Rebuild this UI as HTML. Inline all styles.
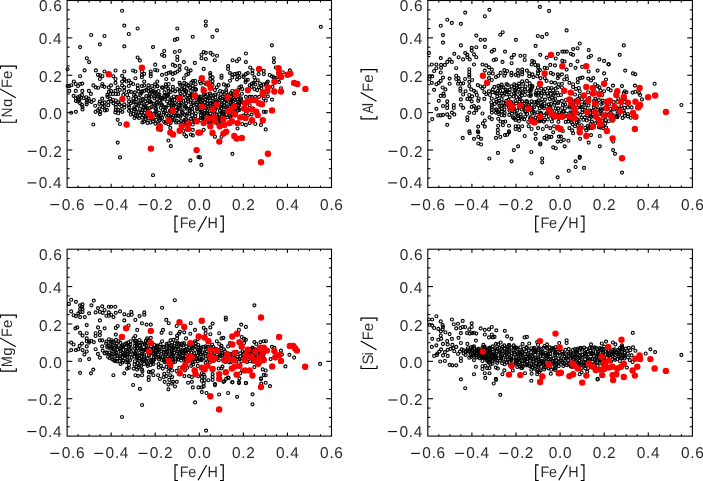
<!DOCTYPE html><html><head><meta charset="utf-8"><style>html,body{margin:0;padding:0;background:#fff;overflow:hidden}svg{display:block;will-change:transform}</style></head><body><svg width="703" height="481" viewBox="0 0 703 481">
<rect width="703" height="481" fill="#fff"/>
<g fill="none" stroke="#000" stroke-width="1.15">
<circle cx="122.1" cy="10.7" r="1.5"/>
<circle cx="124.3" cy="25.6" r="1.5"/>
<circle cx="128.8" cy="34.0" r="1.5"/>
<circle cx="137.6" cy="28.5" r="1.5"/>
<circle cx="91.2" cy="35.0" r="1.5"/>
<circle cx="104.5" cy="36.0" r="1.5"/>
<circle cx="124.3" cy="46.3" r="1.5"/>
<circle cx="99.9" cy="44.4" r="1.5"/>
<circle cx="80.1" cy="47.1" r="1.5"/>
<circle cx="153.0" cy="47.1" r="1.5"/>
<circle cx="177.3" cy="28.5" r="1.5"/>
<circle cx="174.8" cy="39.9" r="1.5"/>
<circle cx="177.3" cy="38.9" r="1.5"/>
<circle cx="192.7" cy="36.7" r="1.5"/>
<circle cx="86.8" cy="58.2" r="1.5"/>
<circle cx="89.1" cy="62.1" r="1.5"/>
<circle cx="137.6" cy="57.5" r="1.5"/>
<circle cx="139.9" cy="60.4" r="1.5"/>
<circle cx="164.2" cy="51.0" r="1.5"/>
<circle cx="162.0" cy="54.7" r="1.5"/>
<circle cx="164.2" cy="55.9" r="1.5"/>
<circle cx="174.8" cy="52.0" r="1.5"/>
<circle cx="179.6" cy="51.0" r="1.5"/>
<circle cx="177.3" cy="56.7" r="1.5"/>
<circle cx="177.3" cy="60.0" r="1.5"/>
<circle cx="183.9" cy="62.1" r="1.5"/>
<circle cx="194.9" cy="62.9" r="1.5"/>
<circle cx="155.2" cy="64.7" r="1.5"/>
<circle cx="164.2" cy="66.8" r="1.5"/>
<circle cx="172.8" cy="64.7" r="1.5"/>
<circle cx="175.1" cy="65.9" r="1.5"/>
<circle cx="179.6" cy="65.9" r="1.5"/>
<circle cx="84.6" cy="70.4" r="1.5"/>
<circle cx="95.9" cy="70.4" r="1.5"/>
<circle cx="104.5" cy="71.5" r="1.5"/>
<circle cx="115.5" cy="70.5" r="1.5"/>
<circle cx="124.3" cy="71.5" r="1.5"/>
<circle cx="133.1" cy="70.5" r="1.5"/>
<circle cx="135.4" cy="71.5" r="1.5"/>
<circle cx="141.9" cy="71.5" r="1.5"/>
<circle cx="150.7" cy="71.5" r="1.5"/>
<circle cx="155.2" cy="70.0" r="1.5"/>
<circle cx="157.3" cy="70.5" r="1.5"/>
<circle cx="186.3" cy="68.2" r="1.5"/>
<circle cx="179.6" cy="69.8" r="1.5"/>
<circle cx="190.6" cy="70.4" r="1.5"/>
<circle cx="188.4" cy="71.5" r="1.5"/>
<circle cx="80.1" cy="76.2" r="1.5"/>
<circle cx="97.9" cy="74.8" r="1.5"/>
<circle cx="100.2" cy="75.2" r="1.5"/>
<circle cx="102.4" cy="76.2" r="1.5"/>
<circle cx="99.9" cy="79.0" r="1.5"/>
<circle cx="113.3" cy="76.2" r="1.5"/>
<circle cx="122.1" cy="75.8" r="1.5"/>
<circle cx="115.5" cy="79.0" r="1.5"/>
<circle cx="124.3" cy="79.0" r="1.5"/>
<circle cx="135.4" cy="78.2" r="1.5"/>
<circle cx="141.9" cy="75.0" r="1.5"/>
<circle cx="144.2" cy="73.9" r="1.5"/>
<circle cx="141.9" cy="77.2" r="1.5"/>
<circle cx="150.7" cy="73.9" r="1.5"/>
<circle cx="150.7" cy="76.2" r="1.5"/>
<circle cx="162.0" cy="74.8" r="1.5"/>
<circle cx="166.3" cy="73.9" r="1.5"/>
<circle cx="168.7" cy="72.7" r="1.5"/>
<circle cx="170.6" cy="72.3" r="1.5"/>
<circle cx="172.8" cy="73.9" r="1.5"/>
<circle cx="175.1" cy="72.9" r="1.5"/>
<circle cx="177.5" cy="71.5" r="1.5"/>
<circle cx="186.3" cy="74.8" r="1.5"/>
<circle cx="188.4" cy="73.9" r="1.5"/>
<circle cx="166.3" cy="79.0" r="1.5"/>
<circle cx="172.8" cy="79.5" r="1.5"/>
<circle cx="183.9" cy="78.2" r="1.5"/>
<circle cx="192.9" cy="81.1" r="1.5"/>
<circle cx="195.1" cy="80.7" r="1.5"/>
<circle cx="73.8" cy="81.5" r="1.5"/>
<circle cx="67.6" cy="69.2" r="1.5"/>
<circle cx="75.8" cy="84.0" r="1.5"/>
<circle cx="80.1" cy="84.0" r="1.5"/>
<circle cx="82.3" cy="83.6" r="1.5"/>
<circle cx="102.4" cy="84.0" r="1.5"/>
<circle cx="115.5" cy="82.9" r="1.5"/>
<circle cx="122.1" cy="81.5" r="1.5"/>
<circle cx="124.3" cy="80.1" r="1.5"/>
<circle cx="126.6" cy="81.5" r="1.5"/>
<circle cx="128.8" cy="80.5" r="1.5"/>
<circle cx="130.9" cy="82.9" r="1.5"/>
<circle cx="133.1" cy="84.0" r="1.5"/>
<circle cx="144.2" cy="81.5" r="1.5"/>
<circle cx="157.3" cy="81.5" r="1.5"/>
<circle cx="168.7" cy="84.0" r="1.5"/>
<circle cx="179.6" cy="82.9" r="1.5"/>
<circle cx="184.3" cy="82.9" r="1.5"/>
<circle cx="186.3" cy="84.0" r="1.5"/>
<circle cx="67.6" cy="86.0" r="1.5"/>
<circle cx="69.3" cy="86.0" r="1.5"/>
<circle cx="71.3" cy="85.2" r="1.5"/>
<circle cx="78.0" cy="86.0" r="1.5"/>
<circle cx="93.4" cy="85.4" r="1.5"/>
<circle cx="95.9" cy="87.4" r="1.5"/>
<circle cx="98.1" cy="87.7" r="1.5"/>
<circle cx="102.2" cy="86.0" r="1.5"/>
<circle cx="104.5" cy="86.8" r="1.5"/>
<circle cx="111.0" cy="85.4" r="1.5"/>
<circle cx="108.8" cy="87.4" r="1.5"/>
<circle cx="117.6" cy="87.4" r="1.5"/>
<circle cx="122.1" cy="85.4" r="1.5"/>
<circle cx="124.3" cy="87.4" r="1.5"/>
<circle cx="128.8" cy="86.0" r="1.5"/>
<circle cx="137.6" cy="85.4" r="1.5"/>
<circle cx="144.2" cy="85.4" r="1.5"/>
<circle cx="148.5" cy="85.4" r="1.5"/>
<circle cx="157.3" cy="86.0" r="1.5"/>
<circle cx="162.0" cy="87.4" r="1.5"/>
<circle cx="166.3" cy="86.8" r="1.5"/>
<circle cx="184.3" cy="87.0" r="1.5"/>
<circle cx="188.2" cy="86.0" r="1.5"/>
<circle cx="192.7" cy="86.0" r="1.5"/>
<circle cx="195.1" cy="88.9" r="1.5"/>
<circle cx="69.3" cy="90.9" r="1.5"/>
<circle cx="75.8" cy="90.9" r="1.5"/>
<circle cx="82.3" cy="90.9" r="1.5"/>
<circle cx="88.9" cy="90.9" r="1.5"/>
<circle cx="108.8" cy="91.9" r="1.5"/>
<circle cx="111.0" cy="90.9" r="1.5"/>
<circle cx="115.5" cy="90.9" r="1.5"/>
<circle cx="119.8" cy="89.9" r="1.5"/>
<circle cx="124.3" cy="90.9" r="1.5"/>
<circle cx="128.8" cy="91.3" r="1.5"/>
<circle cx="130.9" cy="91.9" r="1.5"/>
<circle cx="141.9" cy="91.9" r="1.5"/>
<circle cx="144.2" cy="90.9" r="1.5"/>
<circle cx="146.4" cy="89.9" r="1.5"/>
<circle cx="148.5" cy="90.9" r="1.5"/>
<circle cx="150.7" cy="89.9" r="1.5"/>
<circle cx="153.0" cy="90.9" r="1.5"/>
<circle cx="155.2" cy="91.9" r="1.5"/>
<circle cx="168.7" cy="90.9" r="1.5"/>
<circle cx="170.6" cy="91.9" r="1.5"/>
<circle cx="172.8" cy="89.9" r="1.5"/>
<circle cx="179.6" cy="90.9" r="1.5"/>
<circle cx="183.9" cy="89.9" r="1.5"/>
<circle cx="186.3" cy="90.9" r="1.5"/>
<circle cx="190.6" cy="90.9" r="1.5"/>
<circle cx="205.8" cy="21.5" r="1.5"/>
<circle cx="205.8" cy="25.6" r="1.5"/>
<circle cx="217.0" cy="30.3" r="1.5"/>
<circle cx="212.5" cy="36.7" r="1.5"/>
<circle cx="320.8" cy="26.8" r="1.5"/>
<circle cx="271.9" cy="45.3" r="1.5"/>
<circle cx="203.7" cy="52.0" r="1.5"/>
<circle cx="205.8" cy="52.8" r="1.5"/>
<circle cx="210.5" cy="52.8" r="1.5"/>
<circle cx="201.5" cy="54.7" r="1.5"/>
<circle cx="212.7" cy="54.7" r="1.5"/>
<circle cx="217.0" cy="55.7" r="1.5"/>
<circle cx="201.5" cy="58.2" r="1.5"/>
<circle cx="205.8" cy="59.0" r="1.5"/>
<circle cx="214.8" cy="60.2" r="1.5"/>
<circle cx="245.9" cy="53.5" r="1.5"/>
<circle cx="232.6" cy="60.2" r="1.5"/>
<circle cx="236.9" cy="61.2" r="1.5"/>
<circle cx="239.1" cy="59.0" r="1.5"/>
<circle cx="245.9" cy="62.1" r="1.5"/>
<circle cx="273.9" cy="58.2" r="1.5"/>
<circle cx="273.9" cy="62.1" r="1.5"/>
<circle cx="203.7" cy="68.9" r="1.5"/>
<circle cx="228.1" cy="66.1" r="1.5"/>
<circle cx="228.1" cy="68.9" r="1.5"/>
<circle cx="210.3" cy="73.1" r="1.5"/>
<circle cx="210.3" cy="75.0" r="1.5"/>
<circle cx="212.6" cy="77.4" r="1.5"/>
<circle cx="210.3" cy="78.8" r="1.5"/>
<circle cx="212.6" cy="81.1" r="1.5"/>
<circle cx="221.5" cy="75.5" r="1.5"/>
<circle cx="221.5" cy="77.8" r="1.5"/>
<circle cx="230.0" cy="73.1" r="1.5"/>
<circle cx="232.3" cy="74.6" r="1.5"/>
<circle cx="234.7" cy="74.1" r="1.5"/>
<circle cx="237.0" cy="73.6" r="1.5"/>
<circle cx="239.4" cy="73.1" r="1.5"/>
<circle cx="232.3" cy="77.4" r="1.5"/>
<circle cx="237.5" cy="76.0" r="1.5"/>
<circle cx="239.4" cy="77.4" r="1.5"/>
<circle cx="237.0" cy="79.3" r="1.5"/>
<circle cx="230.0" cy="80.7" r="1.5"/>
<circle cx="243.6" cy="75.5" r="1.5"/>
<circle cx="243.6" cy="76.9" r="1.5"/>
<circle cx="245.9" cy="74.1" r="1.5"/>
<circle cx="247.8" cy="73.1" r="1.5"/>
<circle cx="250.2" cy="67.5" r="1.5"/>
<circle cx="252.5" cy="70.3" r="1.5"/>
<circle cx="252.5" cy="73.6" r="1.5"/>
<circle cx="258.6" cy="74.1" r="1.5"/>
<circle cx="263.8" cy="70.8" r="1.5"/>
<circle cx="263.8" cy="74.1" r="1.5"/>
<circle cx="245.9" cy="80.2" r="1.5"/>
<circle cx="247.8" cy="79.7" r="1.5"/>
<circle cx="245.5" cy="82.1" r="1.5"/>
<circle cx="254.4" cy="77.4" r="1.5"/>
<circle cx="255.3" cy="80.2" r="1.5"/>
<circle cx="257.7" cy="80.2" r="1.5"/>
<circle cx="252.0" cy="83.5" r="1.5"/>
<circle cx="253.5" cy="83.0" r="1.5"/>
<circle cx="255.3" cy="84.4" r="1.5"/>
<circle cx="260.0" cy="83.5" r="1.5"/>
<circle cx="261.0" cy="85.8" r="1.5"/>
<circle cx="263.8" cy="84.4" r="1.5"/>
<circle cx="249.7" cy="85.4" r="1.5"/>
<circle cx="251.6" cy="86.8" r="1.5"/>
<circle cx="218.7" cy="84.9" r="1.5"/>
<circle cx="216.8" cy="87.2" r="1.5"/>
<circle cx="223.9" cy="84.4" r="1.5"/>
<circle cx="226.2" cy="85.8" r="1.5"/>
<circle cx="228.1" cy="85.4" r="1.5"/>
<circle cx="215.0" cy="90.1" r="1.5"/>
<circle cx="220.1" cy="91.0" r="1.5"/>
<circle cx="226.2" cy="90.1" r="1.5"/>
<circle cx="226.2" cy="92.4" r="1.5"/>
<circle cx="222.5" cy="91.9" r="1.5"/>
<circle cx="239.4" cy="87.2" r="1.5"/>
<circle cx="241.2" cy="86.3" r="1.5"/>
<circle cx="242.2" cy="89.1" r="1.5"/>
<circle cx="238.4" cy="90.1" r="1.5"/>
<circle cx="232.3" cy="91.0" r="1.5"/>
<circle cx="202.8" cy="88.2" r="1.5"/>
<circle cx="200.9" cy="83.5" r="1.5"/>
<circle cx="204.2" cy="82.5" r="1.5"/>
<circle cx="206.0" cy="84.0" r="1.5"/>
<circle cx="212.6" cy="84.9" r="1.5"/>
<circle cx="254.4" cy="89.1" r="1.5"/>
<circle cx="257.2" cy="90.1" r="1.5"/>
<circle cx="259.1" cy="87.2" r="1.5"/>
<circle cx="261.4" cy="88.2" r="1.5"/>
<circle cx="199.9" cy="81.6" r="1.5"/>
<circle cx="275.8" cy="67.5" r="1.5"/>
<circle cx="289.9" cy="70.3" r="1.5"/>
<circle cx="282.8" cy="72.2" r="1.5"/>
<circle cx="269.7" cy="75.0" r="1.5"/>
<circle cx="272.0" cy="76.4" r="1.5"/>
<circle cx="273.9" cy="77.4" r="1.5"/>
<circle cx="275.8" cy="77.8" r="1.5"/>
<circle cx="278.1" cy="79.7" r="1.5"/>
<circle cx="279.1" cy="82.1" r="1.5"/>
<circle cx="267.8" cy="81.6" r="1.5"/>
<circle cx="266.9" cy="83.0" r="1.5"/>
<circle cx="272.5" cy="86.8" r="1.5"/>
<circle cx="281.0" cy="88.2" r="1.5"/>
<circle cx="265.9" cy="84.4" r="1.5"/>
<circle cx="294.1" cy="93.3" r="1.5"/>
<circle cx="73.6" cy="95.8" r="1.5"/>
<circle cx="75.9" cy="98.2" r="1.5"/>
<circle cx="77.8" cy="97.2" r="1.5"/>
<circle cx="79.7" cy="96.3" r="1.5"/>
<circle cx="82.0" cy="94.9" r="1.5"/>
<circle cx="81.1" cy="97.7" r="1.5"/>
<circle cx="83.9" cy="98.2" r="1.5"/>
<circle cx="86.2" cy="97.2" r="1.5"/>
<circle cx="88.6" cy="98.6" r="1.5"/>
<circle cx="87.2" cy="100.0" r="1.5"/>
<circle cx="89.5" cy="101.0" r="1.5"/>
<circle cx="91.4" cy="101.9" r="1.5"/>
<circle cx="93.8" cy="100.0" r="1.5"/>
<circle cx="90.9" cy="93.9" r="1.5"/>
<circle cx="77.8" cy="101.5" r="1.5"/>
<circle cx="80.1" cy="103.3" r="1.5"/>
<circle cx="82.0" cy="104.7" r="1.5"/>
<circle cx="82.5" cy="107.1" r="1.5"/>
<circle cx="82.5" cy="109.4" r="1.5"/>
<circle cx="86.7" cy="102.4" r="1.5"/>
<circle cx="86.7" cy="104.3" r="1.5"/>
<circle cx="79.2" cy="100.0" r="1.5"/>
<circle cx="75.9" cy="101.0" r="1.5"/>
<circle cx="78.3" cy="99.6" r="1.5"/>
<circle cx="71.2" cy="112.7" r="1.5"/>
<circle cx="75.9" cy="111.8" r="1.5"/>
<circle cx="95.2" cy="105.7" r="1.5"/>
<circle cx="95.6" cy="111.8" r="1.5"/>
<circle cx="98.0" cy="110.4" r="1.5"/>
<circle cx="100.3" cy="111.8" r="1.5"/>
<circle cx="99.9" cy="114.1" r="1.5"/>
<circle cx="99.4" cy="108.5" r="1.5"/>
<circle cx="99.4" cy="103.8" r="1.5"/>
<circle cx="99.9" cy="101.5" r="1.5"/>
<circle cx="102.2" cy="98.6" r="1.5"/>
<circle cx="102.2" cy="103.3" r="1.5"/>
<circle cx="102.7" cy="107.1" r="1.5"/>
<circle cx="104.6" cy="102.4" r="1.5"/>
<circle cx="105.0" cy="110.4" r="1.5"/>
<circle cx="106.9" cy="109.9" r="1.5"/>
<circle cx="104.6" cy="106.1" r="1.5"/>
<circle cx="108.3" cy="101.9" r="1.5"/>
<circle cx="108.3" cy="105.2" r="1.5"/>
<circle cx="107.4" cy="94.9" r="1.5"/>
<circle cx="107.4" cy="96.8" r="1.5"/>
<circle cx="110.2" cy="93.9" r="1.5"/>
<circle cx="113.0" cy="93.9" r="1.5"/>
<circle cx="115.8" cy="93.9" r="1.5"/>
<circle cx="118.2" cy="93.9" r="1.5"/>
<circle cx="110.2" cy="98.6" r="1.5"/>
<circle cx="111.1" cy="101.5" r="1.5"/>
<circle cx="113.0" cy="100.0" r="1.5"/>
<circle cx="113.5" cy="103.3" r="1.5"/>
<circle cx="115.8" cy="100.5" r="1.5"/>
<circle cx="115.8" cy="104.3" r="1.5"/>
<circle cx="118.2" cy="102.4" r="1.5"/>
<circle cx="115.8" cy="107.1" r="1.5"/>
<circle cx="115.8" cy="109.9" r="1.5"/>
<circle cx="115.3" cy="112.3" r="1.5"/>
<circle cx="118.2" cy="109.9" r="1.5"/>
<circle cx="118.2" cy="113.2" r="1.5"/>
<circle cx="120.5" cy="110.4" r="1.5"/>
<circle cx="122.4" cy="111.8" r="1.5"/>
<circle cx="124.3" cy="107.6" r="1.5"/>
<circle cx="124.3" cy="104.3" r="1.5"/>
<circle cx="121.5" cy="106.1" r="1.5"/>
<circle cx="119.6" cy="104.3" r="1.5"/>
<circle cx="123.3" cy="94.9" r="1.5"/>
<circle cx="127.1" cy="94.9" r="1.5"/>
<circle cx="128.5" cy="97.7" r="1.5"/>
<circle cx="129.0" cy="101.5" r="1.5"/>
<circle cx="128.5" cy="105.2" r="1.5"/>
<circle cx="129.0" cy="107.1" r="1.5"/>
<circle cx="130.8" cy="103.3" r="1.5"/>
<circle cx="131.8" cy="101.5" r="1.5"/>
<circle cx="129.0" cy="110.8" r="1.5"/>
<circle cx="131.3" cy="110.4" r="1.5"/>
<circle cx="130.8" cy="114.6" r="1.5"/>
<circle cx="117.7" cy="119.8" r="1.5"/>
<circle cx="120.0" cy="124.0" r="1.5"/>
<circle cx="93.3" cy="124.5" r="1.5"/>
<circle cx="245.9" cy="96.8" r="1.5"/>
<circle cx="249.7" cy="96.8" r="1.5"/>
<circle cx="251.6" cy="96.8" r="1.5"/>
<circle cx="255.3" cy="96.8" r="1.5"/>
<circle cx="259.1" cy="96.8" r="1.5"/>
<circle cx="263.8" cy="98.6" r="1.5"/>
<circle cx="263.8" cy="111.8" r="1.5"/>
<circle cx="249.7" cy="105.2" r="1.5"/>
<circle cx="247.8" cy="115.5" r="1.5"/>
<circle cx="251.6" cy="114.6" r="1.5"/>
<circle cx="239.4" cy="102.4" r="1.5"/>
<circle cx="239.4" cy="109.9" r="1.5"/>
<circle cx="238.4" cy="106.1" r="1.5"/>
<circle cx="242.2" cy="124.0" r="1.5"/>
<circle cx="245.9" cy="124.9" r="1.5"/>
<circle cx="249.7" cy="123.1" r="1.5"/>
<circle cx="255.3" cy="124.0" r="1.5"/>
<circle cx="261.0" cy="124.9" r="1.5"/>
<circle cx="245.9" cy="113.2" r="1.5"/>
<circle cx="243.1" cy="115.5" r="1.5"/>
<circle cx="267.8" cy="96.3" r="1.5"/>
<circle cx="272.0" cy="99.6" r="1.5"/>
<circle cx="265.8" cy="100.5" r="1.5"/>
<circle cx="265.8" cy="111.8" r="1.5"/>
<circle cx="160.9" cy="129.8" r="1.5"/>
<circle cx="170.3" cy="127.9" r="1.5"/>
<circle cx="183.4" cy="130.8" r="1.5"/>
<circle cx="192.8" cy="129.8" r="1.5"/>
<circle cx="184.4" cy="134.5" r="1.5"/>
<circle cx="186.2" cy="136.4" r="1.5"/>
<circle cx="190.9" cy="134.5" r="1.5"/>
<circle cx="192.8" cy="135.4" r="1.5"/>
<circle cx="168.4" cy="140.5" r="1.5"/>
<circle cx="170.8" cy="146.1" r="1.5"/>
<circle cx="117.7" cy="142.6" r="1.5"/>
<circle cx="120.0" cy="157.4" r="1.5"/>
<circle cx="190.4" cy="160.4" r="1.5"/>
<circle cx="153.0" cy="175.2" r="1.5"/>
<circle cx="198.4" cy="157.0" r="1.5"/>
<circle cx="203.7" cy="129.8" r="1.5"/>
<circle cx="215.0" cy="136.8" r="1.5"/>
<circle cx="221.5" cy="136.8" r="1.5"/>
<circle cx="237.5" cy="128.5" r="1.5"/>
<circle cx="265.7" cy="129.4" r="1.5"/>
<circle cx="232.4" cy="153.8" r="1.5"/>
<circle cx="199.9" cy="157.4" r="1.5"/>
<circle cx="201.4" cy="164.9" r="1.5"/>
<circle cx="134.1" cy="94.9" r="1.5"/>
<circle cx="133.4" cy="98.4" r="1.5"/>
<circle cx="133.8" cy="102.2" r="1.5"/>
<circle cx="134.3" cy="107.2" r="1.5"/>
<circle cx="134.1" cy="109.0" r="1.5"/>
<circle cx="133.3" cy="113.9" r="1.5"/>
<circle cx="134.5" cy="118.0" r="1.5"/>
<circle cx="135.6" cy="96.4" r="1.5"/>
<circle cx="136.4" cy="98.9" r="1.5"/>
<circle cx="135.7" cy="101.8" r="1.5"/>
<circle cx="136.3" cy="105.0" r="1.5"/>
<circle cx="135.1" cy="109.4" r="1.5"/>
<circle cx="136.5" cy="111.8" r="1.5"/>
<circle cx="135.5" cy="115.8" r="1.5"/>
<circle cx="137.3" cy="116.4" r="1.5"/>
<circle cx="140.2" cy="94.7" r="1.5"/>
<circle cx="138.8" cy="97.5" r="1.5"/>
<circle cx="140.4" cy="101.1" r="1.5"/>
<circle cx="139.4" cy="103.4" r="1.5"/>
<circle cx="138.1" cy="105.4" r="1.5"/>
<circle cx="140.1" cy="108.9" r="1.5"/>
<circle cx="138.5" cy="112.2" r="1.5"/>
<circle cx="139.9" cy="115.5" r="1.5"/>
<circle cx="139.0" cy="117.9" r="1.5"/>
<circle cx="141.1" cy="93.2" r="1.5"/>
<circle cx="142.9" cy="98.7" r="1.5"/>
<circle cx="142.6" cy="100.1" r="1.5"/>
<circle cx="141.4" cy="103.4" r="1.5"/>
<circle cx="143.6" cy="107.1" r="1.5"/>
<circle cx="142.4" cy="110.3" r="1.5"/>
<circle cx="141.6" cy="112.3" r="1.5"/>
<circle cx="143.5" cy="115.5" r="1.5"/>
<circle cx="142.2" cy="117.6" r="1.5"/>
<circle cx="142.4" cy="122.4" r="1.5"/>
<circle cx="146.3" cy="96.1" r="1.5"/>
<circle cx="146.1" cy="98.5" r="1.5"/>
<circle cx="145.4" cy="101.2" r="1.5"/>
<circle cx="144.1" cy="105.3" r="1.5"/>
<circle cx="145.5" cy="106.5" r="1.5"/>
<circle cx="145.3" cy="110.2" r="1.5"/>
<circle cx="144.9" cy="112.8" r="1.5"/>
<circle cx="145.4" cy="116.6" r="1.5"/>
<circle cx="145.6" cy="119.1" r="1.5"/>
<circle cx="144.0" cy="121.4" r="1.5"/>
<circle cx="149.0" cy="96.4" r="1.5"/>
<circle cx="149.1" cy="97.9" r="1.5"/>
<circle cx="149.2" cy="102.0" r="1.5"/>
<circle cx="147.1" cy="103.2" r="1.5"/>
<circle cx="147.0" cy="108.1" r="1.5"/>
<circle cx="147.6" cy="109.4" r="1.5"/>
<circle cx="148.6" cy="113.0" r="1.5"/>
<circle cx="147.1" cy="115.4" r="1.5"/>
<circle cx="148.3" cy="118.4" r="1.5"/>
<circle cx="147.6" cy="122.9" r="1.5"/>
<circle cx="149.9" cy="94.1" r="1.5"/>
<circle cx="151.0" cy="96.5" r="1.5"/>
<circle cx="150.2" cy="101.4" r="1.5"/>
<circle cx="151.2" cy="102.5" r="1.5"/>
<circle cx="151.5" cy="107.1" r="1.5"/>
<circle cx="149.9" cy="108.0" r="1.5"/>
<circle cx="150.3" cy="112.8" r="1.5"/>
<circle cx="150.3" cy="115.7" r="1.5"/>
<circle cx="151.7" cy="118.3" r="1.5"/>
<circle cx="150.5" cy="122.4" r="1.5"/>
<circle cx="154.6" cy="93.4" r="1.5"/>
<circle cx="154.4" cy="96.2" r="1.5"/>
<circle cx="154.5" cy="98.4" r="1.5"/>
<circle cx="153.7" cy="103.8" r="1.5"/>
<circle cx="155.2" cy="105.0" r="1.5"/>
<circle cx="155.2" cy="108.0" r="1.5"/>
<circle cx="155.4" cy="112.1" r="1.5"/>
<circle cx="154.0" cy="113.8" r="1.5"/>
<circle cx="152.9" cy="118.4" r="1.5"/>
<circle cx="153.0" cy="121.3" r="1.5"/>
<circle cx="155.4" cy="123.6" r="1.5"/>
<circle cx="158.1" cy="94.8" r="1.5"/>
<circle cx="157.7" cy="96.5" r="1.5"/>
<circle cx="156.8" cy="99.0" r="1.5"/>
<circle cx="156.4" cy="102.9" r="1.5"/>
<circle cx="157.0" cy="104.6" r="1.5"/>
<circle cx="156.1" cy="108.8" r="1.5"/>
<circle cx="156.6" cy="111.3" r="1.5"/>
<circle cx="156.7" cy="115.3" r="1.5"/>
<circle cx="158.2" cy="116.0" r="1.5"/>
<circle cx="156.4" cy="119.8" r="1.5"/>
<circle cx="158.5" cy="124.0" r="1.5"/>
<circle cx="159.4" cy="94.5" r="1.5"/>
<circle cx="161.0" cy="98.1" r="1.5"/>
<circle cx="159.7" cy="101.0" r="1.5"/>
<circle cx="160.6" cy="102.9" r="1.5"/>
<circle cx="161.4" cy="105.2" r="1.5"/>
<circle cx="160.7" cy="107.7" r="1.5"/>
<circle cx="159.2" cy="112.9" r="1.5"/>
<circle cx="159.4" cy="115.5" r="1.5"/>
<circle cx="160.4" cy="118.7" r="1.5"/>
<circle cx="159.8" cy="120.3" r="1.5"/>
<circle cx="164.3" cy="95.8" r="1.5"/>
<circle cx="162.1" cy="97.9" r="1.5"/>
<circle cx="162.0" cy="99.5" r="1.5"/>
<circle cx="162.0" cy="104.7" r="1.5"/>
<circle cx="163.9" cy="107.6" r="1.5"/>
<circle cx="162.7" cy="110.0" r="1.5"/>
<circle cx="163.9" cy="112.3" r="1.5"/>
<circle cx="163.3" cy="114.8" r="1.5"/>
<circle cx="162.0" cy="117.9" r="1.5"/>
<circle cx="164.1" cy="121.7" r="1.5"/>
<circle cx="166.8" cy="94.7" r="1.5"/>
<circle cx="164.8" cy="97.2" r="1.5"/>
<circle cx="165.0" cy="98.7" r="1.5"/>
<circle cx="167.1" cy="101.5" r="1.5"/>
<circle cx="165.4" cy="107.0" r="1.5"/>
<circle cx="165.9" cy="107.6" r="1.5"/>
<circle cx="165.2" cy="111.0" r="1.5"/>
<circle cx="166.7" cy="113.6" r="1.5"/>
<circle cx="167.2" cy="117.3" r="1.5"/>
<circle cx="167.3" cy="121.7" r="1.5"/>
<circle cx="165.5" cy="122.9" r="1.5"/>
<circle cx="168.0" cy="94.8" r="1.5"/>
<circle cx="167.8" cy="96.1" r="1.5"/>
<circle cx="170.3" cy="99.8" r="1.5"/>
<circle cx="169.3" cy="103.2" r="1.5"/>
<circle cx="168.5" cy="105.1" r="1.5"/>
<circle cx="170.1" cy="110.5" r="1.5"/>
<circle cx="170.3" cy="111.2" r="1.5"/>
<circle cx="168.3" cy="115.5" r="1.5"/>
<circle cx="170.3" cy="118.3" r="1.5"/>
<circle cx="169.5" cy="121.6" r="1.5"/>
<circle cx="168.4" cy="124.2" r="1.5"/>
<circle cx="171.4" cy="98.2" r="1.5"/>
<circle cx="171.9" cy="100.3" r="1.5"/>
<circle cx="172.4" cy="104.0" r="1.5"/>
<circle cx="171.7" cy="105.3" r="1.5"/>
<circle cx="171.6" cy="108.3" r="1.5"/>
<circle cx="172.9" cy="112.8" r="1.5"/>
<circle cx="171.5" cy="114.3" r="1.5"/>
<circle cx="172.1" cy="117.9" r="1.5"/>
<circle cx="172.3" cy="120.0" r="1.5"/>
<circle cx="170.7" cy="122.9" r="1.5"/>
<circle cx="173.8" cy="96.5" r="1.5"/>
<circle cx="174.4" cy="99.9" r="1.5"/>
<circle cx="175.0" cy="103.1" r="1.5"/>
<circle cx="174.1" cy="105.1" r="1.5"/>
<circle cx="175.8" cy="106.9" r="1.5"/>
<circle cx="176.2" cy="110.2" r="1.5"/>
<circle cx="175.7" cy="115.3" r="1.5"/>
<circle cx="175.8" cy="116.5" r="1.5"/>
<circle cx="173.9" cy="120.0" r="1.5"/>
<circle cx="176.1" cy="122.4" r="1.5"/>
<circle cx="177.0" cy="96.8" r="1.5"/>
<circle cx="176.7" cy="98.1" r="1.5"/>
<circle cx="179.0" cy="102.4" r="1.5"/>
<circle cx="179.0" cy="105.5" r="1.5"/>
<circle cx="178.6" cy="108.0" r="1.5"/>
<circle cx="177.1" cy="110.3" r="1.5"/>
<circle cx="177.0" cy="114.1" r="1.5"/>
<circle cx="178.4" cy="115.8" r="1.5"/>
<circle cx="176.8" cy="120.7" r="1.5"/>
<circle cx="178.8" cy="122.5" r="1.5"/>
<circle cx="180.6" cy="93.9" r="1.5"/>
<circle cx="180.3" cy="96.0" r="1.5"/>
<circle cx="181.3" cy="100.1" r="1.5"/>
<circle cx="181.1" cy="102.1" r="1.5"/>
<circle cx="180.5" cy="105.3" r="1.5"/>
<circle cx="179.9" cy="108.6" r="1.5"/>
<circle cx="181.8" cy="111.9" r="1.5"/>
<circle cx="180.7" cy="115.4" r="1.5"/>
<circle cx="180.2" cy="116.8" r="1.5"/>
<circle cx="181.0" cy="121.1" r="1.5"/>
<circle cx="181.3" cy="123.9" r="1.5"/>
<circle cx="184.5" cy="94.3" r="1.5"/>
<circle cx="183.9" cy="98.0" r="1.5"/>
<circle cx="183.2" cy="100.7" r="1.5"/>
<circle cx="184.1" cy="105.0" r="1.5"/>
<circle cx="185.0" cy="106.3" r="1.5"/>
<circle cx="184.3" cy="108.7" r="1.5"/>
<circle cx="182.8" cy="112.9" r="1.5"/>
<circle cx="184.9" cy="114.9" r="1.5"/>
<circle cx="184.6" cy="119.8" r="1.5"/>
<circle cx="183.4" cy="122.3" r="1.5"/>
<circle cx="184.8" cy="124.4" r="1.5"/>
<circle cx="187.5" cy="95.3" r="1.5"/>
<circle cx="187.8" cy="99.1" r="1.5"/>
<circle cx="188.1" cy="101.2" r="1.5"/>
<circle cx="186.0" cy="103.3" r="1.5"/>
<circle cx="186.1" cy="107.2" r="1.5"/>
<circle cx="187.6" cy="108.7" r="1.5"/>
<circle cx="187.4" cy="113.5" r="1.5"/>
<circle cx="186.5" cy="115.9" r="1.5"/>
<circle cx="186.0" cy="119.5" r="1.5"/>
<circle cx="185.6" cy="123.1" r="1.5"/>
<circle cx="187.7" cy="125.1" r="1.5"/>
<circle cx="190.9" cy="95.0" r="1.5"/>
<circle cx="188.9" cy="97.5" r="1.5"/>
<circle cx="190.8" cy="100.2" r="1.5"/>
<circle cx="190.4" cy="102.6" r="1.5"/>
<circle cx="191.0" cy="106.9" r="1.5"/>
<circle cx="189.5" cy="109.5" r="1.5"/>
<circle cx="189.7" cy="110.7" r="1.5"/>
<circle cx="189.4" cy="113.6" r="1.5"/>
<circle cx="190.9" cy="118.8" r="1.5"/>
<circle cx="188.8" cy="120.8" r="1.5"/>
<circle cx="189.6" cy="122.5" r="1.5"/>
<circle cx="192.1" cy="94.5" r="1.5"/>
<circle cx="191.5" cy="96.0" r="1.5"/>
<circle cx="192.6" cy="98.5" r="1.5"/>
<circle cx="193.1" cy="103.1" r="1.5"/>
<circle cx="193.7" cy="105.0" r="1.5"/>
<circle cx="192.2" cy="108.8" r="1.5"/>
<circle cx="192.2" cy="111.9" r="1.5"/>
<circle cx="192.1" cy="115.2" r="1.5"/>
<circle cx="193.6" cy="118.5" r="1.5"/>
<circle cx="194.1" cy="120.7" r="1.5"/>
<circle cx="192.8" cy="124.5" r="1.5"/>
<circle cx="196.0" cy="95.0" r="1.5"/>
<circle cx="195.2" cy="97.2" r="1.5"/>
<circle cx="196.6" cy="100.2" r="1.5"/>
<circle cx="196.4" cy="104.3" r="1.5"/>
<circle cx="197.0" cy="107.9" r="1.5"/>
<circle cx="197.0" cy="109.2" r="1.5"/>
<circle cx="195.8" cy="113.3" r="1.5"/>
<circle cx="195.3" cy="116.1" r="1.5"/>
<circle cx="195.4" cy="119.1" r="1.5"/>
<circle cx="194.4" cy="121.9" r="1.5"/>
<circle cx="198.7" cy="97.6" r="1.5"/>
<circle cx="198.4" cy="99.3" r="1.5"/>
<circle cx="197.4" cy="102.5" r="1.5"/>
<circle cx="198.2" cy="120.0" r="1.5"/>
<circle cx="199.7" cy="96.6" r="1.5"/>
<circle cx="200.2" cy="99.0" r="1.5"/>
<circle cx="200.9" cy="101.8" r="1.5"/>
<circle cx="200.0" cy="104.5" r="1.5"/>
<circle cx="200.3" cy="106.9" r="1.5"/>
<circle cx="200.3" cy="109.1" r="1.5"/>
<circle cx="200.3" cy="112.3" r="1.5"/>
<circle cx="201.0" cy="115.4" r="1.5"/>
<circle cx="200.8" cy="118.1" r="1.5"/>
<circle cx="200.7" cy="120.4" r="1.5"/>
<circle cx="203.6" cy="95.0" r="1.5"/>
<circle cx="201.8" cy="98.5" r="1.5"/>
<circle cx="202.7" cy="100.3" r="1.5"/>
<circle cx="201.6" cy="103.1" r="1.5"/>
<circle cx="203.3" cy="105.6" r="1.5"/>
<circle cx="202.3" cy="108.9" r="1.5"/>
<circle cx="201.5" cy="111.2" r="1.5"/>
<circle cx="203.8" cy="114.4" r="1.5"/>
<circle cx="202.5" cy="117.1" r="1.5"/>
<circle cx="202.9" cy="118.6" r="1.5"/>
<circle cx="204.4" cy="94.5" r="1.5"/>
<circle cx="205.5" cy="96.1" r="1.5"/>
<circle cx="205.4" cy="99.7" r="1.5"/>
<circle cx="204.6" cy="102.2" r="1.5"/>
<circle cx="205.9" cy="105.4" r="1.5"/>
<circle cx="204.8" cy="107.6" r="1.5"/>
<circle cx="204.8" cy="110.2" r="1.5"/>
<circle cx="204.6" cy="113.4" r="1.5"/>
<circle cx="206.3" cy="115.0" r="1.5"/>
<circle cx="204.7" cy="119.3" r="1.5"/>
<circle cx="205.9" cy="121.7" r="1.5"/>
<circle cx="207.7" cy="94.5" r="1.5"/>
<circle cx="208.8" cy="98.1" r="1.5"/>
<circle cx="207.4" cy="100.4" r="1.5"/>
<circle cx="207.3" cy="104.0" r="1.5"/>
<circle cx="208.0" cy="106.6" r="1.5"/>
<circle cx="208.7" cy="108.5" r="1.5"/>
<circle cx="207.5" cy="111.0" r="1.5"/>
<circle cx="207.2" cy="112.8" r="1.5"/>
<circle cx="208.6" cy="116.1" r="1.5"/>
<circle cx="208.7" cy="118.5" r="1.5"/>
<circle cx="208.7" cy="122.4" r="1.5"/>
<circle cx="209.9" cy="93.6" r="1.5"/>
<circle cx="210.8" cy="95.6" r="1.5"/>
<circle cx="210.1" cy="98.2" r="1.5"/>
<circle cx="211.1" cy="102.9" r="1.5"/>
<circle cx="210.1" cy="103.6" r="1.5"/>
<circle cx="211.3" cy="108.2" r="1.5"/>
<circle cx="212.0" cy="110.4" r="1.5"/>
<circle cx="210.5" cy="113.7" r="1.5"/>
<circle cx="209.9" cy="116.0" r="1.5"/>
<circle cx="209.8" cy="118.0" r="1.5"/>
<circle cx="210.8" cy="120.7" r="1.5"/>
<circle cx="210.0" cy="123.0" r="1.5"/>
<circle cx="213.5" cy="95.4" r="1.5"/>
<circle cx="212.8" cy="98.5" r="1.5"/>
<circle cx="213.1" cy="100.9" r="1.5"/>
<circle cx="214.6" cy="104.6" r="1.5"/>
<circle cx="212.4" cy="106.8" r="1.5"/>
<circle cx="214.4" cy="108.4" r="1.5"/>
<circle cx="213.3" cy="111.7" r="1.5"/>
<circle cx="214.6" cy="114.0" r="1.5"/>
<circle cx="214.5" cy="117.6" r="1.5"/>
<circle cx="212.7" cy="120.7" r="1.5"/>
<circle cx="212.4" cy="121.5" r="1.5"/>
<circle cx="215.2" cy="94.5" r="1.5"/>
<circle cx="215.4" cy="97.4" r="1.5"/>
<circle cx="217.1" cy="101.2" r="1.5"/>
<circle cx="215.1" cy="101.9" r="1.5"/>
<circle cx="217.1" cy="104.5" r="1.5"/>
<circle cx="215.7" cy="107.4" r="1.5"/>
<circle cx="215.3" cy="109.9" r="1.5"/>
<circle cx="216.6" cy="114.4" r="1.5"/>
<circle cx="216.7" cy="117.4" r="1.5"/>
<circle cx="216.7" cy="119.0" r="1.5"/>
<circle cx="216.6" cy="123.1" r="1.5"/>
<circle cx="218.4" cy="93.7" r="1.5"/>
<circle cx="220.0" cy="97.7" r="1.5"/>
<circle cx="218.6" cy="100.4" r="1.5"/>
<circle cx="219.1" cy="102.9" r="1.5"/>
<circle cx="217.9" cy="105.2" r="1.5"/>
<circle cx="218.8" cy="107.6" r="1.5"/>
<circle cx="219.9" cy="110.8" r="1.5"/>
<circle cx="219.4" cy="114.3" r="1.5"/>
<circle cx="219.6" cy="117.0" r="1.5"/>
<circle cx="219.6" cy="118.6" r="1.5"/>
<circle cx="220.1" cy="121.0" r="1.5"/>
<circle cx="222.6" cy="96.4" r="1.5"/>
<circle cx="220.6" cy="97.2" r="1.5"/>
<circle cx="222.5" cy="100.8" r="1.5"/>
<circle cx="221.4" cy="104.8" r="1.5"/>
<circle cx="220.6" cy="106.4" r="1.5"/>
<circle cx="221.6" cy="108.2" r="1.5"/>
<circle cx="221.4" cy="112.3" r="1.5"/>
<circle cx="222.6" cy="113.3" r="1.5"/>
<circle cx="221.8" cy="116.2" r="1.5"/>
<circle cx="222.4" cy="118.9" r="1.5"/>
<circle cx="220.6" cy="122.4" r="1.5"/>
<circle cx="224.0" cy="94.1" r="1.5"/>
<circle cx="225.1" cy="98.5" r="1.5"/>
<circle cx="225.3" cy="99.9" r="1.5"/>
<circle cx="224.2" cy="102.5" r="1.5"/>
<circle cx="224.6" cy="105.4" r="1.5"/>
<circle cx="224.0" cy="109.3" r="1.5"/>
<circle cx="225.5" cy="111.5" r="1.5"/>
<circle cx="223.4" cy="114.4" r="1.5"/>
<circle cx="224.3" cy="117.9" r="1.5"/>
<circle cx="227.9" cy="94.9" r="1.5"/>
<circle cx="226.3" cy="97.8" r="1.5"/>
<circle cx="227.2" cy="99.9" r="1.5"/>
<circle cx="226.7" cy="103.8" r="1.5"/>
<circle cx="226.0" cy="107.1" r="1.5"/>
<circle cx="227.5" cy="108.6" r="1.5"/>
<circle cx="226.6" cy="111.4" r="1.5"/>
<circle cx="226.7" cy="115.0" r="1.5"/>
<circle cx="227.1" cy="117.2" r="1.5"/>
<circle cx="231.0" cy="93.1" r="1.5"/>
<circle cx="230.8" cy="96.9" r="1.5"/>
<circle cx="231.0" cy="99.4" r="1.5"/>
<circle cx="230.9" cy="102.4" r="1.5"/>
<circle cx="230.6" cy="103.2" r="1.5"/>
<circle cx="229.9" cy="106.9" r="1.5"/>
<circle cx="231.0" cy="110.2" r="1.5"/>
<circle cx="230.3" cy="112.8" r="1.5"/>
<circle cx="229.5" cy="116.0" r="1.5"/>
<circle cx="230.2" cy="117.4" r="1.5"/>
<circle cx="233.0" cy="93.6" r="1.5"/>
<circle cx="233.5" cy="95.3" r="1.5"/>
<circle cx="232.3" cy="99.4" r="1.5"/>
<circle cx="231.5" cy="100.6" r="1.5"/>
<circle cx="232.7" cy="103.7" r="1.5"/>
<circle cx="231.6" cy="106.4" r="1.5"/>
<circle cx="232.9" cy="109.8" r="1.5"/>
<circle cx="231.5" cy="111.4" r="1.5"/>
<circle cx="233.4" cy="115.5" r="1.5"/>
<circle cx="236.2" cy="94.0" r="1.5"/>
<circle cx="236.2" cy="97.4" r="1.5"/>
<circle cx="235.1" cy="99.6" r="1.5"/>
<circle cx="235.4" cy="103.0" r="1.5"/>
<circle cx="236.0" cy="105.2" r="1.5"/>
<circle cx="236.0" cy="108.6" r="1.5"/>
<circle cx="234.7" cy="109.3" r="1.5"/>
<circle cx="235.9" cy="113.4" r="1.5"/>
<circle cx="235.3" cy="115.5" r="1.5"/>
<circle cx="237.2" cy="93.8" r="1.5"/>
<circle cx="238.5" cy="95.8" r="1.5"/>
<circle cx="237.1" cy="99.2" r="1.5"/>
<circle cx="238.9" cy="103.0" r="1.5"/>
<circle cx="239.1" cy="105.2" r="1.5"/>
<circle cx="238.2" cy="107.9" r="1.5"/>
<circle cx="238.0" cy="110.6" r="1.5"/>
<circle cx="241.9" cy="93.7" r="1.5"/>
<circle cx="241.0" cy="98.4" r="1.5"/>
<circle cx="241.3" cy="100.1" r="1.5"/>
<circle cx="240.4" cy="102.4" r="1.5"/>
<circle cx="134.9" cy="92.3" r="1.5"/>
<circle cx="137.8" cy="88.4" r="1.5"/>
<circle cx="138.5" cy="91.4" r="1.5"/>
<circle cx="141.9" cy="86.1" r="1.5"/>
<circle cx="141.9" cy="91.3" r="1.5"/>
<circle cx="148.0" cy="88.2" r="1.5"/>
<circle cx="152.1" cy="86.0" r="1.5"/>
<circle cx="151.3" cy="91.8" r="1.5"/>
<circle cx="155.1" cy="84.3" r="1.5"/>
<circle cx="154.8" cy="86.7" r="1.5"/>
<circle cx="154.1" cy="92.5" r="1.5"/>
<circle cx="157.4" cy="86.3" r="1.5"/>
<circle cx="158.6" cy="91.0" r="1.5"/>
<circle cx="163.0" cy="87.9" r="1.5"/>
<circle cx="164.5" cy="92.1" r="1.5"/>
<circle cx="165.8" cy="84.4" r="1.5"/>
<circle cx="168.0" cy="88.3" r="1.5"/>
<circle cx="172.9" cy="86.9" r="1.5"/>
<circle cx="177.3" cy="89.0" r="1.5"/>
<circle cx="175.0" cy="91.3" r="1.5"/>
<circle cx="180.2" cy="84.7" r="1.5"/>
<circle cx="181.0" cy="89.4" r="1.5"/>
<circle cx="182.4" cy="85.9" r="1.5"/>
<circle cx="184.9" cy="89.9" r="1.5"/>
<circle cx="186.1" cy="91.6" r="1.5"/>
<circle cx="188.3" cy="85.3" r="1.5"/>
<circle cx="189.8" cy="87.5" r="1.5"/>
<circle cx="191.3" cy="82.6" r="1.5"/>
<circle cx="193.0" cy="88.4" r="1.5"/>
<circle cx="194.5" cy="92.3" r="1.5"/>
<circle cx="195.6" cy="84.2" r="1.5"/>
<circle cx="196.1" cy="89.6" r="1.5"/>
<circle cx="539.9" cy="6.9" r="1.5"/>
<circle cx="549.1" cy="10.9" r="1.5"/>
<circle cx="489.4" cy="9.8" r="1.5"/>
<circle cx="465.2" cy="12.6" r="1.5"/>
<circle cx="484.9" cy="16.3" r="1.5"/>
<circle cx="447.3" cy="19.7" r="1.5"/>
<circle cx="451.8" cy="22.9" r="1.5"/>
<circle cx="440.8" cy="25.7" r="1.5"/>
<circle cx="460.9" cy="23.8" r="1.5"/>
<circle cx="443.0" cy="35.1" r="1.5"/>
<circle cx="443.0" cy="42.6" r="1.5"/>
<circle cx="476.3" cy="35.6" r="1.5"/>
<circle cx="480.6" cy="39.8" r="1.5"/>
<circle cx="484.9" cy="39.8" r="1.5"/>
<circle cx="500.3" cy="34.7" r="1.5"/>
<circle cx="502.7" cy="32.2" r="1.5"/>
<circle cx="515.9" cy="39.8" r="1.5"/>
<circle cx="537.8" cy="36.0" r="1.5"/>
<circle cx="542.2" cy="36.9" r="1.5"/>
<circle cx="546.7" cy="34.1" r="1.5"/>
<circle cx="535.6" cy="45.9" r="1.5"/>
<circle cx="460.9" cy="45.4" r="1.5"/>
<circle cx="471.7" cy="47.8" r="1.5"/>
<circle cx="476.3" cy="47.2" r="1.5"/>
<circle cx="484.9" cy="46.9" r="1.5"/>
<circle cx="471.7" cy="50.6" r="1.5"/>
<circle cx="474.0" cy="54.4" r="1.5"/>
<circle cx="465.2" cy="53.1" r="1.5"/>
<circle cx="467.4" cy="54.9" r="1.5"/>
<circle cx="454.3" cy="53.8" r="1.5"/>
<circle cx="458.6" cy="57.2" r="1.5"/>
<circle cx="463.1" cy="59.4" r="1.5"/>
<circle cx="467.4" cy="57.2" r="1.5"/>
<circle cx="469.7" cy="59.4" r="1.5"/>
<circle cx="476.3" cy="57.2" r="1.5"/>
<circle cx="491.8" cy="51.6" r="1.5"/>
<circle cx="494.1" cy="49.9" r="1.5"/>
<circle cx="505.0" cy="51.6" r="1.5"/>
<circle cx="514.0" cy="54.8" r="1.5"/>
<circle cx="511.6" cy="57.6" r="1.5"/>
<circle cx="520.4" cy="55.7" r="1.5"/>
<circle cx="524.7" cy="55.7" r="1.5"/>
<circle cx="524.7" cy="60.0" r="1.5"/>
<circle cx="540.3" cy="54.8" r="1.5"/>
<circle cx="546.7" cy="57.6" r="1.5"/>
<circle cx="555.7" cy="58.5" r="1.5"/>
<circle cx="557.9" cy="53.8" r="1.5"/>
<circle cx="428.9" cy="52.9" r="1.5"/>
<circle cx="440.8" cy="58.1" r="1.5"/>
<circle cx="449.6" cy="59.4" r="1.5"/>
<circle cx="451.8" cy="61.9" r="1.5"/>
<circle cx="447.3" cy="61.9" r="1.5"/>
<circle cx="493.7" cy="60.0" r="1.5"/>
<circle cx="496.0" cy="59.4" r="1.5"/>
<circle cx="502.5" cy="61.9" r="1.5"/>
<circle cx="511.6" cy="63.2" r="1.5"/>
<circle cx="532.2" cy="60.9" r="1.5"/>
<circle cx="534.1" cy="61.9" r="1.5"/>
<circle cx="566.6" cy="30.4" r="1.5"/>
<circle cx="579.7" cy="43.5" r="1.5"/>
<circle cx="573.1" cy="49.1" r="1.5"/>
<circle cx="577.5" cy="48.2" r="1.5"/>
<circle cx="588.7" cy="50.1" r="1.5"/>
<circle cx="562.3" cy="51.6" r="1.5"/>
<circle cx="564.5" cy="51.6" r="1.5"/>
<circle cx="566.8" cy="51.6" r="1.5"/>
<circle cx="570.9" cy="53.8" r="1.5"/>
<circle cx="573.1" cy="54.8" r="1.5"/>
<circle cx="588.7" cy="57.2" r="1.5"/>
<circle cx="591.0" cy="55.7" r="1.5"/>
<circle cx="623.8" cy="45.4" r="1.5"/>
<circle cx="619.7" cy="54.8" r="1.5"/>
<circle cx="599.4" cy="59.4" r="1.5"/>
<circle cx="604.1" cy="60.9" r="1.5"/>
<circle cx="608.4" cy="64.1" r="1.5"/>
<circle cx="577.5" cy="61.3" r="1.5"/>
<circle cx="562.3" cy="60.9" r="1.5"/>
<circle cx="564.5" cy="61.5" r="1.5"/>
<circle cx="431.8" cy="64.5" r="1.5"/>
<circle cx="436.4" cy="64.5" r="1.5"/>
<circle cx="441.1" cy="64.9" r="1.5"/>
<circle cx="444.9" cy="64.9" r="1.5"/>
<circle cx="441.1" cy="67.8" r="1.5"/>
<circle cx="474.0" cy="64.5" r="1.5"/>
<circle cx="482.5" cy="64.5" r="1.5"/>
<circle cx="486.2" cy="65.4" r="1.5"/>
<circle cx="456.2" cy="68.2" r="1.5"/>
<circle cx="436.4" cy="68.2" r="1.5"/>
<circle cx="434.1" cy="71.0" r="1.5"/>
<circle cx="440.7" cy="72.5" r="1.5"/>
<circle cx="469.3" cy="69.2" r="1.5"/>
<circle cx="469.3" cy="72.0" r="1.5"/>
<circle cx="469.3" cy="74.8" r="1.5"/>
<circle cx="469.3" cy="76.7" r="1.5"/>
<circle cx="484.8" cy="70.6" r="1.5"/>
<circle cx="489.0" cy="67.3" r="1.5"/>
<circle cx="491.8" cy="69.6" r="1.5"/>
<circle cx="492.8" cy="73.4" r="1.5"/>
<circle cx="489.0" cy="73.4" r="1.5"/>
<circle cx="429.9" cy="76.2" r="1.5"/>
<circle cx="432.2" cy="76.2" r="1.5"/>
<circle cx="429.4" cy="79.0" r="1.5"/>
<circle cx="431.8" cy="82.8" r="1.5"/>
<circle cx="443.0" cy="77.6" r="1.5"/>
<circle cx="440.7" cy="80.9" r="1.5"/>
<circle cx="438.8" cy="82.8" r="1.5"/>
<circle cx="436.4" cy="84.2" r="1.5"/>
<circle cx="449.6" cy="78.6" r="1.5"/>
<circle cx="449.6" cy="83.7" r="1.5"/>
<circle cx="456.2" cy="75.7" r="1.5"/>
<circle cx="456.2" cy="79.0" r="1.5"/>
<circle cx="458.5" cy="78.1" r="1.5"/>
<circle cx="459.0" cy="81.4" r="1.5"/>
<circle cx="458.0" cy="83.7" r="1.5"/>
<circle cx="460.9" cy="83.7" r="1.5"/>
<circle cx="463.2" cy="83.3" r="1.5"/>
<circle cx="465.1" cy="79.0" r="1.5"/>
<circle cx="469.3" cy="81.8" r="1.5"/>
<circle cx="472.1" cy="80.0" r="1.5"/>
<circle cx="469.3" cy="86.1" r="1.5"/>
<circle cx="477.8" cy="85.1" r="1.5"/>
<circle cx="480.6" cy="86.5" r="1.5"/>
<circle cx="482.5" cy="88.4" r="1.5"/>
<circle cx="484.3" cy="86.5" r="1.5"/>
<circle cx="489.0" cy="78.1" r="1.5"/>
<circle cx="491.8" cy="80.0" r="1.5"/>
<circle cx="434.1" cy="89.8" r="1.5"/>
<circle cx="442.6" cy="87.5" r="1.5"/>
<circle cx="445.4" cy="89.4" r="1.5"/>
<circle cx="443.5" cy="93.6" r="1.5"/>
<circle cx="440.7" cy="95.9" r="1.5"/>
<circle cx="444.0" cy="95.9" r="1.5"/>
<circle cx="460.4" cy="88.4" r="1.5"/>
<circle cx="460.4" cy="90.8" r="1.5"/>
<circle cx="465.6" cy="91.2" r="1.5"/>
<circle cx="463.2" cy="94.5" r="1.5"/>
<circle cx="471.2" cy="89.4" r="1.5"/>
<circle cx="474.0" cy="90.8" r="1.5"/>
<circle cx="475.9" cy="92.2" r="1.5"/>
<circle cx="476.8" cy="95.0" r="1.5"/>
<circle cx="469.3" cy="95.0" r="1.5"/>
<circle cx="472.1" cy="96.4" r="1.5"/>
<circle cx="484.3" cy="92.2" r="1.5"/>
<circle cx="486.2" cy="94.1" r="1.5"/>
<circle cx="489.0" cy="91.2" r="1.5"/>
<circle cx="490.0" cy="95.0" r="1.5"/>
<circle cx="492.8" cy="89.4" r="1.5"/>
<circle cx="492.8" cy="92.2" r="1.5"/>
<circle cx="531.6" cy="64.5" r="1.5"/>
<circle cx="535.3" cy="64.9" r="1.5"/>
<circle cx="538.1" cy="65.4" r="1.5"/>
<circle cx="538.1" cy="67.3" r="1.5"/>
<circle cx="550.3" cy="64.9" r="1.5"/>
<circle cx="555.0" cy="65.4" r="1.5"/>
<circle cx="544.7" cy="67.8" r="1.5"/>
<circle cx="547.0" cy="68.2" r="1.5"/>
<circle cx="504.3" cy="70.1" r="1.5"/>
<circle cx="507.1" cy="71.0" r="1.5"/>
<circle cx="505.3" cy="73.4" r="1.5"/>
<circle cx="504.3" cy="75.7" r="1.5"/>
<circle cx="500.6" cy="72.9" r="1.5"/>
<circle cx="498.2" cy="75.7" r="1.5"/>
<circle cx="495.9" cy="77.1" r="1.5"/>
<circle cx="511.4" cy="72.9" r="1.5"/>
<circle cx="511.4" cy="75.3" r="1.5"/>
<circle cx="515.6" cy="74.8" r="1.5"/>
<circle cx="517.9" cy="70.1" r="1.5"/>
<circle cx="517.9" cy="73.4" r="1.5"/>
<circle cx="518.4" cy="75.7" r="1.5"/>
<circle cx="522.2" cy="69.6" r="1.5"/>
<circle cx="522.2" cy="72.0" r="1.5"/>
<circle cx="522.2" cy="74.3" r="1.5"/>
<circle cx="526.9" cy="70.6" r="1.5"/>
<circle cx="529.2" cy="73.4" r="1.5"/>
<circle cx="529.2" cy="76.2" r="1.5"/>
<circle cx="532.5" cy="74.3" r="1.5"/>
<circle cx="533.4" cy="77.1" r="1.5"/>
<circle cx="538.1" cy="71.0" r="1.5"/>
<circle cx="540.0" cy="70.1" r="1.5"/>
<circle cx="538.1" cy="73.4" r="1.5"/>
<circle cx="537.2" cy="76.2" r="1.5"/>
<circle cx="540.5" cy="78.1" r="1.5"/>
<circle cx="544.7" cy="78.1" r="1.5"/>
<circle cx="546.6" cy="80.9" r="1.5"/>
<circle cx="550.8" cy="72.9" r="1.5"/>
<circle cx="553.1" cy="74.3" r="1.5"/>
<circle cx="557.8" cy="74.3" r="1.5"/>
<circle cx="558.8" cy="76.2" r="1.5"/>
<circle cx="557.8" cy="78.1" r="1.5"/>
<circle cx="551.3" cy="82.3" r="1.5"/>
<circle cx="555.0" cy="82.8" r="1.5"/>
<circle cx="558.8" cy="84.2" r="1.5"/>
<circle cx="522.2" cy="81.4" r="1.5"/>
<circle cx="526.9" cy="80.9" r="1.5"/>
<circle cx="529.7" cy="83.3" r="1.5"/>
<circle cx="529.7" cy="86.1" r="1.5"/>
<circle cx="532.5" cy="86.5" r="1.5"/>
<circle cx="570.8" cy="64.9" r="1.5"/>
<circle cx="575.5" cy="67.8" r="1.5"/>
<circle cx="582.1" cy="66.8" r="1.5"/>
<circle cx="566.6" cy="69.6" r="1.5"/>
<circle cx="588.6" cy="71.5" r="1.5"/>
<circle cx="597.6" cy="70.6" r="1.5"/>
<circle cx="604.1" cy="73.4" r="1.5"/>
<circle cx="608.8" cy="64.5" r="1.5"/>
<circle cx="625.2" cy="70.6" r="1.5"/>
<circle cx="561.9" cy="74.3" r="1.5"/>
<circle cx="566.6" cy="76.2" r="1.5"/>
<circle cx="567.0" cy="79.0" r="1.5"/>
<circle cx="564.2" cy="79.5" r="1.5"/>
<circle cx="561.9" cy="83.7" r="1.5"/>
<circle cx="569.4" cy="82.8" r="1.5"/>
<circle cx="577.8" cy="79.0" r="1.5"/>
<circle cx="580.2" cy="78.1" r="1.5"/>
<circle cx="582.5" cy="77.6" r="1.5"/>
<circle cx="577.8" cy="82.3" r="1.5"/>
<circle cx="588.2" cy="78.6" r="1.5"/>
<circle cx="591.0" cy="80.4" r="1.5"/>
<circle cx="593.3" cy="78.1" r="1.5"/>
<circle cx="606.0" cy="79.5" r="1.5"/>
<circle cx="573.1" cy="84.2" r="1.5"/>
<circle cx="573.1" cy="87.0" r="1.5"/>
<circle cx="576.0" cy="88.9" r="1.5"/>
<circle cx="578.8" cy="88.0" r="1.5"/>
<circle cx="579.7" cy="91.2" r="1.5"/>
<circle cx="595.2" cy="84.2" r="1.5"/>
<circle cx="597.6" cy="86.1" r="1.5"/>
<circle cx="599.4" cy="87.5" r="1.5"/>
<circle cx="600.4" cy="90.3" r="1.5"/>
<circle cx="604.1" cy="91.2" r="1.5"/>
<circle cx="608.3" cy="88.9" r="1.5"/>
<circle cx="610.7" cy="90.3" r="1.5"/>
<circle cx="613.0" cy="85.6" r="1.5"/>
<circle cx="622.0" cy="86.1" r="1.5"/>
<circle cx="624.8" cy="91.2" r="1.5"/>
<circle cx="623.8" cy="93.1" r="1.5"/>
<circle cx="575.0" cy="94.5" r="1.5"/>
<circle cx="579.7" cy="95.5" r="1.5"/>
<circle cx="588.2" cy="92.2" r="1.5"/>
<circle cx="595.7" cy="92.2" r="1.5"/>
<circle cx="602.2" cy="95.0" r="1.5"/>
<circle cx="560.9" cy="95.0" r="1.5"/>
<circle cx="561.9" cy="87.5" r="1.5"/>
<circle cx="633.0" cy="73.4" r="1.5"/>
<circle cx="635.4" cy="74.3" r="1.5"/>
<circle cx="634.9" cy="85.6" r="1.5"/>
<circle cx="654.6" cy="83.7" r="1.5"/>
<circle cx="626.5" cy="92.2" r="1.5"/>
<circle cx="632.6" cy="92.6" r="1.5"/>
<circle cx="635.4" cy="91.7" r="1.5"/>
<circle cx="639.1" cy="93.1" r="1.5"/>
<circle cx="640.1" cy="95.0" r="1.5"/>
<circle cx="460.9" cy="99.4" r="1.5"/>
<circle cx="467.4" cy="98.9" r="1.5"/>
<circle cx="469.8" cy="98.9" r="1.5"/>
<circle cx="478.7" cy="98.5" r="1.5"/>
<circle cx="484.3" cy="98.9" r="1.5"/>
<circle cx="491.8" cy="98.5" r="1.5"/>
<circle cx="438.8" cy="100.8" r="1.5"/>
<circle cx="447.2" cy="101.3" r="1.5"/>
<circle cx="447.2" cy="105.0" r="1.5"/>
<circle cx="447.2" cy="107.9" r="1.5"/>
<circle cx="443.0" cy="106.0" r="1.5"/>
<circle cx="436.4" cy="108.8" r="1.5"/>
<circle cx="453.8" cy="105.0" r="1.5"/>
<circle cx="453.8" cy="107.9" r="1.5"/>
<circle cx="460.9" cy="105.0" r="1.5"/>
<circle cx="463.2" cy="107.9" r="1.5"/>
<circle cx="471.7" cy="101.3" r="1.5"/>
<circle cx="478.2" cy="100.8" r="1.5"/>
<circle cx="471.7" cy="106.9" r="1.5"/>
<circle cx="474.0" cy="106.0" r="1.5"/>
<circle cx="475.9" cy="108.3" r="1.5"/>
<circle cx="478.7" cy="107.4" r="1.5"/>
<circle cx="476.3" cy="110.2" r="1.5"/>
<circle cx="469.3" cy="112.6" r="1.5"/>
<circle cx="474.0" cy="113.0" r="1.5"/>
<circle cx="482.5" cy="113.5" r="1.5"/>
<circle cx="491.4" cy="102.2" r="1.5"/>
<circle cx="491.8" cy="105.5" r="1.5"/>
<circle cx="491.8" cy="107.4" r="1.5"/>
<circle cx="491.8" cy="109.7" r="1.5"/>
<circle cx="491.8" cy="112.6" r="1.5"/>
<circle cx="438.3" cy="115.4" r="1.5"/>
<circle cx="440.7" cy="115.4" r="1.5"/>
<circle cx="443.0" cy="114.9" r="1.5"/>
<circle cx="447.2" cy="114.4" r="1.5"/>
<circle cx="449.6" cy="117.3" r="1.5"/>
<circle cx="451.9" cy="112.6" r="1.5"/>
<circle cx="454.3" cy="114.4" r="1.5"/>
<circle cx="432.2" cy="119.1" r="1.5"/>
<circle cx="467.4" cy="117.3" r="1.5"/>
<circle cx="467.4" cy="120.1" r="1.5"/>
<circle cx="489.5" cy="117.3" r="1.5"/>
<circle cx="491.8" cy="119.1" r="1.5"/>
<circle cx="484.8" cy="120.5" r="1.5"/>
<circle cx="482.9" cy="123.4" r="1.5"/>
<circle cx="484.8" cy="126.6" r="1.5"/>
<circle cx="478.2" cy="126.6" r="1.5"/>
<circle cx="447.2" cy="124.8" r="1.5"/>
<circle cx="469.3" cy="131.3" r="1.5"/>
<circle cx="477.8" cy="131.3" r="1.5"/>
<circle cx="495.9" cy="112.6" r="1.5"/>
<circle cx="498.2" cy="112.1" r="1.5"/>
<circle cx="498.2" cy="118.7" r="1.5"/>
<circle cx="500.6" cy="121.5" r="1.5"/>
<circle cx="502.9" cy="122.0" r="1.5"/>
<circle cx="505.3" cy="121.5" r="1.5"/>
<circle cx="498.2" cy="125.7" r="1.5"/>
<circle cx="502.9" cy="125.2" r="1.5"/>
<circle cx="509.0" cy="125.7" r="1.5"/>
<circle cx="515.6" cy="126.2" r="1.5"/>
<circle cx="518.4" cy="126.2" r="1.5"/>
<circle cx="522.2" cy="126.2" r="1.5"/>
<circle cx="515.6" cy="129.0" r="1.5"/>
<circle cx="519.3" cy="129.9" r="1.5"/>
<circle cx="528.7" cy="126.2" r="1.5"/>
<circle cx="531.6" cy="129.0" r="1.5"/>
<circle cx="509.0" cy="131.3" r="1.5"/>
<circle cx="497.8" cy="129.9" r="1.5"/>
<circle cx="538.1" cy="128.1" r="1.5"/>
<circle cx="542.8" cy="129.0" r="1.5"/>
<circle cx="546.6" cy="126.2" r="1.5"/>
<circle cx="550.3" cy="128.1" r="1.5"/>
<circle cx="554.1" cy="126.2" r="1.5"/>
<circle cx="569.4" cy="128.1" r="1.5"/>
<circle cx="572.2" cy="130.4" r="1.5"/>
<circle cx="575.0" cy="126.2" r="1.5"/>
<circle cx="586.3" cy="130.4" r="1.5"/>
<circle cx="589.1" cy="127.6" r="1.5"/>
<circle cx="600.4" cy="127.6" r="1.5"/>
<circle cx="603.2" cy="128.1" r="1.5"/>
<circle cx="606.0" cy="127.6" r="1.5"/>
<circle cx="562.8" cy="130.9" r="1.5"/>
<circle cx="616.3" cy="116.8" r="1.5"/>
<circle cx="624.8" cy="115.8" r="1.5"/>
<circle cx="642.0" cy="99.4" r="1.5"/>
<circle cx="681.4" cy="105.0" r="1.5"/>
<circle cx="627.9" cy="107.4" r="1.5"/>
<circle cx="631.6" cy="107.4" r="1.5"/>
<circle cx="627.9" cy="114.0" r="1.5"/>
<circle cx="627.9" cy="116.3" r="1.5"/>
<circle cx="630.7" cy="117.7" r="1.5"/>
<circle cx="469.7" cy="133.2" r="1.5"/>
<circle cx="478.3" cy="132.3" r="1.5"/>
<circle cx="462.7" cy="137.9" r="1.5"/>
<circle cx="474.0" cy="138.8" r="1.5"/>
<circle cx="478.3" cy="136.9" r="1.5"/>
<circle cx="481.1" cy="138.8" r="1.5"/>
<circle cx="478.3" cy="143.5" r="1.5"/>
<circle cx="481.1" cy="144.5" r="1.5"/>
<circle cx="496.0" cy="137.9" r="1.5"/>
<circle cx="497.8" cy="133.2" r="1.5"/>
<circle cx="500.3" cy="136.9" r="1.5"/>
<circle cx="505.0" cy="135.1" r="1.5"/>
<circle cx="507.2" cy="134.7" r="1.5"/>
<circle cx="509.1" cy="132.3" r="1.5"/>
<circle cx="524.7" cy="136.0" r="1.5"/>
<circle cx="535.6" cy="138.8" r="1.5"/>
<circle cx="535.6" cy="133.8" r="1.5"/>
<circle cx="544.4" cy="137.9" r="1.5"/>
<circle cx="546.7" cy="136.0" r="1.5"/>
<circle cx="546.7" cy="138.8" r="1.5"/>
<circle cx="549.1" cy="136.9" r="1.5"/>
<circle cx="551.4" cy="136.9" r="1.5"/>
<circle cx="553.2" cy="132.3" r="1.5"/>
<circle cx="540.3" cy="143.5" r="1.5"/>
<circle cx="540.3" cy="144.5" r="1.5"/>
<circle cx="553.2" cy="147.3" r="1.5"/>
<circle cx="555.7" cy="148.2" r="1.5"/>
<circle cx="557.6" cy="141.6" r="1.5"/>
<circle cx="558.9" cy="136.6" r="1.5"/>
<circle cx="518.1" cy="146.3" r="1.5"/>
<circle cx="513.8" cy="150.1" r="1.5"/>
<circle cx="531.3" cy="152.0" r="1.5"/>
<circle cx="498.0" cy="152.9" r="1.5"/>
<circle cx="489.4" cy="158.5" r="1.5"/>
<circle cx="511.6" cy="161.3" r="1.5"/>
<circle cx="542.2" cy="158.5" r="1.5"/>
<circle cx="542.2" cy="162.3" r="1.5"/>
<circle cx="531.3" cy="173.5" r="1.5"/>
<circle cx="557.6" cy="177.3" r="1.5"/>
<circle cx="573.1" cy="133.2" r="1.5"/>
<circle cx="560.9" cy="136.6" r="1.5"/>
<circle cx="563.8" cy="139.8" r="1.5"/>
<circle cx="568.4" cy="140.7" r="1.5"/>
<circle cx="580.1" cy="138.8" r="1.5"/>
<circle cx="591.0" cy="135.1" r="1.5"/>
<circle cx="599.8" cy="136.0" r="1.5"/>
<circle cx="588.7" cy="142.6" r="1.5"/>
<circle cx="564.7" cy="146.3" r="1.5"/>
<circle cx="599.8" cy="146.3" r="1.5"/>
<circle cx="613.1" cy="141.6" r="1.5"/>
<circle cx="613.1" cy="150.1" r="1.5"/>
<circle cx="615.0" cy="153.8" r="1.5"/>
<circle cx="579.7" cy="156.8" r="1.5"/>
<circle cx="579.7" cy="157.8" r="1.5"/>
<circle cx="575.6" cy="161.3" r="1.5"/>
<circle cx="575.6" cy="167.0" r="1.5"/>
<circle cx="584.0" cy="167.9" r="1.5"/>
<circle cx="568.8" cy="170.7" r="1.5"/>
<circle cx="622.0" cy="172.6" r="1.5"/>
<circle cx="560.9" cy="141.3" r="1.5"/>
<circle cx="494.4" cy="86.9" r="1.5"/>
<circle cx="495.4" cy="92.9" r="1.5"/>
<circle cx="498.3" cy="85.8" r="1.5"/>
<circle cx="499.0" cy="87.5" r="1.5"/>
<circle cx="497.9" cy="90.7" r="1.5"/>
<circle cx="496.9" cy="93.3" r="1.5"/>
<circle cx="497.3" cy="96.2" r="1.5"/>
<circle cx="501.6" cy="84.6" r="1.5"/>
<circle cx="501.6" cy="86.8" r="1.5"/>
<circle cx="500.2" cy="90.9" r="1.5"/>
<circle cx="502.1" cy="93.6" r="1.5"/>
<circle cx="499.7" cy="95.6" r="1.5"/>
<circle cx="503.4" cy="87.3" r="1.5"/>
<circle cx="505.5" cy="89.5" r="1.5"/>
<circle cx="504.4" cy="93.1" r="1.5"/>
<circle cx="502.8" cy="95.7" r="1.5"/>
<circle cx="506.6" cy="84.0" r="1.5"/>
<circle cx="507.8" cy="85.0" r="1.5"/>
<circle cx="506.1" cy="90.1" r="1.5"/>
<circle cx="506.2" cy="92.0" r="1.5"/>
<circle cx="506.6" cy="94.4" r="1.5"/>
<circle cx="511.6" cy="86.4" r="1.5"/>
<circle cx="509.7" cy="89.6" r="1.5"/>
<circle cx="509.7" cy="92.3" r="1.5"/>
<circle cx="509.9" cy="96.6" r="1.5"/>
<circle cx="514.3" cy="84.3" r="1.5"/>
<circle cx="514.4" cy="87.3" r="1.5"/>
<circle cx="514.5" cy="89.8" r="1.5"/>
<circle cx="514.0" cy="93.5" r="1.5"/>
<circle cx="513.6" cy="96.5" r="1.5"/>
<circle cx="516.3" cy="85.6" r="1.5"/>
<circle cx="517.0" cy="87.7" r="1.5"/>
<circle cx="515.3" cy="90.7" r="1.5"/>
<circle cx="515.7" cy="93.0" r="1.5"/>
<circle cx="516.4" cy="97.0" r="1.5"/>
<circle cx="519.1" cy="83.6" r="1.5"/>
<circle cx="519.6" cy="86.4" r="1.5"/>
<circle cx="518.6" cy="89.4" r="1.5"/>
<circle cx="520.1" cy="93.0" r="1.5"/>
<circle cx="519.8" cy="97.0" r="1.5"/>
<circle cx="523.3" cy="83.7" r="1.5"/>
<circle cx="522.3" cy="88.7" r="1.5"/>
<circle cx="521.8" cy="92.4" r="1.5"/>
<circle cx="521.8" cy="95.4" r="1.5"/>
<circle cx="525.5" cy="86.5" r="1.5"/>
<circle cx="525.0" cy="89.5" r="1.5"/>
<circle cx="525.6" cy="91.5" r="1.5"/>
<circle cx="524.9" cy="95.0" r="1.5"/>
<circle cx="530.3" cy="89.6" r="1.5"/>
<circle cx="529.4" cy="91.2" r="1.5"/>
<circle cx="529.2" cy="95.7" r="1.5"/>
<circle cx="531.9" cy="85.9" r="1.5"/>
<circle cx="531.9" cy="88.1" r="1.5"/>
<circle cx="530.9" cy="90.8" r="1.5"/>
<circle cx="530.8" cy="94.5" r="1.5"/>
<circle cx="530.7" cy="95.8" r="1.5"/>
<circle cx="536.6" cy="90.5" r="1.5"/>
<circle cx="535.7" cy="93.3" r="1.5"/>
<circle cx="536.1" cy="94.9" r="1.5"/>
<circle cx="538.0" cy="87.5" r="1.5"/>
<circle cx="539.1" cy="92.7" r="1.5"/>
<circle cx="537.8" cy="95.7" r="1.5"/>
<circle cx="541.3" cy="88.6" r="1.5"/>
<circle cx="540.9" cy="93.0" r="1.5"/>
<circle cx="541.3" cy="95.8" r="1.5"/>
<circle cx="545.1" cy="89.0" r="1.5"/>
<circle cx="543.7" cy="91.4" r="1.5"/>
<circle cx="544.5" cy="93.6" r="1.5"/>
<circle cx="548.3" cy="88.0" r="1.5"/>
<circle cx="547.2" cy="93.5" r="1.5"/>
<circle cx="548.1" cy="96.1" r="1.5"/>
<circle cx="551.6" cy="88.0" r="1.5"/>
<circle cx="549.9" cy="90.3" r="1.5"/>
<circle cx="550.9" cy="93.7" r="1.5"/>
<circle cx="552.0" cy="97.6" r="1.5"/>
<circle cx="553.0" cy="90.2" r="1.5"/>
<circle cx="554.4" cy="93.4" r="1.5"/>
<circle cx="553.3" cy="94.7" r="1.5"/>
<circle cx="557.9" cy="87.1" r="1.5"/>
<circle cx="555.7" cy="88.6" r="1.5"/>
<circle cx="557.4" cy="92.7" r="1.5"/>
<circle cx="558.2" cy="95.2" r="1.5"/>
<circle cx="496.2" cy="99.5" r="1.5"/>
<circle cx="496.5" cy="101.8" r="1.5"/>
<circle cx="494.8" cy="103.9" r="1.5"/>
<circle cx="496.1" cy="109.3" r="1.5"/>
<circle cx="496.7" cy="110.3" r="1.5"/>
<circle cx="499.2" cy="100.8" r="1.5"/>
<circle cx="498.7" cy="102.9" r="1.5"/>
<circle cx="499.5" cy="105.8" r="1.5"/>
<circle cx="499.1" cy="110.0" r="1.5"/>
<circle cx="498.8" cy="114.1" r="1.5"/>
<circle cx="501.7" cy="99.2" r="1.5"/>
<circle cx="503.4" cy="102.9" r="1.5"/>
<circle cx="501.4" cy="105.7" r="1.5"/>
<circle cx="501.8" cy="108.9" r="1.5"/>
<circle cx="501.7" cy="111.2" r="1.5"/>
<circle cx="501.6" cy="115.2" r="1.5"/>
<circle cx="506.3" cy="100.7" r="1.5"/>
<circle cx="505.6" cy="103.9" r="1.5"/>
<circle cx="504.8" cy="105.5" r="1.5"/>
<circle cx="504.5" cy="109.4" r="1.5"/>
<circle cx="504.6" cy="113.1" r="1.5"/>
<circle cx="504.2" cy="115.4" r="1.5"/>
<circle cx="508.4" cy="99.8" r="1.5"/>
<circle cx="508.8" cy="102.1" r="1.5"/>
<circle cx="508.3" cy="104.4" r="1.5"/>
<circle cx="509.0" cy="107.4" r="1.5"/>
<circle cx="509.5" cy="110.6" r="1.5"/>
<circle cx="509.3" cy="114.9" r="1.5"/>
<circle cx="511.3" cy="102.1" r="1.5"/>
<circle cx="513.4" cy="104.5" r="1.5"/>
<circle cx="512.9" cy="107.4" r="1.5"/>
<circle cx="512.6" cy="111.1" r="1.5"/>
<circle cx="512.0" cy="113.6" r="1.5"/>
<circle cx="512.9" cy="117.3" r="1.5"/>
<circle cx="515.5" cy="101.0" r="1.5"/>
<circle cx="516.0" cy="103.3" r="1.5"/>
<circle cx="513.9" cy="108.3" r="1.5"/>
<circle cx="514.7" cy="111.6" r="1.5"/>
<circle cx="516.6" cy="114.4" r="1.5"/>
<circle cx="514.1" cy="118.4" r="1.5"/>
<circle cx="515.6" cy="119.9" r="1.5"/>
<circle cx="519.8" cy="99.0" r="1.5"/>
<circle cx="519.5" cy="101.4" r="1.5"/>
<circle cx="519.8" cy="104.0" r="1.5"/>
<circle cx="519.2" cy="107.6" r="1.5"/>
<circle cx="517.1" cy="110.6" r="1.5"/>
<circle cx="517.7" cy="115.8" r="1.5"/>
<circle cx="518.2" cy="118.3" r="1.5"/>
<circle cx="518.9" cy="121.0" r="1.5"/>
<circle cx="522.4" cy="101.4" r="1.5"/>
<circle cx="521.9" cy="104.5" r="1.5"/>
<circle cx="523.3" cy="107.6" r="1.5"/>
<circle cx="521.7" cy="109.4" r="1.5"/>
<circle cx="520.7" cy="114.4" r="1.5"/>
<circle cx="520.8" cy="116.9" r="1.5"/>
<circle cx="521.8" cy="118.7" r="1.5"/>
<circle cx="526.5" cy="101.0" r="1.5"/>
<circle cx="524.0" cy="103.6" r="1.5"/>
<circle cx="523.9" cy="106.2" r="1.5"/>
<circle cx="525.1" cy="111.1" r="1.5"/>
<circle cx="525.5" cy="112.2" r="1.5"/>
<circle cx="525.3" cy="116.5" r="1.5"/>
<circle cx="524.3" cy="119.3" r="1.5"/>
<circle cx="527.2" cy="101.8" r="1.5"/>
<circle cx="528.4" cy="104.9" r="1.5"/>
<circle cx="527.6" cy="106.2" r="1.5"/>
<circle cx="529.8" cy="109.9" r="1.5"/>
<circle cx="527.2" cy="113.9" r="1.5"/>
<circle cx="530.0" cy="118.2" r="1.5"/>
<circle cx="528.2" cy="122.0" r="1.5"/>
<circle cx="531.6" cy="101.4" r="1.5"/>
<circle cx="531.8" cy="104.8" r="1.5"/>
<circle cx="532.0" cy="108.0" r="1.5"/>
<circle cx="531.8" cy="109.9" r="1.5"/>
<circle cx="532.1" cy="112.9" r="1.5"/>
<circle cx="530.8" cy="117.0" r="1.5"/>
<circle cx="532.9" cy="119.4" r="1.5"/>
<circle cx="534.9" cy="102.1" r="1.5"/>
<circle cx="536.1" cy="104.1" r="1.5"/>
<circle cx="534.0" cy="107.5" r="1.5"/>
<circle cx="533.7" cy="111.8" r="1.5"/>
<circle cx="534.7" cy="113.5" r="1.5"/>
<circle cx="535.4" cy="117.6" r="1.5"/>
<circle cx="535.4" cy="120.5" r="1.5"/>
<circle cx="538.5" cy="100.4" r="1.5"/>
<circle cx="537.0" cy="101.8" r="1.5"/>
<circle cx="538.0" cy="105.3" r="1.5"/>
<circle cx="539.7" cy="108.4" r="1.5"/>
<circle cx="537.4" cy="112.2" r="1.5"/>
<circle cx="538.6" cy="117.1" r="1.5"/>
<circle cx="540.0" cy="120.5" r="1.5"/>
<circle cx="538.9" cy="121.4" r="1.5"/>
<circle cx="542.2" cy="99.2" r="1.5"/>
<circle cx="541.1" cy="102.9" r="1.5"/>
<circle cx="542.0" cy="105.1" r="1.5"/>
<circle cx="542.2" cy="106.9" r="1.5"/>
<circle cx="540.9" cy="112.8" r="1.5"/>
<circle cx="541.2" cy="113.6" r="1.5"/>
<circle cx="541.2" cy="118.8" r="1.5"/>
<circle cx="541.1" cy="120.6" r="1.5"/>
<circle cx="545.1" cy="99.6" r="1.5"/>
<circle cx="544.6" cy="103.4" r="1.5"/>
<circle cx="546.6" cy="106.5" r="1.5"/>
<circle cx="543.9" cy="108.3" r="1.5"/>
<circle cx="546.4" cy="113.3" r="1.5"/>
<circle cx="544.1" cy="115.4" r="1.5"/>
<circle cx="544.8" cy="119.6" r="1.5"/>
<circle cx="543.8" cy="121.6" r="1.5"/>
<circle cx="549.7" cy="99.1" r="1.5"/>
<circle cx="548.8" cy="104.3" r="1.5"/>
<circle cx="549.6" cy="106.9" r="1.5"/>
<circle cx="549.9" cy="109.6" r="1.5"/>
<circle cx="547.3" cy="112.7" r="1.5"/>
<circle cx="548.8" cy="116.0" r="1.5"/>
<circle cx="547.8" cy="119.5" r="1.5"/>
<circle cx="553.2" cy="99.8" r="1.5"/>
<circle cx="551.0" cy="103.7" r="1.5"/>
<circle cx="550.4" cy="107.2" r="1.5"/>
<circle cx="550.4" cy="108.4" r="1.5"/>
<circle cx="552.0" cy="110.9" r="1.5"/>
<circle cx="552.6" cy="114.5" r="1.5"/>
<circle cx="552.8" cy="117.7" r="1.5"/>
<circle cx="551.9" cy="121.5" r="1.5"/>
<circle cx="555.1" cy="98.6" r="1.5"/>
<circle cx="554.8" cy="102.7" r="1.5"/>
<circle cx="554.2" cy="104.7" r="1.5"/>
<circle cx="555.7" cy="108.3" r="1.5"/>
<circle cx="556.4" cy="112.0" r="1.5"/>
<circle cx="555.1" cy="114.2" r="1.5"/>
<circle cx="553.7" cy="117.7" r="1.5"/>
<circle cx="558.3" cy="101.8" r="1.5"/>
<circle cx="558.0" cy="103.2" r="1.5"/>
<circle cx="558.2" cy="108.4" r="1.5"/>
<circle cx="559.4" cy="112.5" r="1.5"/>
<circle cx="559.5" cy="114.7" r="1.5"/>
<circle cx="558.6" cy="117.8" r="1.5"/>
<circle cx="558.4" cy="121.7" r="1.5"/>
<circle cx="561.8" cy="100.9" r="1.5"/>
<circle cx="563.0" cy="104.9" r="1.5"/>
<circle cx="562.1" cy="108.0" r="1.5"/>
<circle cx="562.9" cy="111.6" r="1.5"/>
<circle cx="561.2" cy="114.1" r="1.5"/>
<circle cx="562.3" cy="116.7" r="1.5"/>
<circle cx="565.8" cy="100.0" r="1.5"/>
<circle cx="565.2" cy="104.3" r="1.5"/>
<circle cx="565.0" cy="108.2" r="1.5"/>
<circle cx="563.9" cy="111.5" r="1.5"/>
<circle cx="566.2" cy="113.6" r="1.5"/>
<circle cx="563.9" cy="117.1" r="1.5"/>
<circle cx="565.7" cy="121.9" r="1.5"/>
<circle cx="569.3" cy="100.3" r="1.5"/>
<circle cx="569.5" cy="106.3" r="1.5"/>
<circle cx="569.2" cy="107.5" r="1.5"/>
<circle cx="570.3" cy="112.3" r="1.5"/>
<circle cx="567.9" cy="116.0" r="1.5"/>
<circle cx="568.9" cy="118.8" r="1.5"/>
<circle cx="568.4" cy="121.4" r="1.5"/>
<circle cx="571.4" cy="99.6" r="1.5"/>
<circle cx="572.6" cy="102.1" r="1.5"/>
<circle cx="572.7" cy="104.3" r="1.5"/>
<circle cx="572.0" cy="107.7" r="1.5"/>
<circle cx="571.2" cy="113.5" r="1.5"/>
<circle cx="573.1" cy="116.6" r="1.5"/>
<circle cx="570.8" cy="119.5" r="1.5"/>
<circle cx="571.7" cy="122.3" r="1.5"/>
<circle cx="572.8" cy="124.3" r="1.5"/>
<circle cx="575.8" cy="100.4" r="1.5"/>
<circle cx="576.1" cy="104.7" r="1.5"/>
<circle cx="575.1" cy="108.0" r="1.5"/>
<circle cx="575.0" cy="109.8" r="1.5"/>
<circle cx="575.2" cy="113.5" r="1.5"/>
<circle cx="575.7" cy="118.2" r="1.5"/>
<circle cx="576.9" cy="122.4" r="1.5"/>
<circle cx="578.0" cy="98.8" r="1.5"/>
<circle cx="579.2" cy="101.1" r="1.5"/>
<circle cx="580.5" cy="107.2" r="1.5"/>
<circle cx="577.8" cy="107.6" r="1.5"/>
<circle cx="577.8" cy="113.3" r="1.5"/>
<circle cx="580.3" cy="114.7" r="1.5"/>
<circle cx="577.7" cy="119.6" r="1.5"/>
<circle cx="578.7" cy="121.4" r="1.5"/>
<circle cx="577.7" cy="125.4" r="1.5"/>
<circle cx="581.9" cy="99.1" r="1.5"/>
<circle cx="581.7" cy="104.5" r="1.5"/>
<circle cx="581.8" cy="106.9" r="1.5"/>
<circle cx="582.5" cy="109.7" r="1.5"/>
<circle cx="582.3" cy="112.2" r="1.5"/>
<circle cx="581.6" cy="117.5" r="1.5"/>
<circle cx="583.4" cy="119.7" r="1.5"/>
<circle cx="581.6" cy="125.2" r="1.5"/>
<circle cx="585.0" cy="102.1" r="1.5"/>
<circle cx="585.0" cy="103.0" r="1.5"/>
<circle cx="585.4" cy="107.4" r="1.5"/>
<circle cx="586.3" cy="111.2" r="1.5"/>
<circle cx="587.0" cy="115.3" r="1.5"/>
<circle cx="584.9" cy="117.3" r="1.5"/>
<circle cx="586.8" cy="120.5" r="1.5"/>
<circle cx="587.5" cy="126.1" r="1.5"/>
<circle cx="585.2" cy="127.9" r="1.5"/>
<circle cx="589.3" cy="98.1" r="1.5"/>
<circle cx="588.1" cy="101.5" r="1.5"/>
<circle cx="588.6" cy="105.3" r="1.5"/>
<circle cx="589.4" cy="110.3" r="1.5"/>
<circle cx="590.0" cy="113.0" r="1.5"/>
<circle cx="590.6" cy="115.7" r="1.5"/>
<circle cx="589.3" cy="118.7" r="1.5"/>
<circle cx="590.5" cy="124.1" r="1.5"/>
<circle cx="590.8" cy="126.7" r="1.5"/>
<circle cx="588.3" cy="128.5" r="1.5"/>
<circle cx="594.1" cy="100.8" r="1.5"/>
<circle cx="594.2" cy="105.5" r="1.5"/>
<circle cx="593.7" cy="107.2" r="1.5"/>
<circle cx="592.8" cy="110.6" r="1.5"/>
<circle cx="592.6" cy="114.4" r="1.5"/>
<circle cx="591.4" cy="116.8" r="1.5"/>
<circle cx="591.9" cy="121.6" r="1.5"/>
<circle cx="594.1" cy="125.5" r="1.5"/>
<circle cx="591.9" cy="128.1" r="1.5"/>
<circle cx="595.3" cy="98.9" r="1.5"/>
<circle cx="596.7" cy="102.8" r="1.5"/>
<circle cx="596.8" cy="106.0" r="1.5"/>
<circle cx="597.5" cy="109.9" r="1.5"/>
<circle cx="596.2" cy="114.1" r="1.5"/>
<circle cx="597.6" cy="118.6" r="1.5"/>
<circle cx="597.5" cy="121.4" r="1.5"/>
<circle cx="595.1" cy="123.3" r="1.5"/>
<circle cx="598.9" cy="100.1" r="1.5"/>
<circle cx="601.3" cy="104.0" r="1.5"/>
<circle cx="601.0" cy="108.5" r="1.5"/>
<circle cx="600.7" cy="111.2" r="1.5"/>
<circle cx="600.3" cy="113.8" r="1.5"/>
<circle cx="598.7" cy="119.1" r="1.5"/>
<circle cx="598.4" cy="120.4" r="1.5"/>
<circle cx="600.2" cy="126.0" r="1.5"/>
<circle cx="598.9" cy="127.2" r="1.5"/>
<circle cx="602.7" cy="100.6" r="1.5"/>
<circle cx="602.8" cy="103.0" r="1.5"/>
<circle cx="604.6" cy="108.4" r="1.5"/>
<circle cx="601.7" cy="110.0" r="1.5"/>
<circle cx="602.1" cy="114.3" r="1.5"/>
<circle cx="604.5" cy="117.0" r="1.5"/>
<circle cx="602.4" cy="121.0" r="1.5"/>
<circle cx="603.3" cy="126.2" r="1.5"/>
<circle cx="606.5" cy="101.0" r="1.5"/>
<circle cx="607.0" cy="103.2" r="1.5"/>
<circle cx="606.7" cy="106.3" r="1.5"/>
<circle cx="606.5" cy="108.9" r="1.5"/>
<circle cx="605.8" cy="114.4" r="1.5"/>
<circle cx="605.6" cy="116.2" r="1.5"/>
<circle cx="605.7" cy="120.1" r="1.5"/>
<circle cx="605.3" cy="123.5" r="1.5"/>
<circle cx="608.9" cy="101.4" r="1.5"/>
<circle cx="609.2" cy="103.9" r="1.5"/>
<circle cx="610.4" cy="108.9" r="1.5"/>
<circle cx="610.7" cy="112.8" r="1.5"/>
<circle cx="608.7" cy="114.2" r="1.5"/>
<circle cx="610.1" cy="116.8" r="1.5"/>
<circle cx="608.8" cy="121.2" r="1.5"/>
<circle cx="613.8" cy="102.1" r="1.5"/>
<circle cx="613.9" cy="105.2" r="1.5"/>
<circle cx="613.8" cy="107.4" r="1.5"/>
<circle cx="613.3" cy="109.5" r="1.5"/>
<circle cx="612.2" cy="114.8" r="1.5"/>
<circle cx="614.7" cy="116.3" r="1.5"/>
<circle cx="612.6" cy="120.7" r="1.5"/>
<circle cx="618.4" cy="99.0" r="1.5"/>
<circle cx="617.4" cy="101.7" r="1.5"/>
<circle cx="616.8" cy="107.9" r="1.5"/>
<circle cx="616.2" cy="109.6" r="1.5"/>
<circle cx="617.5" cy="113.6" r="1.5"/>
<circle cx="617.3" cy="117.2" r="1.5"/>
<circle cx="620.1" cy="100.8" r="1.5"/>
<circle cx="621.5" cy="105.9" r="1.5"/>
<circle cx="619.7" cy="108.6" r="1.5"/>
<circle cx="619.7" cy="112.1" r="1.5"/>
<circle cx="619.0" cy="114.8" r="1.5"/>
<circle cx="624.7" cy="98.9" r="1.5"/>
<circle cx="624.2" cy="102.0" r="1.5"/>
<circle cx="624.6" cy="107.8" r="1.5"/>
<circle cx="623.7" cy="110.8" r="1.5"/>
<circle cx="624.4" cy="113.1" r="1.5"/>
<circle cx="622.6" cy="117.9" r="1.5"/>
<circle cx="71.2" cy="299.7" r="1.5"/>
<circle cx="75.9" cy="301.8" r="1.5"/>
<circle cx="68.9" cy="303.9" r="1.5"/>
<circle cx="93.8" cy="300.6" r="1.5"/>
<circle cx="91.4" cy="305.3" r="1.5"/>
<circle cx="80.1" cy="305.3" r="1.5"/>
<circle cx="82.5" cy="304.4" r="1.5"/>
<circle cx="82.0" cy="306.7" r="1.5"/>
<circle cx="82.5" cy="309.1" r="1.5"/>
<circle cx="80.1" cy="309.1" r="1.5"/>
<circle cx="80.1" cy="311.9" r="1.5"/>
<circle cx="82.5" cy="311.9" r="1.5"/>
<circle cx="71.2" cy="311.4" r="1.5"/>
<circle cx="73.6" cy="315.2" r="1.5"/>
<circle cx="75.9" cy="316.1" r="1.5"/>
<circle cx="78.3" cy="313.3" r="1.5"/>
<circle cx="80.1" cy="317.1" r="1.5"/>
<circle cx="84.8" cy="317.1" r="1.5"/>
<circle cx="89.1" cy="313.3" r="1.5"/>
<circle cx="95.6" cy="312.4" r="1.5"/>
<circle cx="98.0" cy="308.1" r="1.5"/>
<circle cx="99.9" cy="311.9" r="1.5"/>
<circle cx="102.2" cy="306.3" r="1.5"/>
<circle cx="102.7" cy="312.8" r="1.5"/>
<circle cx="104.6" cy="310.0" r="1.5"/>
<circle cx="108.8" cy="306.7" r="1.5"/>
<circle cx="111.1" cy="306.7" r="1.5"/>
<circle cx="115.3" cy="306.7" r="1.5"/>
<circle cx="108.8" cy="312.4" r="1.5"/>
<circle cx="106.4" cy="315.7" r="1.5"/>
<circle cx="108.8" cy="315.7" r="1.5"/>
<circle cx="111.1" cy="314.7" r="1.5"/>
<circle cx="113.5" cy="317.1" r="1.5"/>
<circle cx="115.8" cy="312.8" r="1.5"/>
<circle cx="120.0" cy="311.4" r="1.5"/>
<circle cx="124.3" cy="314.3" r="1.5"/>
<circle cx="128.5" cy="315.2" r="1.5"/>
<circle cx="131.3" cy="311.9" r="1.5"/>
<circle cx="131.8" cy="314.7" r="1.5"/>
<circle cx="99.9" cy="320.4" r="1.5"/>
<circle cx="124.3" cy="320.4" r="1.5"/>
<circle cx="86.7" cy="325.1" r="1.5"/>
<circle cx="98.0" cy="327.4" r="1.5"/>
<circle cx="104.6" cy="328.3" r="1.5"/>
<circle cx="117.7" cy="326.0" r="1.5"/>
<circle cx="128.5" cy="325.5" r="1.5"/>
<circle cx="77.3" cy="327.4" r="1.5"/>
<circle cx="75.4" cy="328.3" r="1.5"/>
<circle cx="115.8" cy="327.9" r="1.5"/>
<circle cx="174.8" cy="300.2" r="1.5"/>
<circle cx="162.1" cy="307.7" r="1.5"/>
<circle cx="144.3" cy="312.4" r="1.5"/>
<circle cx="144.3" cy="314.7" r="1.5"/>
<circle cx="139.6" cy="316.1" r="1.5"/>
<circle cx="135.3" cy="319.9" r="1.5"/>
<circle cx="141.9" cy="323.2" r="1.5"/>
<circle cx="146.6" cy="324.6" r="1.5"/>
<circle cx="150.8" cy="324.6" r="1.5"/>
<circle cx="166.3" cy="319.9" r="1.5"/>
<circle cx="168.7" cy="323.2" r="1.5"/>
<circle cx="190.7" cy="323.2" r="1.5"/>
<circle cx="176.7" cy="326.0" r="1.5"/>
<circle cx="254.4" cy="305.3" r="1.5"/>
<circle cx="225.8" cy="317.5" r="1.5"/>
<circle cx="225.8" cy="319.6" r="1.5"/>
<circle cx="212.6" cy="323.6" r="1.5"/>
<circle cx="241.2" cy="324.6" r="1.5"/>
<circle cx="245.9" cy="326.9" r="1.5"/>
<circle cx="203.7" cy="327.9" r="1.5"/>
<circle cx="210.3" cy="327.4" r="1.5"/>
<circle cx="80.1" cy="332.8" r="1.5"/>
<circle cx="82.5" cy="335.6" r="1.5"/>
<circle cx="86.7" cy="333.2" r="1.5"/>
<circle cx="95.6" cy="333.2" r="1.5"/>
<circle cx="95.6" cy="336.0" r="1.5"/>
<circle cx="99.9" cy="331.8" r="1.5"/>
<circle cx="99.9" cy="335.1" r="1.5"/>
<circle cx="86.7" cy="338.4" r="1.5"/>
<circle cx="86.7" cy="341.2" r="1.5"/>
<circle cx="89.1" cy="341.2" r="1.5"/>
<circle cx="91.4" cy="340.7" r="1.5"/>
<circle cx="93.8" cy="342.1" r="1.5"/>
<circle cx="89.1" cy="342.6" r="1.5"/>
<circle cx="82.0" cy="343.6" r="1.5"/>
<circle cx="79.7" cy="345.9" r="1.5"/>
<circle cx="86.7" cy="346.4" r="1.5"/>
<circle cx="71.2" cy="342.6" r="1.5"/>
<circle cx="73.6" cy="344.5" r="1.5"/>
<circle cx="71.2" cy="350.1" r="1.5"/>
<circle cx="75.9" cy="350.1" r="1.5"/>
<circle cx="78.3" cy="349.2" r="1.5"/>
<circle cx="82.5" cy="350.1" r="1.5"/>
<circle cx="86.7" cy="351.5" r="1.5"/>
<circle cx="84.4" cy="354.4" r="1.5"/>
<circle cx="95.6" cy="349.2" r="1.5"/>
<circle cx="98.0" cy="353.9" r="1.5"/>
<circle cx="99.9" cy="357.6" r="1.5"/>
<circle cx="89.1" cy="359.1" r="1.5"/>
<circle cx="80.1" cy="360.0" r="1.5"/>
<circle cx="99.9" cy="340.3" r="1.5"/>
<circle cx="102.2" cy="340.3" r="1.5"/>
<circle cx="115.8" cy="334.6" r="1.5"/>
<circle cx="102.2" cy="346.4" r="1.5"/>
<circle cx="102.7" cy="350.6" r="1.5"/>
<circle cx="104.6" cy="353.4" r="1.5"/>
<circle cx="137.2" cy="329.9" r="1.5"/>
<circle cx="163.0" cy="329.9" r="1.5"/>
<circle cx="161.6" cy="332.8" r="1.5"/>
<circle cx="170.6" cy="333.2" r="1.5"/>
<circle cx="177.1" cy="335.6" r="1.5"/>
<circle cx="179.0" cy="333.7" r="1.5"/>
<circle cx="179.9" cy="331.8" r="1.5"/>
<circle cx="184.2" cy="332.3" r="1.5"/>
<circle cx="190.3" cy="333.7" r="1.5"/>
<circle cx="186.0" cy="338.4" r="1.5"/>
<circle cx="177.1" cy="338.4" r="1.5"/>
<circle cx="170.6" cy="340.3" r="1.5"/>
<circle cx="173.4" cy="339.8" r="1.5"/>
<circle cx="135.3" cy="336.0" r="1.5"/>
<circle cx="133.5" cy="338.4" r="1.5"/>
<circle cx="195.0" cy="329.9" r="1.5"/>
<circle cx="197.8" cy="339.3" r="1.5"/>
<circle cx="195.0" cy="341.2" r="1.5"/>
<circle cx="150.8" cy="337.9" r="1.5"/>
<circle cx="147.1" cy="338.4" r="1.5"/>
<circle cx="162.1" cy="341.2" r="1.5"/>
<circle cx="205.6" cy="329.9" r="1.5"/>
<circle cx="205.6" cy="333.2" r="1.5"/>
<circle cx="210.3" cy="334.2" r="1.5"/>
<circle cx="219.2" cy="333.2" r="1.5"/>
<circle cx="223.4" cy="337.9" r="1.5"/>
<circle cx="221.5" cy="338.4" r="1.5"/>
<circle cx="238.9" cy="329.9" r="1.5"/>
<circle cx="241.7" cy="337.0" r="1.5"/>
<circle cx="244.1" cy="338.9" r="1.5"/>
<circle cx="245.9" cy="339.8" r="1.5"/>
<circle cx="244.1" cy="343.1" r="1.5"/>
<circle cx="254.4" cy="342.1" r="1.5"/>
<circle cx="256.3" cy="344.0" r="1.5"/>
<circle cx="260.5" cy="342.1" r="1.5"/>
<circle cx="263.8" cy="341.2" r="1.5"/>
<circle cx="216.8" cy="341.2" r="1.5"/>
<circle cx="219.2" cy="344.0" r="1.5"/>
<circle cx="221.5" cy="345.9" r="1.5"/>
<circle cx="212.1" cy="344.5" r="1.5"/>
<circle cx="228.1" cy="346.4" r="1.5"/>
<circle cx="230.0" cy="343.1" r="1.5"/>
<circle cx="242.7" cy="351.5" r="1.5"/>
<circle cx="222.5" cy="353.0" r="1.5"/>
<circle cx="200.9" cy="354.4" r="1.5"/>
<circle cx="199.9" cy="349.7" r="1.5"/>
<circle cx="265.9" cy="341.2" r="1.5"/>
<circle cx="272.0" cy="346.8" r="1.5"/>
<circle cx="274.4" cy="347.8" r="1.5"/>
<circle cx="281.0" cy="350.6" r="1.5"/>
<circle cx="281.9" cy="354.4" r="1.5"/>
<circle cx="289.4" cy="354.8" r="1.5"/>
<circle cx="294.1" cy="357.6" r="1.5"/>
<circle cx="270.6" cy="359.1" r="1.5"/>
<circle cx="120.5" cy="363.9" r="1.5"/>
<circle cx="129.0" cy="364.9" r="1.5"/>
<circle cx="136.5" cy="366.8" r="1.5"/>
<circle cx="141.2" cy="365.8" r="1.5"/>
<circle cx="144.0" cy="363.9" r="1.5"/>
<circle cx="147.7" cy="365.8" r="1.5"/>
<circle cx="150.6" cy="364.9" r="1.5"/>
<circle cx="153.4" cy="363.9" r="1.5"/>
<circle cx="127.1" cy="368.6" r="1.5"/>
<circle cx="133.7" cy="368.6" r="1.5"/>
<circle cx="138.4" cy="367.7" r="1.5"/>
<circle cx="142.1" cy="369.6" r="1.5"/>
<circle cx="80.1" cy="372.8" r="1.5"/>
<circle cx="91.0" cy="373.3" r="1.5"/>
<circle cx="93.3" cy="369.6" r="1.5"/>
<circle cx="113.4" cy="375.2" r="1.5"/>
<circle cx="124.3" cy="373.3" r="1.5"/>
<circle cx="135.5" cy="375.2" r="1.5"/>
<circle cx="138.0" cy="375.8" r="1.5"/>
<circle cx="142.1" cy="375.2" r="1.5"/>
<circle cx="150.6" cy="372.4" r="1.5"/>
<circle cx="148.7" cy="377.1" r="1.5"/>
<circle cx="148.7" cy="379.9" r="1.5"/>
<circle cx="153.4" cy="375.2" r="1.5"/>
<circle cx="158.1" cy="375.2" r="1.5"/>
<circle cx="159.9" cy="379.0" r="1.5"/>
<circle cx="163.7" cy="377.1" r="1.5"/>
<circle cx="166.5" cy="376.1" r="1.5"/>
<circle cx="170.3" cy="375.2" r="1.5"/>
<circle cx="172.1" cy="377.1" r="1.5"/>
<circle cx="168.4" cy="371.4" r="1.5"/>
<circle cx="172.1" cy="370.5" r="1.5"/>
<circle cx="162.8" cy="368.6" r="1.5"/>
<circle cx="160.9" cy="365.8" r="1.5"/>
<circle cx="166.5" cy="366.8" r="1.5"/>
<circle cx="164.6" cy="381.8" r="1.5"/>
<circle cx="169.3" cy="379.9" r="1.5"/>
<circle cx="173.1" cy="381.8" r="1.5"/>
<circle cx="176.8" cy="381.8" r="1.5"/>
<circle cx="172.1" cy="383.6" r="1.5"/>
<circle cx="168.4" cy="384.6" r="1.5"/>
<circle cx="175.0" cy="386.5" r="1.5"/>
<circle cx="168.4" cy="389.3" r="1.5"/>
<circle cx="133.1" cy="385.0" r="1.5"/>
<circle cx="139.9" cy="388.9" r="1.5"/>
<circle cx="142.1" cy="405.0" r="1.5"/>
<circle cx="122.0" cy="417.0" r="1.5"/>
<circle cx="188.1" cy="382.7" r="1.5"/>
<circle cx="191.9" cy="381.8" r="1.5"/>
<circle cx="192.8" cy="387.4" r="1.5"/>
<circle cx="195.1" cy="402.4" r="1.5"/>
<circle cx="184.4" cy="376.1" r="1.5"/>
<circle cx="189.0" cy="376.1" r="1.5"/>
<circle cx="191.9" cy="377.1" r="1.5"/>
<circle cx="187.2" cy="367.7" r="1.5"/>
<circle cx="194.7" cy="369.6" r="1.5"/>
<circle cx="198.4" cy="376.1" r="1.5"/>
<circle cx="198.4" cy="387.4" r="1.5"/>
<circle cx="201.8" cy="373.2" r="1.5"/>
<circle cx="203.7" cy="374.6" r="1.5"/>
<circle cx="201.8" cy="376.9" r="1.5"/>
<circle cx="204.6" cy="376.9" r="1.5"/>
<circle cx="201.8" cy="380.7" r="1.5"/>
<circle cx="204.6" cy="380.2" r="1.5"/>
<circle cx="208.4" cy="380.2" r="1.5"/>
<circle cx="203.7" cy="383.5" r="1.5"/>
<circle cx="212.6" cy="374.1" r="1.5"/>
<circle cx="212.6" cy="376.9" r="1.5"/>
<circle cx="212.6" cy="379.8" r="1.5"/>
<circle cx="215.0" cy="384.0" r="1.5"/>
<circle cx="221.5" cy="368.5" r="1.5"/>
<circle cx="226.2" cy="378.8" r="1.5"/>
<circle cx="228.6" cy="377.9" r="1.5"/>
<circle cx="224.3" cy="381.2" r="1.5"/>
<circle cx="232.3" cy="382.1" r="1.5"/>
<circle cx="238.9" cy="382.1" r="1.5"/>
<circle cx="239.4" cy="378.3" r="1.5"/>
<circle cx="240.3" cy="373.2" r="1.5"/>
<circle cx="242.2" cy="370.4" r="1.5"/>
<circle cx="245.9" cy="383.0" r="1.5"/>
<circle cx="254.4" cy="367.1" r="1.5"/>
<circle cx="261.0" cy="378.3" r="1.5"/>
<circle cx="262.8" cy="369.4" r="1.5"/>
<circle cx="263.8" cy="375.1" r="1.5"/>
<circle cx="218.7" cy="368.5" r="1.5"/>
<circle cx="222.5" cy="366.6" r="1.5"/>
<circle cx="285.4" cy="366.4" r="1.5"/>
<circle cx="320.1" cy="363.9" r="1.5"/>
<circle cx="265.7" cy="370.5" r="1.5"/>
<circle cx="261.0" cy="379.0" r="1.5"/>
<circle cx="265.7" cy="375.2" r="1.5"/>
<circle cx="265.7" cy="382.7" r="1.5"/>
<circle cx="270.0" cy="386.1" r="1.5"/>
<circle cx="261.3" cy="383.6" r="1.5"/>
<circle cx="245.9" cy="383.1" r="1.5"/>
<circle cx="239.0" cy="383.1" r="1.5"/>
<circle cx="232.4" cy="382.3" r="1.5"/>
<circle cx="228.1" cy="377.6" r="1.5"/>
<circle cx="223.4" cy="381.8" r="1.5"/>
<circle cx="215.0" cy="385.1" r="1.5"/>
<circle cx="219.1" cy="394.5" r="1.5"/>
<circle cx="228.1" cy="393.0" r="1.5"/>
<circle cx="237.1" cy="396.8" r="1.5"/>
<circle cx="252.5" cy="394.3" r="1.5"/>
<circle cx="252.5" cy="404.3" r="1.5"/>
<circle cx="206.5" cy="393.0" r="1.5"/>
<circle cx="206.1" cy="430.6" r="1.5"/>
<circle cx="201.8" cy="392.1" r="1.5"/>
<circle cx="201.8" cy="387.4" r="1.5"/>
<circle cx="203.7" cy="386.5" r="1.5"/>
<circle cx="106.5" cy="341.5" r="1.5"/>
<circle cx="106.1" cy="343.6" r="1.5"/>
<circle cx="107.1" cy="347.0" r="1.5"/>
<circle cx="108.3" cy="347.6" r="1.5"/>
<circle cx="106.6" cy="352.3" r="1.5"/>
<circle cx="106.7" cy="353.0" r="1.5"/>
<circle cx="108.1" cy="356.7" r="1.5"/>
<circle cx="109.0" cy="339.2" r="1.5"/>
<circle cx="110.8" cy="341.8" r="1.5"/>
<circle cx="110.4" cy="343.7" r="1.5"/>
<circle cx="108.9" cy="345.7" r="1.5"/>
<circle cx="110.9" cy="348.6" r="1.5"/>
<circle cx="109.5" cy="352.5" r="1.5"/>
<circle cx="110.3" cy="355.1" r="1.5"/>
<circle cx="109.6" cy="358.2" r="1.5"/>
<circle cx="111.6" cy="340.2" r="1.5"/>
<circle cx="113.2" cy="341.9" r="1.5"/>
<circle cx="111.7" cy="346.8" r="1.5"/>
<circle cx="112.3" cy="348.0" r="1.5"/>
<circle cx="113.4" cy="351.6" r="1.5"/>
<circle cx="111.6" cy="353.8" r="1.5"/>
<circle cx="111.6" cy="356.9" r="1.5"/>
<circle cx="112.5" cy="359.6" r="1.5"/>
<circle cx="116.0" cy="339.8" r="1.5"/>
<circle cx="114.0" cy="343.3" r="1.5"/>
<circle cx="116.1" cy="345.9" r="1.5"/>
<circle cx="115.1" cy="347.8" r="1.5"/>
<circle cx="115.1" cy="351.1" r="1.5"/>
<circle cx="116.0" cy="354.5" r="1.5"/>
<circle cx="115.0" cy="355.7" r="1.5"/>
<circle cx="114.2" cy="360.3" r="1.5"/>
<circle cx="115.3" cy="361.2" r="1.5"/>
<circle cx="118.6" cy="341.3" r="1.5"/>
<circle cx="116.7" cy="343.8" r="1.5"/>
<circle cx="116.9" cy="347.2" r="1.5"/>
<circle cx="117.3" cy="349.6" r="1.5"/>
<circle cx="116.5" cy="352.8" r="1.5"/>
<circle cx="117.6" cy="356.0" r="1.5"/>
<circle cx="117.2" cy="358.3" r="1.5"/>
<circle cx="117.2" cy="361.3" r="1.5"/>
<circle cx="120.4" cy="342.8" r="1.5"/>
<circle cx="121.1" cy="346.9" r="1.5"/>
<circle cx="120.5" cy="348.8" r="1.5"/>
<circle cx="120.9" cy="350.7" r="1.5"/>
<circle cx="120.6" cy="353.7" r="1.5"/>
<circle cx="120.3" cy="356.2" r="1.5"/>
<circle cx="120.4" cy="358.4" r="1.5"/>
<circle cx="119.7" cy="361.0" r="1.5"/>
<circle cx="122.6" cy="345.4" r="1.5"/>
<circle cx="122.6" cy="346.6" r="1.5"/>
<circle cx="123.2" cy="350.0" r="1.5"/>
<circle cx="122.8" cy="352.9" r="1.5"/>
<circle cx="123.8" cy="354.4" r="1.5"/>
<circle cx="122.3" cy="357.3" r="1.5"/>
<circle cx="123.4" cy="360.6" r="1.5"/>
<circle cx="122.2" cy="362.5" r="1.5"/>
<circle cx="126.3" cy="343.3" r="1.5"/>
<circle cx="125.0" cy="344.1" r="1.5"/>
<circle cx="125.9" cy="347.5" r="1.5"/>
<circle cx="126.1" cy="349.9" r="1.5"/>
<circle cx="125.5" cy="353.8" r="1.5"/>
<circle cx="124.7" cy="355.5" r="1.5"/>
<circle cx="124.8" cy="358.4" r="1.5"/>
<circle cx="126.2" cy="362.1" r="1.5"/>
<circle cx="128.4" cy="342.4" r="1.5"/>
<circle cx="128.7" cy="345.9" r="1.5"/>
<circle cx="129.3" cy="346.7" r="1.5"/>
<circle cx="127.4" cy="351.1" r="1.5"/>
<circle cx="127.5" cy="353.8" r="1.5"/>
<circle cx="127.4" cy="355.5" r="1.5"/>
<circle cx="127.4" cy="357.1" r="1.5"/>
<circle cx="127.9" cy="361.3" r="1.5"/>
<circle cx="130.6" cy="341.2" r="1.5"/>
<circle cx="130.3" cy="344.6" r="1.5"/>
<circle cx="130.9" cy="348.2" r="1.5"/>
<circle cx="129.9" cy="350.0" r="1.5"/>
<circle cx="131.1" cy="351.7" r="1.5"/>
<circle cx="130.6" cy="354.3" r="1.5"/>
<circle cx="131.8" cy="357.5" r="1.5"/>
<circle cx="129.9" cy="360.4" r="1.5"/>
<circle cx="134.9" cy="341.0" r="1.5"/>
<circle cx="135.4" cy="343.1" r="1.5"/>
<circle cx="134.9" cy="345.8" r="1.5"/>
<circle cx="135.1" cy="348.8" r="1.5"/>
<circle cx="135.1" cy="352.9" r="1.5"/>
<circle cx="135.0" cy="353.9" r="1.5"/>
<circle cx="134.2" cy="356.5" r="1.5"/>
<circle cx="134.9" cy="361.2" r="1.5"/>
<circle cx="136.2" cy="340.8" r="1.5"/>
<circle cx="136.7" cy="344.3" r="1.5"/>
<circle cx="136.8" cy="346.0" r="1.5"/>
<circle cx="137.1" cy="348.3" r="1.5"/>
<circle cx="136.0" cy="351.0" r="1.5"/>
<circle cx="135.9" cy="354.6" r="1.5"/>
<circle cx="136.9" cy="357.1" r="1.5"/>
<circle cx="137.2" cy="358.4" r="1.5"/>
<circle cx="137.8" cy="362.9" r="1.5"/>
<circle cx="139.5" cy="340.0" r="1.5"/>
<circle cx="139.5" cy="342.8" r="1.5"/>
<circle cx="140.1" cy="345.0" r="1.5"/>
<circle cx="140.6" cy="347.9" r="1.5"/>
<circle cx="139.9" cy="348.8" r="1.5"/>
<circle cx="139.5" cy="353.0" r="1.5"/>
<circle cx="139.7" cy="355.3" r="1.5"/>
<circle cx="139.3" cy="358.6" r="1.5"/>
<circle cx="139.1" cy="360.7" r="1.5"/>
<circle cx="141.4" cy="342.6" r="1.5"/>
<circle cx="142.2" cy="344.6" r="1.5"/>
<circle cx="141.3" cy="349.1" r="1.5"/>
<circle cx="143.4" cy="350.8" r="1.5"/>
<circle cx="142.2" cy="353.9" r="1.5"/>
<circle cx="141.3" cy="356.4" r="1.5"/>
<circle cx="142.7" cy="359.9" r="1.5"/>
<circle cx="142.6" cy="361.6" r="1.5"/>
<circle cx="145.9" cy="340.5" r="1.5"/>
<circle cx="144.9" cy="343.6" r="1.5"/>
<circle cx="144.8" cy="344.6" r="1.5"/>
<circle cx="145.1" cy="349.2" r="1.5"/>
<circle cx="144.6" cy="350.0" r="1.5"/>
<circle cx="144.0" cy="354.5" r="1.5"/>
<circle cx="144.0" cy="356.6" r="1.5"/>
<circle cx="143.9" cy="358.9" r="1.5"/>
<circle cx="145.9" cy="360.8" r="1.5"/>
<circle cx="147.8" cy="340.3" r="1.5"/>
<circle cx="147.7" cy="342.5" r="1.5"/>
<circle cx="146.5" cy="345.6" r="1.5"/>
<circle cx="147.0" cy="348.3" r="1.5"/>
<circle cx="147.4" cy="350.1" r="1.5"/>
<circle cx="148.7" cy="352.9" r="1.5"/>
<circle cx="148.7" cy="355.9" r="1.5"/>
<circle cx="147.6" cy="358.0" r="1.5"/>
<circle cx="146.8" cy="361.7" r="1.5"/>
<circle cx="150.2" cy="343.5" r="1.5"/>
<circle cx="150.8" cy="346.2" r="1.5"/>
<circle cx="150.0" cy="348.9" r="1.5"/>
<circle cx="150.4" cy="351.0" r="1.5"/>
<circle cx="150.5" cy="353.2" r="1.5"/>
<circle cx="149.1" cy="355.5" r="1.5"/>
<circle cx="151.3" cy="359.9" r="1.5"/>
<circle cx="150.9" cy="361.0" r="1.5"/>
<circle cx="152.3" cy="343.2" r="1.5"/>
<circle cx="154.0" cy="348.0" r="1.5"/>
<circle cx="153.6" cy="349.3" r="1.5"/>
<circle cx="153.3" cy="353.0" r="1.5"/>
<circle cx="152.9" cy="353.8" r="1.5"/>
<circle cx="153.9" cy="357.4" r="1.5"/>
<circle cx="153.4" cy="360.2" r="1.5"/>
<circle cx="151.8" cy="362.5" r="1.5"/>
<circle cx="154.5" cy="345.1" r="1.5"/>
<circle cx="155.7" cy="347.6" r="1.5"/>
<circle cx="155.9" cy="350.9" r="1.5"/>
<circle cx="155.3" cy="352.8" r="1.5"/>
<circle cx="155.5" cy="355.4" r="1.5"/>
<circle cx="155.9" cy="357.0" r="1.5"/>
<circle cx="154.4" cy="359.5" r="1.5"/>
<circle cx="157.2" cy="345.6" r="1.5"/>
<circle cx="157.1" cy="347.0" r="1.5"/>
<circle cx="158.5" cy="350.1" r="1.5"/>
<circle cx="157.5" cy="351.7" r="1.5"/>
<circle cx="158.3" cy="354.6" r="1.5"/>
<circle cx="158.9" cy="357.3" r="1.5"/>
<circle cx="159.1" cy="359.4" r="1.5"/>
<circle cx="160.5" cy="344.3" r="1.5"/>
<circle cx="160.0" cy="346.8" r="1.5"/>
<circle cx="159.6" cy="349.2" r="1.5"/>
<circle cx="161.5" cy="351.3" r="1.5"/>
<circle cx="161.5" cy="353.7" r="1.5"/>
<circle cx="160.4" cy="357.7" r="1.5"/>
<circle cx="161.9" cy="360.0" r="1.5"/>
<circle cx="163.8" cy="346.7" r="1.5"/>
<circle cx="163.4" cy="347.3" r="1.5"/>
<circle cx="163.8" cy="351.8" r="1.5"/>
<circle cx="164.0" cy="352.3" r="1.5"/>
<circle cx="162.9" cy="356.7" r="1.5"/>
<circle cx="163.8" cy="359.9" r="1.5"/>
<circle cx="164.3" cy="362.0" r="1.5"/>
<circle cx="166.6" cy="343.7" r="1.5"/>
<circle cx="166.8" cy="345.5" r="1.5"/>
<circle cx="166.8" cy="349.4" r="1.5"/>
<circle cx="166.9" cy="352.1" r="1.5"/>
<circle cx="165.8" cy="354.3" r="1.5"/>
<circle cx="165.0" cy="356.3" r="1.5"/>
<circle cx="166.1" cy="358.8" r="1.5"/>
<circle cx="165.6" cy="362.5" r="1.5"/>
<circle cx="168.7" cy="343.3" r="1.5"/>
<circle cx="169.2" cy="346.5" r="1.5"/>
<circle cx="169.6" cy="347.9" r="1.5"/>
<circle cx="167.7" cy="350.9" r="1.5"/>
<circle cx="168.9" cy="354.4" r="1.5"/>
<circle cx="167.9" cy="356.1" r="1.5"/>
<circle cx="168.8" cy="358.8" r="1.5"/>
<circle cx="169.4" cy="361.0" r="1.5"/>
<circle cx="171.9" cy="345.1" r="1.5"/>
<circle cx="172.2" cy="345.5" r="1.5"/>
<circle cx="171.6" cy="350.3" r="1.5"/>
<circle cx="171.9" cy="351.8" r="1.5"/>
<circle cx="171.8" cy="354.0" r="1.5"/>
<circle cx="171.9" cy="357.0" r="1.5"/>
<circle cx="172.3" cy="358.7" r="1.5"/>
<circle cx="171.4" cy="361.6" r="1.5"/>
<circle cx="174.7" cy="343.3" r="1.5"/>
<circle cx="172.7" cy="347.3" r="1.5"/>
<circle cx="173.6" cy="348.3" r="1.5"/>
<circle cx="174.3" cy="352.8" r="1.5"/>
<circle cx="172.9" cy="354.8" r="1.5"/>
<circle cx="173.5" cy="356.0" r="1.5"/>
<circle cx="172.8" cy="358.7" r="1.5"/>
<circle cx="173.4" cy="361.9" r="1.5"/>
<circle cx="177.3" cy="342.6" r="1.5"/>
<circle cx="176.8" cy="346.9" r="1.5"/>
<circle cx="175.9" cy="348.9" r="1.5"/>
<circle cx="177.6" cy="351.6" r="1.5"/>
<circle cx="177.0" cy="353.5" r="1.5"/>
<circle cx="177.6" cy="357.3" r="1.5"/>
<circle cx="176.1" cy="358.7" r="1.5"/>
<circle cx="175.3" cy="361.7" r="1.5"/>
<circle cx="178.5" cy="343.5" r="1.5"/>
<circle cx="178.5" cy="346.2" r="1.5"/>
<circle cx="178.3" cy="349.6" r="1.5"/>
<circle cx="180.1" cy="353.0" r="1.5"/>
<circle cx="179.4" cy="354.3" r="1.5"/>
<circle cx="180.1" cy="356.7" r="1.5"/>
<circle cx="178.0" cy="359.4" r="1.5"/>
<circle cx="181.8" cy="343.5" r="1.5"/>
<circle cx="181.6" cy="344.4" r="1.5"/>
<circle cx="180.7" cy="347.4" r="1.5"/>
<circle cx="181.8" cy="351.2" r="1.5"/>
<circle cx="181.9" cy="352.1" r="1.5"/>
<circle cx="182.8" cy="355.8" r="1.5"/>
<circle cx="181.8" cy="357.8" r="1.5"/>
<circle cx="181.1" cy="360.5" r="1.5"/>
<circle cx="184.0" cy="343.1" r="1.5"/>
<circle cx="183.3" cy="345.0" r="1.5"/>
<circle cx="185.0" cy="349.9" r="1.5"/>
<circle cx="183.3" cy="350.4" r="1.5"/>
<circle cx="184.3" cy="353.6" r="1.5"/>
<circle cx="183.8" cy="357.6" r="1.5"/>
<circle cx="183.6" cy="358.6" r="1.5"/>
<circle cx="185.3" cy="362.3" r="1.5"/>
<circle cx="186.4" cy="346.3" r="1.5"/>
<circle cx="187.8" cy="350.1" r="1.5"/>
<circle cx="185.8" cy="350.8" r="1.5"/>
<circle cx="185.9" cy="353.4" r="1.5"/>
<circle cx="188.0" cy="355.9" r="1.5"/>
<circle cx="187.1" cy="358.8" r="1.5"/>
<circle cx="185.8" cy="361.7" r="1.5"/>
<circle cx="189.1" cy="344.5" r="1.5"/>
<circle cx="189.6" cy="347.7" r="1.5"/>
<circle cx="190.6" cy="349.8" r="1.5"/>
<circle cx="188.5" cy="352.1" r="1.5"/>
<circle cx="189.2" cy="355.1" r="1.5"/>
<circle cx="189.4" cy="359.3" r="1.5"/>
<circle cx="190.2" cy="361.3" r="1.5"/>
<circle cx="192.1" cy="346.5" r="1.5"/>
<circle cx="191.7" cy="348.3" r="1.5"/>
<circle cx="191.5" cy="352.5" r="1.5"/>
<circle cx="193.3" cy="355.6" r="1.5"/>
<circle cx="191.1" cy="357.5" r="1.5"/>
<circle cx="191.5" cy="360.0" r="1.5"/>
<circle cx="192.3" cy="361.8" r="1.5"/>
<circle cx="195.7" cy="343.1" r="1.5"/>
<circle cx="193.7" cy="345.5" r="1.5"/>
<circle cx="195.7" cy="346.4" r="1.5"/>
<circle cx="195.1" cy="350.0" r="1.5"/>
<circle cx="194.1" cy="353.5" r="1.5"/>
<circle cx="195.1" cy="356.1" r="1.5"/>
<circle cx="195.9" cy="359.1" r="1.5"/>
<circle cx="195.3" cy="361.5" r="1.5"/>
<circle cx="198.3" cy="345.0" r="1.5"/>
<circle cx="198.3" cy="347.3" r="1.5"/>
<circle cx="198.6" cy="349.7" r="1.5"/>
<circle cx="198.7" cy="352.8" r="1.5"/>
<circle cx="197.2" cy="355.6" r="1.5"/>
<circle cx="196.6" cy="358.4" r="1.5"/>
<circle cx="197.8" cy="361.3" r="1.5"/>
<circle cx="199.9" cy="349.3" r="1.5"/>
<circle cx="199.6" cy="351.9" r="1.5"/>
<circle cx="200.4" cy="354.1" r="1.5"/>
<circle cx="199.3" cy="358.2" r="1.5"/>
<circle cx="199.7" cy="359.6" r="1.5"/>
<circle cx="202.9" cy="346.7" r="1.5"/>
<circle cx="201.2" cy="347.9" r="1.5"/>
<circle cx="202.7" cy="352.3" r="1.5"/>
<circle cx="202.8" cy="354.7" r="1.5"/>
<circle cx="201.9" cy="358.9" r="1.5"/>
<circle cx="201.5" cy="360.1" r="1.5"/>
<circle cx="205.6" cy="346.3" r="1.5"/>
<circle cx="205.8" cy="349.2" r="1.5"/>
<circle cx="204.8" cy="353.4" r="1.5"/>
<circle cx="205.9" cy="355.9" r="1.5"/>
<circle cx="206.0" cy="358.9" r="1.5"/>
<circle cx="205.6" cy="362.9" r="1.5"/>
<circle cx="208.3" cy="346.9" r="1.5"/>
<circle cx="206.9" cy="347.4" r="1.5"/>
<circle cx="206.9" cy="351.2" r="1.5"/>
<circle cx="208.3" cy="355.0" r="1.5"/>
<circle cx="208.6" cy="356.3" r="1.5"/>
<circle cx="209.2" cy="359.9" r="1.5"/>
<circle cx="210.7" cy="347.8" r="1.5"/>
<circle cx="211.7" cy="348.6" r="1.5"/>
<circle cx="211.2" cy="352.6" r="1.5"/>
<circle cx="212.5" cy="355.1" r="1.5"/>
<circle cx="210.9" cy="357.9" r="1.5"/>
<circle cx="209.8" cy="361.9" r="1.5"/>
<circle cx="213.2" cy="346.8" r="1.5"/>
<circle cx="213.4" cy="350.0" r="1.5"/>
<circle cx="214.6" cy="353.1" r="1.5"/>
<circle cx="213.9" cy="355.7" r="1.5"/>
<circle cx="214.4" cy="358.4" r="1.5"/>
<circle cx="213.9" cy="360.8" r="1.5"/>
<circle cx="216.0" cy="348.7" r="1.5"/>
<circle cx="217.8" cy="349.9" r="1.5"/>
<circle cx="216.9" cy="354.7" r="1.5"/>
<circle cx="217.1" cy="356.8" r="1.5"/>
<circle cx="217.1" cy="358.8" r="1.5"/>
<circle cx="221.1" cy="348.0" r="1.5"/>
<circle cx="219.5" cy="350.5" r="1.5"/>
<circle cx="220.2" cy="354.8" r="1.5"/>
<circle cx="220.6" cy="356.1" r="1.5"/>
<circle cx="218.8" cy="360.2" r="1.5"/>
<circle cx="223.9" cy="349.4" r="1.5"/>
<circle cx="222.1" cy="353.1" r="1.5"/>
<circle cx="222.2" cy="355.3" r="1.5"/>
<circle cx="223.2" cy="359.8" r="1.5"/>
<circle cx="223.8" cy="361.2" r="1.5"/>
<circle cx="225.0" cy="351.2" r="1.5"/>
<circle cx="227.0" cy="354.3" r="1.5"/>
<circle cx="225.7" cy="355.0" r="1.5"/>
<circle cx="226.9" cy="358.9" r="1.5"/>
<circle cx="225.6" cy="361.9" r="1.5"/>
<circle cx="227.8" cy="353.3" r="1.5"/>
<circle cx="230.3" cy="353.9" r="1.5"/>
<circle cx="229.3" cy="359.3" r="1.5"/>
<circle cx="229.2" cy="362.3" r="1.5"/>
<circle cx="232.3" cy="354.5" r="1.5"/>
<circle cx="232.5" cy="357.1" r="1.5"/>
<circle cx="231.4" cy="360.3" r="1.5"/>
<circle cx="231.0" cy="362.1" r="1.5"/>
<circle cx="234.0" cy="352.5" r="1.5"/>
<circle cx="234.8" cy="354.7" r="1.5"/>
<circle cx="234.8" cy="358.4" r="1.5"/>
<circle cx="236.1" cy="361.4" r="1.5"/>
<circle cx="236.6" cy="351.9" r="1.5"/>
<circle cx="237.3" cy="356.8" r="1.5"/>
<circle cx="237.7" cy="359.3" r="1.5"/>
<circle cx="240.2" cy="353.3" r="1.5"/>
<circle cx="240.4" cy="356.2" r="1.5"/>
<circle cx="239.6" cy="359.2" r="1.5"/>
<circle cx="241.3" cy="361.1" r="1.5"/>
<circle cx="244.1" cy="353.0" r="1.5"/>
<circle cx="243.4" cy="356.3" r="1.5"/>
<circle cx="244.7" cy="358.8" r="1.5"/>
<circle cx="244.6" cy="360.0" r="1.5"/>
<circle cx="247.3" cy="349.2" r="1.5"/>
<circle cx="247.5" cy="353.4" r="1.5"/>
<circle cx="248.2" cy="354.1" r="1.5"/>
<circle cx="248.0" cy="359.1" r="1.5"/>
<circle cx="247.1" cy="362.0" r="1.5"/>
<circle cx="251.0" cy="348.9" r="1.5"/>
<circle cx="249.9" cy="351.3" r="1.5"/>
<circle cx="250.7" cy="353.1" r="1.5"/>
<circle cx="250.0" cy="357.6" r="1.5"/>
<circle cx="250.1" cy="361.2" r="1.5"/>
<circle cx="252.5" cy="347.5" r="1.5"/>
<circle cx="252.6" cy="348.4" r="1.5"/>
<circle cx="251.9" cy="352.0" r="1.5"/>
<circle cx="254.1" cy="356.4" r="1.5"/>
<circle cx="253.9" cy="358.7" r="1.5"/>
<circle cx="252.8" cy="361.6" r="1.5"/>
<circle cx="255.5" cy="349.4" r="1.5"/>
<circle cx="256.6" cy="352.4" r="1.5"/>
<circle cx="254.9" cy="355.1" r="1.5"/>
<circle cx="255.2" cy="357.1" r="1.5"/>
<circle cx="255.1" cy="359.4" r="1.5"/>
<circle cx="258.7" cy="351.1" r="1.5"/>
<circle cx="257.5" cy="352.2" r="1.5"/>
<circle cx="259.6" cy="355.2" r="1.5"/>
<circle cx="257.5" cy="359.7" r="1.5"/>
<circle cx="257.6" cy="362.0" r="1.5"/>
<circle cx="262.9" cy="350.7" r="1.5"/>
<circle cx="262.1" cy="353.3" r="1.5"/>
<circle cx="260.8" cy="355.6" r="1.5"/>
<circle cx="262.8" cy="359.3" r="1.5"/>
<circle cx="260.9" cy="362.2" r="1.5"/>
<circle cx="263.4" cy="357.3" r="1.5"/>
<circle cx="263.7" cy="359.0" r="1.5"/>
<circle cx="128.8" cy="367.9" r="1.5"/>
<circle cx="134.4" cy="364.4" r="1.5"/>
<circle cx="137.1" cy="369.6" r="1.5"/>
<circle cx="139.8" cy="365.1" r="1.5"/>
<circle cx="142.4" cy="371.3" r="1.5"/>
<circle cx="147.1" cy="364.1" r="1.5"/>
<circle cx="148.8" cy="371.9" r="1.5"/>
<circle cx="151.9" cy="362.4" r="1.5"/>
<circle cx="152.9" cy="371.0" r="1.5"/>
<circle cx="158.5" cy="364.1" r="1.5"/>
<circle cx="158.7" cy="367.5" r="1.5"/>
<circle cx="169.0" cy="367.8" r="1.5"/>
<circle cx="164.3" cy="373.9" r="1.5"/>
<circle cx="170.8" cy="367.3" r="1.5"/>
<circle cx="179.4" cy="367.7" r="1.5"/>
<circle cx="176.6" cy="370.9" r="1.5"/>
<circle cx="183.6" cy="367.5" r="1.5"/>
<circle cx="185.0" cy="370.3" r="1.5"/>
<circle cx="193.0" cy="364.6" r="1.5"/>
<circle cx="191.2" cy="365.8" r="1.5"/>
<circle cx="197.9" cy="365.9" r="1.5"/>
<circle cx="428.9" cy="319.5" r="1.5"/>
<circle cx="432.2" cy="319.5" r="1.5"/>
<circle cx="436.4" cy="316.2" r="1.5"/>
<circle cx="451.9" cy="319.5" r="1.5"/>
<circle cx="462.7" cy="320.9" r="1.5"/>
<circle cx="440.7" cy="321.4" r="1.5"/>
<circle cx="429.4" cy="324.7" r="1.5"/>
<circle cx="432.2" cy="325.6" r="1.5"/>
<circle cx="434.1" cy="328.0" r="1.5"/>
<circle cx="438.3" cy="328.9" r="1.5"/>
<circle cx="442.6" cy="325.1" r="1.5"/>
<circle cx="443.0" cy="327.0" r="1.5"/>
<circle cx="442.6" cy="329.4" r="1.5"/>
<circle cx="440.7" cy="331.3" r="1.5"/>
<circle cx="445.4" cy="332.2" r="1.5"/>
<circle cx="449.6" cy="334.1" r="1.5"/>
<circle cx="440.7" cy="335.5" r="1.5"/>
<circle cx="441.1" cy="338.8" r="1.5"/>
<circle cx="438.3" cy="339.7" r="1.5"/>
<circle cx="432.2" cy="338.8" r="1.5"/>
<circle cx="451.9" cy="338.8" r="1.5"/>
<circle cx="458.5" cy="337.8" r="1.5"/>
<circle cx="447.2" cy="341.1" r="1.5"/>
<circle cx="453.8" cy="324.2" r="1.5"/>
<circle cx="458.0" cy="323.7" r="1.5"/>
<circle cx="456.2" cy="328.4" r="1.5"/>
<circle cx="460.4" cy="328.0" r="1.5"/>
<circle cx="462.7" cy="327.0" r="1.5"/>
<circle cx="465.1" cy="327.0" r="1.5"/>
<circle cx="460.9" cy="333.1" r="1.5"/>
<circle cx="471.7" cy="323.3" r="1.5"/>
<circle cx="471.7" cy="327.0" r="1.5"/>
<circle cx="469.3" cy="329.4" r="1.5"/>
<circle cx="467.0" cy="333.1" r="1.5"/>
<circle cx="469.8" cy="333.6" r="1.5"/>
<circle cx="472.1" cy="333.1" r="1.5"/>
<circle cx="474.0" cy="332.7" r="1.5"/>
<circle cx="476.3" cy="333.6" r="1.5"/>
<circle cx="480.6" cy="328.4" r="1.5"/>
<circle cx="484.8" cy="329.8" r="1.5"/>
<circle cx="489.0" cy="329.4" r="1.5"/>
<circle cx="491.8" cy="327.0" r="1.5"/>
<circle cx="484.8" cy="334.5" r="1.5"/>
<circle cx="489.0" cy="337.4" r="1.5"/>
<circle cx="491.8" cy="334.5" r="1.5"/>
<circle cx="492.8" cy="337.4" r="1.5"/>
<circle cx="475.9" cy="340.6" r="1.5"/>
<circle cx="443.0" cy="343.9" r="1.5"/>
<circle cx="447.7" cy="344.4" r="1.5"/>
<circle cx="452.4" cy="344.9" r="1.5"/>
<circle cx="460.9" cy="343.0" r="1.5"/>
<circle cx="467.4" cy="343.9" r="1.5"/>
<circle cx="483.4" cy="344.9" r="1.5"/>
<circle cx="436.4" cy="345.3" r="1.5"/>
<circle cx="496.3" cy="330.3" r="1.5"/>
<circle cx="504.8" cy="330.8" r="1.5"/>
<circle cx="494.5" cy="336.9" r="1.5"/>
<circle cx="507.1" cy="336.4" r="1.5"/>
<circle cx="511.4" cy="338.8" r="1.5"/>
<circle cx="524.5" cy="337.4" r="1.5"/>
<circle cx="526.9" cy="336.9" r="1.5"/>
<circle cx="500.6" cy="342.5" r="1.5"/>
<circle cx="495.9" cy="343.9" r="1.5"/>
<circle cx="498.2" cy="344.4" r="1.5"/>
<circle cx="504.3" cy="345.3" r="1.5"/>
<circle cx="509.0" cy="344.9" r="1.5"/>
<circle cx="513.7" cy="345.3" r="1.5"/>
<circle cx="522.6" cy="343.9" r="1.5"/>
<circle cx="529.2" cy="343.5" r="1.5"/>
<circle cx="537.2" cy="342.1" r="1.5"/>
<circle cx="538.1" cy="344.9" r="1.5"/>
<circle cx="547.0" cy="344.4" r="1.5"/>
<circle cx="559.2" cy="343.0" r="1.5"/>
<circle cx="566.6" cy="340.2" r="1.5"/>
<circle cx="566.6" cy="343.0" r="1.5"/>
<circle cx="591.0" cy="344.4" r="1.5"/>
<circle cx="601.8" cy="343.5" r="1.5"/>
<circle cx="606.0" cy="341.6" r="1.5"/>
<circle cx="613.0" cy="342.5" r="1.5"/>
<circle cx="615.4" cy="344.4" r="1.5"/>
<circle cx="622.0" cy="345.3" r="1.5"/>
<circle cx="632.8" cy="332.9" r="1.5"/>
<circle cx="431.8" cy="346.9" r="1.5"/>
<circle cx="456.2" cy="346.9" r="1.5"/>
<circle cx="441.1" cy="349.3" r="1.5"/>
<circle cx="439.3" cy="351.6" r="1.5"/>
<circle cx="437.4" cy="353.5" r="1.5"/>
<circle cx="434.1" cy="355.9" r="1.5"/>
<circle cx="436.9" cy="354.9" r="1.5"/>
<circle cx="443.0" cy="355.4" r="1.5"/>
<circle cx="447.7" cy="355.9" r="1.5"/>
<circle cx="444.9" cy="352.1" r="1.5"/>
<circle cx="447.7" cy="349.8" r="1.5"/>
<circle cx="450.5" cy="348.8" r="1.5"/>
<circle cx="453.3" cy="348.3" r="1.5"/>
<circle cx="454.3" cy="351.2" r="1.5"/>
<circle cx="458.0" cy="354.0" r="1.5"/>
<circle cx="459.9" cy="351.6" r="1.5"/>
<circle cx="461.8" cy="349.3" r="1.5"/>
<circle cx="463.7" cy="350.2" r="1.5"/>
<circle cx="465.6" cy="351.6" r="1.5"/>
<circle cx="467.4" cy="350.2" r="1.5"/>
<circle cx="463.7" cy="353.5" r="1.5"/>
<circle cx="465.6" cy="354.9" r="1.5"/>
<circle cx="440.2" cy="361.5" r="1.5"/>
<circle cx="444.9" cy="361.0" r="1.5"/>
<circle cx="449.6" cy="364.8" r="1.5"/>
<circle cx="452.4" cy="365.3" r="1.5"/>
<circle cx="456.2" cy="365.3" r="1.5"/>
<circle cx="460.9" cy="358.2" r="1.5"/>
<circle cx="460.9" cy="361.0" r="1.5"/>
<circle cx="469.3" cy="357.7" r="1.5"/>
<circle cx="471.2" cy="356.8" r="1.5"/>
<circle cx="474.0" cy="360.1" r="1.5"/>
<circle cx="476.8" cy="357.3" r="1.5"/>
<circle cx="479.6" cy="358.2" r="1.5"/>
<circle cx="482.5" cy="357.3" r="1.5"/>
<circle cx="485.3" cy="358.2" r="1.5"/>
<circle cx="482.5" cy="361.0" r="1.5"/>
<circle cx="475.9" cy="366.7" r="1.5"/>
<circle cx="482.5" cy="366.2" r="1.5"/>
<circle cx="485.3" cy="365.7" r="1.5"/>
<circle cx="487.1" cy="368.1" r="1.5"/>
<circle cx="489.5" cy="368.1" r="1.5"/>
<circle cx="482.5" cy="369.0" r="1.5"/>
<circle cx="484.8" cy="373.2" r="1.5"/>
<circle cx="489.5" cy="373.2" r="1.5"/>
<circle cx="474.0" cy="374.2" r="1.5"/>
<circle cx="485.3" cy="377.9" r="1.5"/>
<circle cx="460.9" cy="379.3" r="1.5"/>
<circle cx="497.8" cy="368.5" r="1.5"/>
<circle cx="495.9" cy="367.6" r="1.5"/>
<circle cx="502.4" cy="374.2" r="1.5"/>
<circle cx="504.3" cy="370.4" r="1.5"/>
<circle cx="512.8" cy="370.4" r="1.5"/>
<circle cx="525.0" cy="373.2" r="1.5"/>
<circle cx="531.6" cy="373.7" r="1.5"/>
<circle cx="537.2" cy="371.8" r="1.5"/>
<circle cx="537.2" cy="374.2" r="1.5"/>
<circle cx="550.8" cy="373.7" r="1.5"/>
<circle cx="555.0" cy="370.0" r="1.5"/>
<circle cx="495.9" cy="378.9" r="1.5"/>
<circle cx="620.1" cy="347.9" r="1.5"/>
<circle cx="622.0" cy="346.9" r="1.5"/>
<circle cx="581.6" cy="372.3" r="1.5"/>
<circle cx="579.7" cy="374.2" r="1.5"/>
<circle cx="597.6" cy="378.9" r="1.5"/>
<circle cx="587.2" cy="371.8" r="1.5"/>
<circle cx="633.0" cy="347.4" r="1.5"/>
<circle cx="630.2" cy="350.2" r="1.5"/>
<circle cx="635.4" cy="350.7" r="1.5"/>
<circle cx="650.4" cy="349.3" r="1.5"/>
<circle cx="655.1" cy="352.1" r="1.5"/>
<circle cx="645.7" cy="353.5" r="1.5"/>
<circle cx="681.4" cy="354.9" r="1.5"/>
<circle cx="627.9" cy="353.5" r="1.5"/>
<circle cx="627.9" cy="357.3" r="1.5"/>
<circle cx="631.6" cy="355.4" r="1.5"/>
<circle cx="629.8" cy="360.1" r="1.5"/>
<circle cx="632.6" cy="362.0" r="1.5"/>
<circle cx="626.9" cy="367.6" r="1.5"/>
<circle cx="628.8" cy="347.9" r="1.5"/>
<circle cx="626.9" cy="350.7" r="1.5"/>
<circle cx="496.0" cy="379.8" r="1.5"/>
<circle cx="493.7" cy="383.5" r="1.5"/>
<circle cx="465.2" cy="388.2" r="1.5"/>
<circle cx="500.3" cy="394.8" r="1.5"/>
<circle cx="531.3" cy="380.7" r="1.5"/>
<circle cx="597.6" cy="379.4" r="1.5"/>
<circle cx="467.8" cy="348.2" r="1.5"/>
<circle cx="467.4" cy="350.7" r="1.5"/>
<circle cx="468.9" cy="351.7" r="1.5"/>
<circle cx="470.9" cy="347.2" r="1.5"/>
<circle cx="470.2" cy="349.7" r="1.5"/>
<circle cx="469.8" cy="351.3" r="1.5"/>
<circle cx="470.4" cy="355.4" r="1.5"/>
<circle cx="472.6" cy="347.0" r="1.5"/>
<circle cx="472.4" cy="349.4" r="1.5"/>
<circle cx="472.5" cy="350.6" r="1.5"/>
<circle cx="473.0" cy="353.9" r="1.5"/>
<circle cx="473.3" cy="355.6" r="1.5"/>
<circle cx="474.0" cy="346.3" r="1.5"/>
<circle cx="474.3" cy="348.5" r="1.5"/>
<circle cx="474.3" cy="352.0" r="1.5"/>
<circle cx="474.8" cy="353.3" r="1.5"/>
<circle cx="474.2" cy="355.2" r="1.5"/>
<circle cx="477.1" cy="349.5" r="1.5"/>
<circle cx="476.6" cy="350.9" r="1.5"/>
<circle cx="476.5" cy="352.9" r="1.5"/>
<circle cx="476.1" cy="355.5" r="1.5"/>
<circle cx="478.5" cy="348.9" r="1.5"/>
<circle cx="479.6" cy="351.1" r="1.5"/>
<circle cx="479.4" cy="352.2" r="1.5"/>
<circle cx="479.7" cy="354.5" r="1.5"/>
<circle cx="478.5" cy="356.3" r="1.5"/>
<circle cx="482.4" cy="347.7" r="1.5"/>
<circle cx="481.5" cy="350.2" r="1.5"/>
<circle cx="480.8" cy="352.5" r="1.5"/>
<circle cx="480.5" cy="355.3" r="1.5"/>
<circle cx="481.2" cy="357.2" r="1.5"/>
<circle cx="484.0" cy="346.9" r="1.5"/>
<circle cx="484.2" cy="349.2" r="1.5"/>
<circle cx="483.1" cy="351.0" r="1.5"/>
<circle cx="483.8" cy="354.6" r="1.5"/>
<circle cx="484.0" cy="355.9" r="1.5"/>
<circle cx="483.2" cy="357.7" r="1.5"/>
<circle cx="484.8" cy="346.9" r="1.5"/>
<circle cx="484.8" cy="348.9" r="1.5"/>
<circle cx="485.0" cy="350.7" r="1.5"/>
<circle cx="486.2" cy="352.7" r="1.5"/>
<circle cx="486.4" cy="356.1" r="1.5"/>
<circle cx="486.1" cy="358.1" r="1.5"/>
<circle cx="486.3" cy="359.7" r="1.5"/>
<circle cx="489.0" cy="348.1" r="1.5"/>
<circle cx="487.1" cy="350.4" r="1.5"/>
<circle cx="487.8" cy="351.7" r="1.5"/>
<circle cx="487.4" cy="353.2" r="1.5"/>
<circle cx="487.9" cy="356.4" r="1.5"/>
<circle cx="488.7" cy="358.8" r="1.5"/>
<circle cx="487.4" cy="360.9" r="1.5"/>
<circle cx="488.7" cy="362.4" r="1.5"/>
<circle cx="489.8" cy="347.6" r="1.5"/>
<circle cx="489.6" cy="349.1" r="1.5"/>
<circle cx="490.0" cy="351.5" r="1.5"/>
<circle cx="490.3" cy="352.8" r="1.5"/>
<circle cx="491.0" cy="355.6" r="1.5"/>
<circle cx="489.3" cy="357.2" r="1.5"/>
<circle cx="489.6" cy="359.6" r="1.5"/>
<circle cx="489.6" cy="362.5" r="1.5"/>
<circle cx="490.5" cy="364.2" r="1.5"/>
<circle cx="492.8" cy="346.3" r="1.5"/>
<circle cx="493.0" cy="349.5" r="1.5"/>
<circle cx="492.9" cy="351.9" r="1.5"/>
<circle cx="492.1" cy="353.9" r="1.5"/>
<circle cx="492.3" cy="356.2" r="1.5"/>
<circle cx="492.7" cy="357.3" r="1.5"/>
<circle cx="492.1" cy="360.6" r="1.5"/>
<circle cx="492.5" cy="361.4" r="1.5"/>
<circle cx="492.7" cy="363.7" r="1.5"/>
<circle cx="495.0" cy="348.2" r="1.5"/>
<circle cx="494.6" cy="354.7" r="1.5"/>
<circle cx="494.8" cy="357.8" r="1.5"/>
<circle cx="495.1" cy="359.5" r="1.5"/>
<circle cx="497.2" cy="348.9" r="1.5"/>
<circle cx="496.9" cy="351.0" r="1.5"/>
<circle cx="495.9" cy="354.0" r="1.5"/>
<circle cx="495.7" cy="355.9" r="1.5"/>
<circle cx="495.9" cy="357.7" r="1.5"/>
<circle cx="497.2" cy="360.6" r="1.5"/>
<circle cx="497.2" cy="362.8" r="1.5"/>
<circle cx="499.5" cy="347.7" r="1.5"/>
<circle cx="499.4" cy="351.5" r="1.5"/>
<circle cx="500.0" cy="352.8" r="1.5"/>
<circle cx="500.5" cy="356.4" r="1.5"/>
<circle cx="498.2" cy="358.4" r="1.5"/>
<circle cx="500.1" cy="360.4" r="1.5"/>
<circle cx="502.6" cy="346.7" r="1.5"/>
<circle cx="501.3" cy="348.9" r="1.5"/>
<circle cx="502.8" cy="350.9" r="1.5"/>
<circle cx="500.9" cy="354.3" r="1.5"/>
<circle cx="501.3" cy="357.3" r="1.5"/>
<circle cx="501.4" cy="358.8" r="1.5"/>
<circle cx="502.2" cy="363.2" r="1.5"/>
<circle cx="504.7" cy="348.7" r="1.5"/>
<circle cx="504.7" cy="351.6" r="1.5"/>
<circle cx="504.7" cy="355.0" r="1.5"/>
<circle cx="504.7" cy="355.7" r="1.5"/>
<circle cx="505.5" cy="359.8" r="1.5"/>
<circle cx="504.3" cy="361.7" r="1.5"/>
<circle cx="504.7" cy="364.2" r="1.5"/>
<circle cx="507.5" cy="347.1" r="1.5"/>
<circle cx="506.9" cy="349.0" r="1.5"/>
<circle cx="506.5" cy="352.4" r="1.5"/>
<circle cx="506.7" cy="354.3" r="1.5"/>
<circle cx="507.4" cy="357.1" r="1.5"/>
<circle cx="507.9" cy="359.2" r="1.5"/>
<circle cx="506.5" cy="362.6" r="1.5"/>
<circle cx="509.3" cy="346.1" r="1.5"/>
<circle cx="508.6" cy="350.0" r="1.5"/>
<circle cx="509.4" cy="351.4" r="1.5"/>
<circle cx="508.8" cy="354.6" r="1.5"/>
<circle cx="510.3" cy="358.3" r="1.5"/>
<circle cx="510.8" cy="358.7" r="1.5"/>
<circle cx="509.8" cy="362.4" r="1.5"/>
<circle cx="509.9" cy="364.8" r="1.5"/>
<circle cx="511.2" cy="347.6" r="1.5"/>
<circle cx="513.5" cy="350.3" r="1.5"/>
<circle cx="511.7" cy="353.3" r="1.5"/>
<circle cx="511.3" cy="356.0" r="1.5"/>
<circle cx="511.5" cy="358.5" r="1.5"/>
<circle cx="511.6" cy="359.5" r="1.5"/>
<circle cx="511.8" cy="363.0" r="1.5"/>
<circle cx="512.8" cy="365.6" r="1.5"/>
<circle cx="514.8" cy="347.2" r="1.5"/>
<circle cx="516.0" cy="347.9" r="1.5"/>
<circle cx="514.3" cy="352.4" r="1.5"/>
<circle cx="514.6" cy="354.4" r="1.5"/>
<circle cx="516.0" cy="357.3" r="1.5"/>
<circle cx="515.7" cy="359.4" r="1.5"/>
<circle cx="515.7" cy="361.1" r="1.5"/>
<circle cx="515.9" cy="363.6" r="1.5"/>
<circle cx="516.8" cy="347.5" r="1.5"/>
<circle cx="517.4" cy="349.1" r="1.5"/>
<circle cx="517.7" cy="353.3" r="1.5"/>
<circle cx="518.1" cy="354.3" r="1.5"/>
<circle cx="518.6" cy="358.8" r="1.5"/>
<circle cx="517.2" cy="361.5" r="1.5"/>
<circle cx="516.8" cy="362.7" r="1.5"/>
<circle cx="518.4" cy="364.6" r="1.5"/>
<circle cx="517.3" cy="367.0" r="1.5"/>
<circle cx="520.5" cy="347.2" r="1.5"/>
<circle cx="520.9" cy="351.4" r="1.5"/>
<circle cx="519.7" cy="352.6" r="1.5"/>
<circle cx="520.7" cy="357.0" r="1.5"/>
<circle cx="519.5" cy="358.2" r="1.5"/>
<circle cx="519.8" cy="362.3" r="1.5"/>
<circle cx="519.1" cy="362.6" r="1.5"/>
<circle cx="519.4" cy="366.3" r="1.5"/>
<circle cx="521.3" cy="367.9" r="1.5"/>
<circle cx="523.9" cy="348.8" r="1.5"/>
<circle cx="522.2" cy="351.9" r="1.5"/>
<circle cx="521.6" cy="354.7" r="1.5"/>
<circle cx="522.6" cy="355.6" r="1.5"/>
<circle cx="523.7" cy="358.7" r="1.5"/>
<circle cx="522.5" cy="360.9" r="1.5"/>
<circle cx="522.6" cy="363.3" r="1.5"/>
<circle cx="522.8" cy="366.4" r="1.5"/>
<circle cx="522.2" cy="368.0" r="1.5"/>
<circle cx="526.4" cy="347.0" r="1.5"/>
<circle cx="526.4" cy="351.4" r="1.5"/>
<circle cx="525.0" cy="354.1" r="1.5"/>
<circle cx="526.5" cy="356.5" r="1.5"/>
<circle cx="525.5" cy="359.1" r="1.5"/>
<circle cx="524.6" cy="360.0" r="1.5"/>
<circle cx="524.5" cy="363.9" r="1.5"/>
<circle cx="526.4" cy="365.3" r="1.5"/>
<circle cx="526.8" cy="347.9" r="1.5"/>
<circle cx="528.8" cy="350.3" r="1.5"/>
<circle cx="527.9" cy="354.4" r="1.5"/>
<circle cx="528.5" cy="356.0" r="1.5"/>
<circle cx="527.1" cy="358.9" r="1.5"/>
<circle cx="527.6" cy="361.6" r="1.5"/>
<circle cx="527.5" cy="364.2" r="1.5"/>
<circle cx="529.1" cy="365.7" r="1.5"/>
<circle cx="531.2" cy="348.2" r="1.5"/>
<circle cx="531.1" cy="352.1" r="1.5"/>
<circle cx="531.1" cy="355.1" r="1.5"/>
<circle cx="529.9" cy="357.4" r="1.5"/>
<circle cx="530.8" cy="358.5" r="1.5"/>
<circle cx="529.9" cy="360.9" r="1.5"/>
<circle cx="531.5" cy="364.0" r="1.5"/>
<circle cx="530.2" cy="366.1" r="1.5"/>
<circle cx="531.3" cy="369.7" r="1.5"/>
<circle cx="533.9" cy="347.9" r="1.5"/>
<circle cx="533.0" cy="349.7" r="1.5"/>
<circle cx="534.1" cy="351.9" r="1.5"/>
<circle cx="532.2" cy="356.0" r="1.5"/>
<circle cx="533.6" cy="358.8" r="1.5"/>
<circle cx="533.4" cy="361.6" r="1.5"/>
<circle cx="533.0" cy="362.0" r="1.5"/>
<circle cx="533.6" cy="365.0" r="1.5"/>
<circle cx="532.9" cy="367.9" r="1.5"/>
<circle cx="534.8" cy="348.5" r="1.5"/>
<circle cx="535.4" cy="350.7" r="1.5"/>
<circle cx="535.4" cy="351.9" r="1.5"/>
<circle cx="535.4" cy="354.7" r="1.5"/>
<circle cx="535.3" cy="358.4" r="1.5"/>
<circle cx="536.2" cy="359.8" r="1.5"/>
<circle cx="536.3" cy="363.4" r="1.5"/>
<circle cx="535.0" cy="366.0" r="1.5"/>
<circle cx="534.7" cy="368.7" r="1.5"/>
<circle cx="538.9" cy="348.6" r="1.5"/>
<circle cx="538.5" cy="350.4" r="1.5"/>
<circle cx="538.3" cy="352.6" r="1.5"/>
<circle cx="538.4" cy="357.3" r="1.5"/>
<circle cx="538.4" cy="359.4" r="1.5"/>
<circle cx="539.3" cy="361.6" r="1.5"/>
<circle cx="537.5" cy="365.2" r="1.5"/>
<circle cx="538.4" cy="366.5" r="1.5"/>
<circle cx="537.3" cy="369.8" r="1.5"/>
<circle cx="539.2" cy="371.9" r="1.5"/>
<circle cx="540.6" cy="348.5" r="1.5"/>
<circle cx="541.0" cy="352.0" r="1.5"/>
<circle cx="541.1" cy="353.5" r="1.5"/>
<circle cx="540.4" cy="356.2" r="1.5"/>
<circle cx="541.0" cy="360.6" r="1.5"/>
<circle cx="541.3" cy="362.9" r="1.5"/>
<circle cx="540.0" cy="363.6" r="1.5"/>
<circle cx="541.1" cy="366.7" r="1.5"/>
<circle cx="540.6" cy="370.4" r="1.5"/>
<circle cx="544.5" cy="346.0" r="1.5"/>
<circle cx="543.8" cy="347.8" r="1.5"/>
<circle cx="542.5" cy="351.9" r="1.5"/>
<circle cx="542.5" cy="354.4" r="1.5"/>
<circle cx="543.1" cy="356.2" r="1.5"/>
<circle cx="544.6" cy="360.1" r="1.5"/>
<circle cx="543.1" cy="361.6" r="1.5"/>
<circle cx="543.1" cy="363.6" r="1.5"/>
<circle cx="544.6" cy="367.4" r="1.5"/>
<circle cx="544.1" cy="369.5" r="1.5"/>
<circle cx="547.1" cy="347.7" r="1.5"/>
<circle cx="547.3" cy="348.6" r="1.5"/>
<circle cx="545.7" cy="352.7" r="1.5"/>
<circle cx="546.1" cy="354.6" r="1.5"/>
<circle cx="546.7" cy="356.4" r="1.5"/>
<circle cx="546.1" cy="358.7" r="1.5"/>
<circle cx="545.1" cy="363.3" r="1.5"/>
<circle cx="546.7" cy="365.1" r="1.5"/>
<circle cx="545.5" cy="367.0" r="1.5"/>
<circle cx="549.8" cy="347.4" r="1.5"/>
<circle cx="549.6" cy="350.8" r="1.5"/>
<circle cx="548.1" cy="353.9" r="1.5"/>
<circle cx="547.6" cy="354.9" r="1.5"/>
<circle cx="548.8" cy="359.1" r="1.5"/>
<circle cx="548.4" cy="359.8" r="1.5"/>
<circle cx="549.3" cy="363.7" r="1.5"/>
<circle cx="547.9" cy="366.3" r="1.5"/>
<circle cx="548.5" cy="368.3" r="1.5"/>
<circle cx="551.9" cy="348.3" r="1.5"/>
<circle cx="551.1" cy="350.3" r="1.5"/>
<circle cx="550.4" cy="353.8" r="1.5"/>
<circle cx="550.6" cy="356.5" r="1.5"/>
<circle cx="550.7" cy="359.0" r="1.5"/>
<circle cx="552.3" cy="361.5" r="1.5"/>
<circle cx="552.4" cy="363.7" r="1.5"/>
<circle cx="550.5" cy="367.2" r="1.5"/>
<circle cx="551.2" cy="369.7" r="1.5"/>
<circle cx="553.3" cy="348.1" r="1.5"/>
<circle cx="553.3" cy="349.5" r="1.5"/>
<circle cx="554.9" cy="352.9" r="1.5"/>
<circle cx="555.1" cy="355.0" r="1.5"/>
<circle cx="553.5" cy="358.2" r="1.5"/>
<circle cx="553.0" cy="361.0" r="1.5"/>
<circle cx="553.9" cy="363.0" r="1.5"/>
<circle cx="554.9" cy="365.2" r="1.5"/>
<circle cx="554.7" cy="368.5" r="1.5"/>
<circle cx="555.8" cy="347.1" r="1.5"/>
<circle cx="557.3" cy="349.0" r="1.5"/>
<circle cx="555.5" cy="351.7" r="1.5"/>
<circle cx="555.9" cy="353.4" r="1.5"/>
<circle cx="555.8" cy="357.3" r="1.5"/>
<circle cx="556.3" cy="360.3" r="1.5"/>
<circle cx="555.9" cy="362.5" r="1.5"/>
<circle cx="556.0" cy="364.3" r="1.5"/>
<circle cx="555.8" cy="368.0" r="1.5"/>
<circle cx="559.3" cy="348.2" r="1.5"/>
<circle cx="559.6" cy="349.4" r="1.5"/>
<circle cx="559.8" cy="353.0" r="1.5"/>
<circle cx="559.9" cy="354.7" r="1.5"/>
<circle cx="558.1" cy="358.5" r="1.5"/>
<circle cx="558.7" cy="361.9" r="1.5"/>
<circle cx="558.7" cy="363.3" r="1.5"/>
<circle cx="558.8" cy="366.1" r="1.5"/>
<circle cx="562.3" cy="351.7" r="1.5"/>
<circle cx="563.3" cy="353.9" r="1.5"/>
<circle cx="561.5" cy="358.4" r="1.5"/>
<circle cx="561.4" cy="360.3" r="1.5"/>
<circle cx="562.7" cy="362.4" r="1.5"/>
<circle cx="563.3" cy="365.9" r="1.5"/>
<circle cx="565.4" cy="349.7" r="1.5"/>
<circle cx="564.9" cy="353.5" r="1.5"/>
<circle cx="564.5" cy="356.3" r="1.5"/>
<circle cx="565.9" cy="358.6" r="1.5"/>
<circle cx="565.3" cy="360.6" r="1.5"/>
<circle cx="564.0" cy="363.8" r="1.5"/>
<circle cx="568.7" cy="349.1" r="1.5"/>
<circle cx="568.8" cy="353.3" r="1.5"/>
<circle cx="568.7" cy="356.2" r="1.5"/>
<circle cx="566.8" cy="357.5" r="1.5"/>
<circle cx="568.0" cy="360.0" r="1.5"/>
<circle cx="568.2" cy="363.9" r="1.5"/>
<circle cx="567.1" cy="365.2" r="1.5"/>
<circle cx="570.6" cy="352.2" r="1.5"/>
<circle cx="570.3" cy="353.7" r="1.5"/>
<circle cx="571.0" cy="356.7" r="1.5"/>
<circle cx="570.3" cy="358.5" r="1.5"/>
<circle cx="570.8" cy="362.6" r="1.5"/>
<circle cx="569.2" cy="364.0" r="1.5"/>
<circle cx="570.8" cy="366.3" r="1.5"/>
<circle cx="572.9" cy="350.0" r="1.5"/>
<circle cx="574.0" cy="353.5" r="1.5"/>
<circle cx="572.8" cy="356.3" r="1.5"/>
<circle cx="573.6" cy="358.8" r="1.5"/>
<circle cx="573.4" cy="361.7" r="1.5"/>
<circle cx="572.9" cy="363.4" r="1.5"/>
<circle cx="572.1" cy="366.9" r="1.5"/>
<circle cx="574.8" cy="349.1" r="1.5"/>
<circle cx="575.9" cy="352.3" r="1.5"/>
<circle cx="575.3" cy="353.9" r="1.5"/>
<circle cx="574.8" cy="357.4" r="1.5"/>
<circle cx="576.0" cy="360.7" r="1.5"/>
<circle cx="575.6" cy="362.0" r="1.5"/>
<circle cx="576.3" cy="365.3" r="1.5"/>
<circle cx="576.1" cy="366.6" r="1.5"/>
<circle cx="578.0" cy="348.5" r="1.5"/>
<circle cx="577.2" cy="349.6" r="1.5"/>
<circle cx="577.1" cy="352.4" r="1.5"/>
<circle cx="577.3" cy="356.8" r="1.5"/>
<circle cx="578.3" cy="357.6" r="1.5"/>
<circle cx="579.4" cy="361.0" r="1.5"/>
<circle cx="578.7" cy="364.2" r="1.5"/>
<circle cx="577.9" cy="367.2" r="1.5"/>
<circle cx="579.3" cy="368.8" r="1.5"/>
<circle cx="580.7" cy="347.7" r="1.5"/>
<circle cx="580.8" cy="348.6" r="1.5"/>
<circle cx="579.7" cy="352.5" r="1.5"/>
<circle cx="580.0" cy="355.4" r="1.5"/>
<circle cx="581.1" cy="356.7" r="1.5"/>
<circle cx="579.8" cy="360.4" r="1.5"/>
<circle cx="580.0" cy="363.7" r="1.5"/>
<circle cx="580.9" cy="364.8" r="1.5"/>
<circle cx="581.6" cy="368.1" r="1.5"/>
<circle cx="584.1" cy="347.6" r="1.5"/>
<circle cx="582.4" cy="349.5" r="1.5"/>
<circle cx="584.6" cy="353.2" r="1.5"/>
<circle cx="582.3" cy="354.7" r="1.5"/>
<circle cx="582.5" cy="357.6" r="1.5"/>
<circle cx="583.8" cy="361.8" r="1.5"/>
<circle cx="583.6" cy="363.4" r="1.5"/>
<circle cx="584.4" cy="365.1" r="1.5"/>
<circle cx="586.3" cy="349.1" r="1.5"/>
<circle cx="585.1" cy="352.9" r="1.5"/>
<circle cx="585.3" cy="354.1" r="1.5"/>
<circle cx="586.4" cy="356.5" r="1.5"/>
<circle cx="585.1" cy="359.2" r="1.5"/>
<circle cx="585.8" cy="363.0" r="1.5"/>
<circle cx="586.2" cy="365.9" r="1.5"/>
<circle cx="585.2" cy="368.3" r="1.5"/>
<circle cx="589.8" cy="348.1" r="1.5"/>
<circle cx="587.7" cy="351.8" r="1.5"/>
<circle cx="588.5" cy="354.1" r="1.5"/>
<circle cx="587.7" cy="357.5" r="1.5"/>
<circle cx="588.4" cy="360.1" r="1.5"/>
<circle cx="587.5" cy="361.1" r="1.5"/>
<circle cx="588.6" cy="363.9" r="1.5"/>
<circle cx="588.0" cy="368.0" r="1.5"/>
<circle cx="592.0" cy="347.7" r="1.5"/>
<circle cx="590.4" cy="350.4" r="1.5"/>
<circle cx="591.9" cy="353.1" r="1.5"/>
<circle cx="591.3" cy="354.1" r="1.5"/>
<circle cx="592.1" cy="358.9" r="1.5"/>
<circle cx="590.3" cy="359.3" r="1.5"/>
<circle cx="591.1" cy="363.6" r="1.5"/>
<circle cx="591.2" cy="366.4" r="1.5"/>
<circle cx="594.2" cy="347.3" r="1.5"/>
<circle cx="593.2" cy="351.2" r="1.5"/>
<circle cx="593.3" cy="353.6" r="1.5"/>
<circle cx="593.9" cy="356.0" r="1.5"/>
<circle cx="594.6" cy="358.9" r="1.5"/>
<circle cx="594.7" cy="360.3" r="1.5"/>
<circle cx="594.7" cy="364.1" r="1.5"/>
<circle cx="594.2" cy="365.2" r="1.5"/>
<circle cx="596.0" cy="347.7" r="1.5"/>
<circle cx="596.9" cy="349.3" r="1.5"/>
<circle cx="597.5" cy="353.4" r="1.5"/>
<circle cx="596.9" cy="355.6" r="1.5"/>
<circle cx="596.7" cy="357.0" r="1.5"/>
<circle cx="597.2" cy="360.5" r="1.5"/>
<circle cx="597.4" cy="362.3" r="1.5"/>
<circle cx="597.5" cy="365.7" r="1.5"/>
<circle cx="599.9" cy="348.1" r="1.5"/>
<circle cx="600.2" cy="350.0" r="1.5"/>
<circle cx="598.1" cy="351.8" r="1.5"/>
<circle cx="598.4" cy="354.2" r="1.5"/>
<circle cx="598.8" cy="357.8" r="1.5"/>
<circle cx="600.3" cy="359.3" r="1.5"/>
<circle cx="600.2" cy="363.0" r="1.5"/>
<circle cx="601.3" cy="348.9" r="1.5"/>
<circle cx="602.6" cy="349.4" r="1.5"/>
<circle cx="602.5" cy="352.9" r="1.5"/>
<circle cx="602.8" cy="354.7" r="1.5"/>
<circle cx="602.5" cy="358.4" r="1.5"/>
<circle cx="601.2" cy="361.0" r="1.5"/>
<circle cx="602.5" cy="363.4" r="1.5"/>
<circle cx="604.1" cy="346.6" r="1.5"/>
<circle cx="603.6" cy="349.0" r="1.5"/>
<circle cx="603.5" cy="352.4" r="1.5"/>
<circle cx="603.7" cy="355.7" r="1.5"/>
<circle cx="603.4" cy="357.2" r="1.5"/>
<circle cx="605.4" cy="360.5" r="1.5"/>
<circle cx="603.6" cy="363.7" r="1.5"/>
<circle cx="603.2" cy="365.1" r="1.5"/>
<circle cx="607.9" cy="347.2" r="1.5"/>
<circle cx="607.9" cy="350.9" r="1.5"/>
<circle cx="605.9" cy="351.5" r="1.5"/>
<circle cx="607.7" cy="354.6" r="1.5"/>
<circle cx="606.9" cy="358.0" r="1.5"/>
<circle cx="606.8" cy="361.1" r="1.5"/>
<circle cx="605.8" cy="362.3" r="1.5"/>
<circle cx="605.9" cy="364.9" r="1.5"/>
<circle cx="608.9" cy="348.0" r="1.5"/>
<circle cx="608.8" cy="350.6" r="1.5"/>
<circle cx="609.6" cy="353.7" r="1.5"/>
<circle cx="608.6" cy="355.3" r="1.5"/>
<circle cx="610.5" cy="357.9" r="1.5"/>
<circle cx="609.4" cy="361.5" r="1.5"/>
<circle cx="613.1" cy="349.9" r="1.5"/>
<circle cx="612.4" cy="352.3" r="1.5"/>
<circle cx="611.8" cy="354.1" r="1.5"/>
<circle cx="612.8" cy="355.9" r="1.5"/>
<circle cx="612.6" cy="359.1" r="1.5"/>
<circle cx="611.1" cy="361.5" r="1.5"/>
<circle cx="614.6" cy="349.2" r="1.5"/>
<circle cx="615.7" cy="352.7" r="1.5"/>
<circle cx="613.9" cy="353.9" r="1.5"/>
<circle cx="614.7" cy="357.7" r="1.5"/>
<circle cx="615.2" cy="359.8" r="1.5"/>
<circle cx="618.2" cy="349.9" r="1.5"/>
<circle cx="616.7" cy="352.3" r="1.5"/>
<circle cx="617.8" cy="354.4" r="1.5"/>
<circle cx="618.5" cy="356.0" r="1.5"/>
<circle cx="617.2" cy="359.2" r="1.5"/>
<circle cx="619.4" cy="350.6" r="1.5"/>
<circle cx="619.6" cy="352.4" r="1.5"/>
<circle cx="619.7" cy="354.8" r="1.5"/>
<circle cx="620.9" cy="357.9" r="1.5"/>
<circle cx="619.9" cy="361.0" r="1.5"/>
<circle cx="622.2" cy="348.4" r="1.5"/>
<circle cx="622.6" cy="349.4" r="1.5"/>
<circle cx="621.6" cy="351.9" r="1.5"/>
<circle cx="622.8" cy="355.4" r="1.5"/>
<circle cx="622.1" cy="357.8" r="1.5"/>
<circle cx="625.9" cy="348.6" r="1.5"/>
<circle cx="624.6" cy="352.8" r="1.5"/>
<circle cx="624.3" cy="355.3" r="1.5"/>
<circle cx="624.7" cy="356.5" r="1.5"/>
<circle cx="624.4" cy="358.5" r="1.5"/>
</g><g fill="#f00">
<circle cx="108.8" cy="74.3" r="3.2"/>
<circle cx="141.9" cy="67.8" r="3.2"/>
<circle cx="201.8" cy="78.3" r="3.2"/>
<circle cx="207.9" cy="83.5" r="3.2"/>
<circle cx="210.7" cy="87.7" r="3.2"/>
<circle cx="203.7" cy="90.5" r="3.2"/>
<circle cx="236.1" cy="91.9" r="3.2"/>
<circle cx="247.8" cy="90.1" r="3.2"/>
<circle cx="259.1" cy="68.9" r="3.2"/>
<circle cx="262.8" cy="92.4" r="3.2"/>
<circle cx="278.6" cy="68.3" r="3.2"/>
<circle cx="279.1" cy="73.1" r="3.2"/>
<circle cx="281.0" cy="76.9" r="3.2"/>
<circle cx="287.5" cy="74.8" r="3.2"/>
<circle cx="290.3" cy="73.6" r="3.2"/>
<circle cx="274.4" cy="81.8" r="3.2"/>
<circle cx="294.1" cy="83.0" r="3.2"/>
<circle cx="297.4" cy="84.0" r="3.2"/>
<circle cx="305.4" cy="88.9" r="3.2"/>
<circle cx="267.8" cy="87.2" r="3.2"/>
<circle cx="267.3" cy="91.0" r="3.2"/>
<circle cx="274.4" cy="91.5" r="3.2"/>
<circle cx="281.0" cy="91.5" r="3.2"/>
<circle cx="122.4" cy="99.1" r="3.2"/>
<circle cx="126.6" cy="124.5" r="3.2"/>
<circle cx="179.5" cy="98.2" r="3.2"/>
<circle cx="195.0" cy="95.8" r="3.2"/>
<circle cx="172.9" cy="110.8" r="3.2"/>
<circle cx="148.5" cy="113.2" r="3.2"/>
<circle cx="151.3" cy="116.5" r="3.2"/>
<circle cx="168.7" cy="120.2" r="3.2"/>
<circle cx="188.4" cy="123.5" r="3.2"/>
<circle cx="196.8" cy="121.2" r="3.2"/>
<circle cx="159.8" cy="126.3" r="3.2"/>
<circle cx="181.8" cy="125.9" r="3.2"/>
<circle cx="227.6" cy="97.2" r="3.2"/>
<circle cx="236.1" cy="93.9" r="3.2"/>
<circle cx="262.8" cy="94.4" r="3.2"/>
<circle cx="201.8" cy="106.6" r="3.2"/>
<circle cx="212.6" cy="109.4" r="3.2"/>
<circle cx="216.8" cy="104.7" r="3.2"/>
<circle cx="234.2" cy="106.1" r="3.2"/>
<circle cx="231.4" cy="109.4" r="3.2"/>
<circle cx="228.1" cy="111.3" r="3.2"/>
<circle cx="234.7" cy="114.1" r="3.2"/>
<circle cx="245.0" cy="103.3" r="3.2"/>
<circle cx="247.8" cy="101.5" r="3.2"/>
<circle cx="251.6" cy="100.0" r="3.2"/>
<circle cx="255.3" cy="100.0" r="3.2"/>
<circle cx="259.1" cy="103.3" r="3.2"/>
<circle cx="261.9" cy="104.3" r="3.2"/>
<circle cx="244.1" cy="108.5" r="3.2"/>
<circle cx="246.9" cy="109.9" r="3.2"/>
<circle cx="252.5" cy="109.4" r="3.2"/>
<circle cx="256.3" cy="111.8" r="3.2"/>
<circle cx="257.7" cy="115.1" r="3.2"/>
<circle cx="252.0" cy="120.2" r="3.2"/>
<circle cx="245.5" cy="117.9" r="3.2"/>
<circle cx="240.3" cy="117.4" r="3.2"/>
<circle cx="237.5" cy="123.1" r="3.2"/>
<circle cx="231.9" cy="121.2" r="3.2"/>
<circle cx="229.5" cy="123.1" r="3.2"/>
<circle cx="224.3" cy="124.9" r="3.2"/>
<circle cx="219.7" cy="126.3" r="3.2"/>
<circle cx="223.4" cy="119.3" r="3.2"/>
<circle cx="214.5" cy="117.4" r="3.2"/>
<circle cx="215.0" cy="121.2" r="3.2"/>
<circle cx="208.4" cy="118.4" r="3.2"/>
<circle cx="203.7" cy="123.1" r="3.2"/>
<circle cx="210.3" cy="126.3" r="3.2"/>
<circle cx="262.8" cy="120.2" r="3.2"/>
<circle cx="272.0" cy="110.4" r="3.2"/>
<circle cx="159.0" cy="128.5" r="3.2"/>
<circle cx="170.3" cy="132.6" r="3.2"/>
<circle cx="173.1" cy="134.5" r="3.2"/>
<circle cx="179.7" cy="130.8" r="3.2"/>
<circle cx="188.1" cy="128.9" r="3.2"/>
<circle cx="198.4" cy="132.6" r="3.2"/>
<circle cx="150.9" cy="148.6" r="3.2"/>
<circle cx="196.6" cy="150.1" r="3.2"/>
<circle cx="199.9" cy="132.6" r="3.2"/>
<circle cx="212.5" cy="133.0" r="3.2"/>
<circle cx="219.3" cy="141.6" r="3.2"/>
<circle cx="223.4" cy="133.6" r="3.2"/>
<circle cx="226.2" cy="131.7" r="3.2"/>
<circle cx="234.3" cy="136.0" r="3.2"/>
<circle cx="236.6" cy="138.6" r="3.2"/>
<circle cx="241.8" cy="137.9" r="3.2"/>
<circle cx="267.9" cy="153.8" r="3.2"/>
<circle cx="261.0" cy="162.3" r="3.2"/>
<circle cx="551.0" cy="54.9" r="3.2"/>
<circle cx="482.9" cy="75.7" r="3.2"/>
<circle cx="487.1" cy="82.8" r="3.2"/>
<circle cx="544.7" cy="73.4" r="3.2"/>
<circle cx="540.0" cy="83.7" r="3.2"/>
<circle cx="562.3" cy="66.3" r="3.2"/>
<circle cx="586.3" cy="66.3" r="3.2"/>
<circle cx="604.1" cy="83.7" r="3.2"/>
<circle cx="586.3" cy="87.0" r="3.2"/>
<circle cx="592.9" cy="88.0" r="3.2"/>
<circle cx="564.2" cy="90.8" r="3.2"/>
<circle cx="570.8" cy="92.6" r="3.2"/>
<circle cx="592.9" cy="93.6" r="3.2"/>
<circle cx="599.4" cy="94.5" r="3.2"/>
<circle cx="583.9" cy="95.5" r="3.2"/>
<circle cx="617.3" cy="91.2" r="3.2"/>
<circle cx="616.3" cy="95.0" r="3.2"/>
<circle cx="623.8" cy="96.9" r="3.2"/>
<circle cx="639.6" cy="88.0" r="3.2"/>
<circle cx="655.1" cy="95.5" r="3.2"/>
<circle cx="648.1" cy="97.3" r="3.2"/>
<circle cx="509.0" cy="103.2" r="3.2"/>
<circle cx="512.3" cy="106.5" r="3.2"/>
<circle cx="511.4" cy="108.3" r="3.2"/>
<circle cx="520.3" cy="105.5" r="3.2"/>
<circle cx="528.7" cy="108.8" r="3.2"/>
<circle cx="540.0" cy="116.8" r="3.2"/>
<circle cx="531.6" cy="121.0" r="3.2"/>
<circle cx="534.4" cy="122.4" r="3.2"/>
<circle cx="548.9" cy="109.7" r="3.2"/>
<circle cx="551.3" cy="113.5" r="3.2"/>
<circle cx="555.0" cy="116.3" r="3.2"/>
<circle cx="557.8" cy="127.6" r="3.2"/>
<circle cx="559.2" cy="116.8" r="3.2"/>
<circle cx="569.4" cy="99.4" r="3.2"/>
<circle cx="571.3" cy="103.2" r="3.2"/>
<circle cx="577.8" cy="101.8" r="3.2"/>
<circle cx="588.2" cy="100.8" r="3.2"/>
<circle cx="595.2" cy="103.6" r="3.2"/>
<circle cx="606.9" cy="101.8" r="3.2"/>
<circle cx="609.8" cy="100.8" r="3.2"/>
<circle cx="621.0" cy="101.8" r="3.2"/>
<circle cx="606.5" cy="108.3" r="3.2"/>
<circle cx="614.5" cy="106.9" r="3.2"/>
<circle cx="620.1" cy="111.1" r="3.2"/>
<circle cx="574.1" cy="108.3" r="3.2"/>
<circle cx="575.0" cy="112.1" r="3.2"/>
<circle cx="587.2" cy="112.1" r="3.2"/>
<circle cx="595.2" cy="112.1" r="3.2"/>
<circle cx="596.1" cy="116.8" r="3.2"/>
<circle cx="599.4" cy="120.5" r="3.2"/>
<circle cx="600.4" cy="124.3" r="3.2"/>
<circle cx="604.1" cy="115.4" r="3.2"/>
<circle cx="610.7" cy="115.4" r="3.2"/>
<circle cx="612.6" cy="119.1" r="3.2"/>
<circle cx="561.9" cy="116.8" r="3.2"/>
<circle cx="569.4" cy="116.3" r="3.2"/>
<circle cx="574.1" cy="118.2" r="3.2"/>
<circle cx="579.7" cy="128.5" r="3.2"/>
<circle cx="592.9" cy="126.6" r="3.2"/>
<circle cx="606.9" cy="130.9" r="3.2"/>
<circle cx="560.5" cy="129.0" r="3.2"/>
<circle cx="627.9" cy="102.7" r="3.2"/>
<circle cx="635.4" cy="101.8" r="3.2"/>
<circle cx="640.1" cy="105.0" r="3.2"/>
<circle cx="638.2" cy="107.4" r="3.2"/>
<circle cx="633.0" cy="113.0" r="3.2"/>
<circle cx="635.4" cy="116.8" r="3.2"/>
<circle cx="665.9" cy="111.9" r="3.2"/>
<circle cx="634.9" cy="129.0" r="3.2"/>
<circle cx="586.3" cy="136.0" r="3.2"/>
<circle cx="612.6" cy="138.4" r="3.2"/>
<circle cx="622.0" cy="158.2" r="3.2"/>
<circle cx="579.7" cy="132.3" r="3.2"/>
<circle cx="126.1" cy="328.3" r="3.2"/>
<circle cx="179.5" cy="322.2" r="3.2"/>
<circle cx="184.2" cy="326.9" r="3.2"/>
<circle cx="201.8" cy="320.8" r="3.2"/>
<circle cx="261.0" cy="317.5" r="3.2"/>
<circle cx="121.9" cy="337.0" r="3.2"/>
<circle cx="150.8" cy="330.9" r="3.2"/>
<circle cx="150.8" cy="343.1" r="3.2"/>
<circle cx="149.0" cy="351.5" r="3.2"/>
<circle cx="168.7" cy="360.9" r="3.2"/>
<circle cx="190.3" cy="343.1" r="3.2"/>
<circle cx="189.3" cy="356.2" r="3.2"/>
<circle cx="191.7" cy="357.2" r="3.2"/>
<circle cx="188.4" cy="360.0" r="3.2"/>
<circle cx="198.7" cy="336.5" r="3.2"/>
<circle cx="204.6" cy="337.5" r="3.2"/>
<circle cx="208.4" cy="341.2" r="3.2"/>
<circle cx="210.3" cy="349.7" r="3.2"/>
<circle cx="216.8" cy="350.6" r="3.2"/>
<circle cx="210.3" cy="356.2" r="3.2"/>
<circle cx="215.0" cy="358.1" r="3.2"/>
<circle cx="212.1" cy="360.0" r="3.2"/>
<circle cx="227.2" cy="354.4" r="3.2"/>
<circle cx="224.3" cy="360.0" r="3.2"/>
<circle cx="230.0" cy="359.1" r="3.2"/>
<circle cx="234.7" cy="353.0" r="3.2"/>
<circle cx="233.7" cy="360.0" r="3.2"/>
<circle cx="232.3" cy="344.5" r="3.2"/>
<circle cx="232.3" cy="336.5" r="3.2"/>
<circle cx="237.0" cy="333.7" r="3.2"/>
<circle cx="239.4" cy="342.1" r="3.2"/>
<circle cx="241.7" cy="346.8" r="3.2"/>
<circle cx="247.8" cy="349.7" r="3.2"/>
<circle cx="245.9" cy="355.3" r="3.2"/>
<circle cx="245.0" cy="360.0" r="3.2"/>
<circle cx="251.6" cy="357.2" r="3.2"/>
<circle cx="255.3" cy="351.5" r="3.2"/>
<circle cx="260.0" cy="347.8" r="3.2"/>
<circle cx="263.8" cy="347.8" r="3.2"/>
<circle cx="262.8" cy="353.4" r="3.2"/>
<circle cx="259.1" cy="358.1" r="3.2"/>
<circle cx="263.8" cy="360.0" r="3.2"/>
<circle cx="255.3" cy="360.9" r="3.2"/>
<circle cx="279.1" cy="337.0" r="3.2"/>
<circle cx="289.9" cy="345.9" r="3.2"/>
<circle cx="293.2" cy="345.9" r="3.2"/>
<circle cx="295.0" cy="348.3" r="3.2"/>
<circle cx="296.9" cy="350.6" r="3.2"/>
<circle cx="274.4" cy="351.1" r="3.2"/>
<circle cx="279.1" cy="355.3" r="3.2"/>
<circle cx="275.3" cy="357.2" r="3.2"/>
<circle cx="266.9" cy="350.6" r="3.2"/>
<circle cx="281.0" cy="360.9" r="3.2"/>
<circle cx="170.3" cy="364.5" r="3.2"/>
<circle cx="179.7" cy="373.3" r="3.2"/>
<circle cx="183.4" cy="367.7" r="3.2"/>
<circle cx="185.3" cy="364.9" r="3.2"/>
<circle cx="194.7" cy="370.5" r="3.2"/>
<circle cx="195.6" cy="374.3" r="3.2"/>
<circle cx="201.8" cy="367.6" r="3.2"/>
<circle cx="204.6" cy="369.4" r="3.2"/>
<circle cx="207.4" cy="365.7" r="3.2"/>
<circle cx="212.6" cy="369.0" r="3.2"/>
<circle cx="219.2" cy="374.1" r="3.2"/>
<circle cx="219.2" cy="378.8" r="3.2"/>
<circle cx="225.8" cy="372.2" r="3.2"/>
<circle cx="231.9" cy="368.5" r="3.2"/>
<circle cx="234.7" cy="366.6" r="3.2"/>
<circle cx="239.4" cy="365.7" r="3.2"/>
<circle cx="236.6" cy="374.6" r="3.2"/>
<circle cx="245.0" cy="370.4" r="3.2"/>
<circle cx="249.7" cy="370.4" r="3.2"/>
<circle cx="252.5" cy="375.5" r="3.2"/>
<circle cx="258.1" cy="363.8" r="3.2"/>
<circle cx="305.1" cy="366.8" r="3.2"/>
<circle cx="272.2" cy="366.4" r="3.2"/>
<circle cx="261.0" cy="387.0" r="3.2"/>
<circle cx="210.3" cy="396.2" r="3.2"/>
<circle cx="219.1" cy="409.4" r="3.2"/>
<circle cx="540.0" cy="341.1" r="3.2"/>
<circle cx="555.5" cy="333.6" r="3.2"/>
<circle cx="621.5" cy="339.7" r="3.2"/>
<circle cx="482.9" cy="351.6" r="3.2"/>
<circle cx="511.4" cy="365.7" r="3.2"/>
<circle cx="509.0" cy="374.6" r="3.2"/>
<circle cx="520.3" cy="375.1" r="3.2"/>
<circle cx="542.3" cy="376.5" r="3.2"/>
<circle cx="548.9" cy="364.8" r="3.2"/>
<circle cx="558.8" cy="373.2" r="3.2"/>
<circle cx="559.7" cy="347.4" r="3.2"/>
<circle cx="608.3" cy="346.9" r="3.2"/>
<circle cx="601.8" cy="356.8" r="3.2"/>
<circle cx="608.8" cy="360.6" r="3.2"/>
<circle cx="604.1" cy="362.9" r="3.2"/>
<circle cx="572.2" cy="363.4" r="3.2"/>
<circle cx="574.1" cy="365.7" r="3.2"/>
<circle cx="577.8" cy="368.5" r="3.2"/>
<circle cx="589.1" cy="363.8" r="3.2"/>
<circle cx="592.9" cy="366.7" r="3.2"/>
<circle cx="595.7" cy="370.0" r="3.2"/>
<circle cx="599.4" cy="369.5" r="3.2"/>
<circle cx="604.1" cy="369.0" r="3.2"/>
<circle cx="608.8" cy="367.6" r="3.2"/>
<circle cx="612.6" cy="366.7" r="3.2"/>
<circle cx="617.3" cy="368.5" r="3.2"/>
<circle cx="621.0" cy="366.7" r="3.2"/>
<circle cx="623.8" cy="363.8" r="3.2"/>
<circle cx="602.2" cy="375.1" r="3.2"/>
<circle cx="612.6" cy="375.1" r="3.2"/>
<circle cx="616.3" cy="374.2" r="3.2"/>
<circle cx="623.8" cy="377.0" r="3.2"/>
<circle cx="586.3" cy="375.6" r="3.2"/>
<circle cx="569.4" cy="376.1" r="3.2"/>
<circle cx="573.1" cy="374.2" r="3.2"/>
<circle cx="560.9" cy="372.8" r="3.2"/>
<circle cx="639.6" cy="355.4" r="3.2"/>
<circle cx="635.4" cy="358.7" r="3.2"/>
<circle cx="640.1" cy="359.1" r="3.2"/>
<circle cx="650.4" cy="359.1" r="3.2"/>
<circle cx="637.3" cy="366.7" r="3.2"/>
<circle cx="632.6" cy="370.4" r="3.2"/>
<circle cx="634.9" cy="375.6" r="3.2"/>
<circle cx="654.6" cy="368.5" r="3.2"/>
<circle cx="665.9" cy="370.9" r="3.2"/>
<circle cx="540.1" cy="382.0" r="3.2"/>
<circle cx="582.2" cy="382.6" r="3.2"/>
<circle cx="613.1" cy="380.1" r="3.2"/>
</g>
<g stroke="#000" stroke-linecap="butt">
<rect x="67.10" y="0.50" width="264.40" height="186.90" fill="none" stroke="#000" stroke-width="1.1"/>
<line x1="78.12" y1="187.40" x2="78.12" y2="185.50" stroke-width="1.1"/>
<line x1="78.12" y1="0.50" x2="78.12" y2="2.40" stroke-width="1.1"/>
<line x1="89.13" y1="187.40" x2="89.13" y2="185.50" stroke-width="1.1"/>
<line x1="89.13" y1="0.50" x2="89.13" y2="2.40" stroke-width="1.1"/>
<line x1="100.15" y1="187.40" x2="100.15" y2="185.50" stroke-width="1.1"/>
<line x1="100.15" y1="0.50" x2="100.15" y2="2.40" stroke-width="1.1"/>
<line x1="111.17" y1="187.40" x2="111.17" y2="183.80" stroke-width="1.1"/>
<line x1="111.17" y1="0.50" x2="111.17" y2="4.10" stroke-width="1.1"/>
<line x1="122.18" y1="187.40" x2="122.18" y2="185.50" stroke-width="1.1"/>
<line x1="122.18" y1="0.50" x2="122.18" y2="2.40" stroke-width="1.1"/>
<line x1="133.20" y1="187.40" x2="133.20" y2="185.50" stroke-width="1.1"/>
<line x1="133.20" y1="0.50" x2="133.20" y2="2.40" stroke-width="1.1"/>
<line x1="144.22" y1="187.40" x2="144.22" y2="185.50" stroke-width="1.1"/>
<line x1="144.22" y1="0.50" x2="144.22" y2="2.40" stroke-width="1.1"/>
<line x1="155.23" y1="187.40" x2="155.23" y2="183.80" stroke-width="1.1"/>
<line x1="155.23" y1="0.50" x2="155.23" y2="4.10" stroke-width="1.1"/>
<line x1="166.25" y1="187.40" x2="166.25" y2="185.50" stroke-width="1.1"/>
<line x1="166.25" y1="0.50" x2="166.25" y2="2.40" stroke-width="1.1"/>
<line x1="177.27" y1="187.40" x2="177.27" y2="185.50" stroke-width="1.1"/>
<line x1="177.27" y1="0.50" x2="177.27" y2="2.40" stroke-width="1.1"/>
<line x1="188.28" y1="187.40" x2="188.28" y2="185.50" stroke-width="1.1"/>
<line x1="188.28" y1="0.50" x2="188.28" y2="2.40" stroke-width="1.1"/>
<line x1="199.30" y1="187.40" x2="199.30" y2="183.80" stroke-width="1.1"/>
<line x1="199.30" y1="0.50" x2="199.30" y2="4.10" stroke-width="1.1"/>
<line x1="210.32" y1="187.40" x2="210.32" y2="185.50" stroke-width="1.1"/>
<line x1="210.32" y1="0.50" x2="210.32" y2="2.40" stroke-width="1.1"/>
<line x1="221.33" y1="187.40" x2="221.33" y2="185.50" stroke-width="1.1"/>
<line x1="221.33" y1="0.50" x2="221.33" y2="2.40" stroke-width="1.1"/>
<line x1="232.35" y1="187.40" x2="232.35" y2="185.50" stroke-width="1.1"/>
<line x1="232.35" y1="0.50" x2="232.35" y2="2.40" stroke-width="1.1"/>
<line x1="243.37" y1="187.40" x2="243.37" y2="183.80" stroke-width="1.1"/>
<line x1="243.37" y1="0.50" x2="243.37" y2="4.10" stroke-width="1.1"/>
<line x1="254.38" y1="187.40" x2="254.38" y2="185.50" stroke-width="1.1"/>
<line x1="254.38" y1="0.50" x2="254.38" y2="2.40" stroke-width="1.1"/>
<line x1="265.40" y1="187.40" x2="265.40" y2="185.50" stroke-width="1.1"/>
<line x1="265.40" y1="0.50" x2="265.40" y2="2.40" stroke-width="1.1"/>
<line x1="276.42" y1="187.40" x2="276.42" y2="185.50" stroke-width="1.1"/>
<line x1="276.42" y1="0.50" x2="276.42" y2="2.40" stroke-width="1.1"/>
<line x1="287.43" y1="187.40" x2="287.43" y2="183.80" stroke-width="1.1"/>
<line x1="287.43" y1="0.50" x2="287.43" y2="4.10" stroke-width="1.1"/>
<line x1="298.45" y1="187.40" x2="298.45" y2="185.50" stroke-width="1.1"/>
<line x1="298.45" y1="0.50" x2="298.45" y2="2.40" stroke-width="1.1"/>
<line x1="309.47" y1="187.40" x2="309.47" y2="185.50" stroke-width="1.1"/>
<line x1="309.47" y1="0.50" x2="309.47" y2="2.40" stroke-width="1.1"/>
<line x1="320.48" y1="187.40" x2="320.48" y2="185.50" stroke-width="1.1"/>
<line x1="320.48" y1="0.50" x2="320.48" y2="2.40" stroke-width="1.1"/>
<line x1="67.10" y1="178.06" x2="69.70" y2="178.06" stroke-width="1.1"/>
<line x1="331.50" y1="178.06" x2="328.90" y2="178.06" stroke-width="1.1"/>
<line x1="67.10" y1="168.71" x2="69.70" y2="168.71" stroke-width="1.1"/>
<line x1="331.50" y1="168.71" x2="328.90" y2="168.71" stroke-width="1.1"/>
<line x1="67.10" y1="159.37" x2="69.70" y2="159.37" stroke-width="1.1"/>
<line x1="331.50" y1="159.37" x2="328.90" y2="159.37" stroke-width="1.1"/>
<line x1="67.10" y1="150.02" x2="72.30" y2="150.02" stroke-width="1.1"/>
<line x1="331.50" y1="150.02" x2="326.30" y2="150.02" stroke-width="1.1"/>
<line x1="67.10" y1="140.68" x2="69.70" y2="140.68" stroke-width="1.1"/>
<line x1="331.50" y1="140.68" x2="328.90" y2="140.68" stroke-width="1.1"/>
<line x1="67.10" y1="131.33" x2="69.70" y2="131.33" stroke-width="1.1"/>
<line x1="331.50" y1="131.33" x2="328.90" y2="131.33" stroke-width="1.1"/>
<line x1="67.10" y1="121.99" x2="69.70" y2="121.99" stroke-width="1.1"/>
<line x1="331.50" y1="121.99" x2="328.90" y2="121.99" stroke-width="1.1"/>
<line x1="67.10" y1="112.64" x2="72.30" y2="112.64" stroke-width="1.1"/>
<line x1="331.50" y1="112.64" x2="326.30" y2="112.64" stroke-width="1.1"/>
<line x1="67.10" y1="103.30" x2="69.70" y2="103.30" stroke-width="1.1"/>
<line x1="331.50" y1="103.30" x2="328.90" y2="103.30" stroke-width="1.1"/>
<line x1="67.10" y1="93.95" x2="69.70" y2="93.95" stroke-width="1.1"/>
<line x1="331.50" y1="93.95" x2="328.90" y2="93.95" stroke-width="1.1"/>
<line x1="67.10" y1="84.61" x2="69.70" y2="84.61" stroke-width="1.1"/>
<line x1="331.50" y1="84.61" x2="328.90" y2="84.61" stroke-width="1.1"/>
<line x1="67.10" y1="75.26" x2="72.30" y2="75.26" stroke-width="1.1"/>
<line x1="331.50" y1="75.26" x2="326.30" y2="75.26" stroke-width="1.1"/>
<line x1="67.10" y1="65.91" x2="69.70" y2="65.91" stroke-width="1.1"/>
<line x1="331.50" y1="65.91" x2="328.90" y2="65.91" stroke-width="1.1"/>
<line x1="67.10" y1="56.57" x2="69.70" y2="56.57" stroke-width="1.1"/>
<line x1="331.50" y1="56.57" x2="328.90" y2="56.57" stroke-width="1.1"/>
<line x1="67.10" y1="47.22" x2="69.70" y2="47.22" stroke-width="1.1"/>
<line x1="331.50" y1="47.22" x2="328.90" y2="47.22" stroke-width="1.1"/>
<line x1="67.10" y1="37.88" x2="72.30" y2="37.88" stroke-width="1.1"/>
<line x1="331.50" y1="37.88" x2="326.30" y2="37.88" stroke-width="1.1"/>
<line x1="67.10" y1="28.53" x2="69.70" y2="28.53" stroke-width="1.1"/>
<line x1="331.50" y1="28.53" x2="328.90" y2="28.53" stroke-width="1.1"/>
<line x1="67.10" y1="19.19" x2="69.70" y2="19.19" stroke-width="1.1"/>
<line x1="331.50" y1="19.19" x2="328.90" y2="19.19" stroke-width="1.1"/>
<line x1="67.10" y1="9.84" x2="69.70" y2="9.84" stroke-width="1.1"/>
<line x1="331.50" y1="9.84" x2="328.90" y2="9.84" stroke-width="1.1"/>
<line x1="27.76" y1="151.30" x2="36.66" y2="151.30" stroke-width="1.05"/>
<line x1="27.44" y1="182.90" x2="36.34" y2="182.90" stroke-width="1.05"/>
<line x1="50.36" y1="204.65" x2="59.26" y2="204.65" stroke-width="1.05"/>
<line x1="94.31" y1="204.65" x2="103.21" y2="204.65" stroke-width="1.05"/>
<line x1="138.54" y1="204.65" x2="147.44" y2="204.65" stroke-width="1.05"/>
<path d="M178.00,216.10 H175.00 V231.90 H178.00" stroke-width="1.2" fill="none"/>
<path d="M220.00,216.10 H223.25 V231.90 H220.00" stroke-width="1.2" fill="none"/>
<line x1="198.10" y1="231.50" x2="206.60" y2="216.25" stroke-width="1.2"/>
<path d="M0.30,68.95 V66.05 H16.30 V68.95" stroke-width="1.2" fill="none"/>
<path d="M0.30,119.25 V122.25 H16.30 V119.25" stroke-width="1.2" fill="none"/>
<line x1="15.80" y1="97.70" x2="0.00" y2="88.90" stroke-width="1.2"/>
<rect x="427.80" y="0.50" width="264.60" height="186.90" fill="none" stroke="#000" stroke-width="1.1"/>
<line x1="438.82" y1="187.40" x2="438.82" y2="185.50" stroke-width="1.1"/>
<line x1="438.82" y1="0.50" x2="438.82" y2="2.40" stroke-width="1.1"/>
<line x1="449.85" y1="187.40" x2="449.85" y2="185.50" stroke-width="1.1"/>
<line x1="449.85" y1="0.50" x2="449.85" y2="2.40" stroke-width="1.1"/>
<line x1="460.88" y1="187.40" x2="460.88" y2="185.50" stroke-width="1.1"/>
<line x1="460.88" y1="0.50" x2="460.88" y2="2.40" stroke-width="1.1"/>
<line x1="471.90" y1="187.40" x2="471.90" y2="183.80" stroke-width="1.1"/>
<line x1="471.90" y1="0.50" x2="471.90" y2="4.10" stroke-width="1.1"/>
<line x1="482.93" y1="187.40" x2="482.93" y2="185.50" stroke-width="1.1"/>
<line x1="482.93" y1="0.50" x2="482.93" y2="2.40" stroke-width="1.1"/>
<line x1="493.95" y1="187.40" x2="493.95" y2="185.50" stroke-width="1.1"/>
<line x1="493.95" y1="0.50" x2="493.95" y2="2.40" stroke-width="1.1"/>
<line x1="504.98" y1="187.40" x2="504.98" y2="185.50" stroke-width="1.1"/>
<line x1="504.98" y1="0.50" x2="504.98" y2="2.40" stroke-width="1.1"/>
<line x1="516.00" y1="187.40" x2="516.00" y2="183.80" stroke-width="1.1"/>
<line x1="516.00" y1="0.50" x2="516.00" y2="4.10" stroke-width="1.1"/>
<line x1="527.02" y1="187.40" x2="527.02" y2="185.50" stroke-width="1.1"/>
<line x1="527.02" y1="0.50" x2="527.02" y2="2.40" stroke-width="1.1"/>
<line x1="538.05" y1="187.40" x2="538.05" y2="185.50" stroke-width="1.1"/>
<line x1="538.05" y1="0.50" x2="538.05" y2="2.40" stroke-width="1.1"/>
<line x1="549.08" y1="187.40" x2="549.08" y2="185.50" stroke-width="1.1"/>
<line x1="549.08" y1="0.50" x2="549.08" y2="2.40" stroke-width="1.1"/>
<line x1="560.10" y1="187.40" x2="560.10" y2="183.80" stroke-width="1.1"/>
<line x1="560.10" y1="0.50" x2="560.10" y2="4.10" stroke-width="1.1"/>
<line x1="571.12" y1="187.40" x2="571.12" y2="185.50" stroke-width="1.1"/>
<line x1="571.12" y1="0.50" x2="571.12" y2="2.40" stroke-width="1.1"/>
<line x1="582.15" y1="187.40" x2="582.15" y2="185.50" stroke-width="1.1"/>
<line x1="582.15" y1="0.50" x2="582.15" y2="2.40" stroke-width="1.1"/>
<line x1="593.17" y1="187.40" x2="593.17" y2="185.50" stroke-width="1.1"/>
<line x1="593.17" y1="0.50" x2="593.17" y2="2.40" stroke-width="1.1"/>
<line x1="604.20" y1="187.40" x2="604.20" y2="183.80" stroke-width="1.1"/>
<line x1="604.20" y1="0.50" x2="604.20" y2="4.10" stroke-width="1.1"/>
<line x1="615.23" y1="187.40" x2="615.23" y2="185.50" stroke-width="1.1"/>
<line x1="615.23" y1="0.50" x2="615.23" y2="2.40" stroke-width="1.1"/>
<line x1="626.25" y1="187.40" x2="626.25" y2="185.50" stroke-width="1.1"/>
<line x1="626.25" y1="0.50" x2="626.25" y2="2.40" stroke-width="1.1"/>
<line x1="637.27" y1="187.40" x2="637.27" y2="185.50" stroke-width="1.1"/>
<line x1="637.27" y1="0.50" x2="637.27" y2="2.40" stroke-width="1.1"/>
<line x1="648.30" y1="187.40" x2="648.30" y2="183.80" stroke-width="1.1"/>
<line x1="648.30" y1="0.50" x2="648.30" y2="4.10" stroke-width="1.1"/>
<line x1="659.33" y1="187.40" x2="659.33" y2="185.50" stroke-width="1.1"/>
<line x1="659.33" y1="0.50" x2="659.33" y2="2.40" stroke-width="1.1"/>
<line x1="670.35" y1="187.40" x2="670.35" y2="185.50" stroke-width="1.1"/>
<line x1="670.35" y1="0.50" x2="670.35" y2="2.40" stroke-width="1.1"/>
<line x1="681.38" y1="187.40" x2="681.38" y2="185.50" stroke-width="1.1"/>
<line x1="681.38" y1="0.50" x2="681.38" y2="2.40" stroke-width="1.1"/>
<line x1="427.80" y1="178.06" x2="430.40" y2="178.06" stroke-width="1.1"/>
<line x1="692.40" y1="178.06" x2="689.80" y2="178.06" stroke-width="1.1"/>
<line x1="427.80" y1="168.71" x2="430.40" y2="168.71" stroke-width="1.1"/>
<line x1="692.40" y1="168.71" x2="689.80" y2="168.71" stroke-width="1.1"/>
<line x1="427.80" y1="159.37" x2="430.40" y2="159.37" stroke-width="1.1"/>
<line x1="692.40" y1="159.37" x2="689.80" y2="159.37" stroke-width="1.1"/>
<line x1="427.80" y1="150.02" x2="433.00" y2="150.02" stroke-width="1.1"/>
<line x1="692.40" y1="150.02" x2="687.20" y2="150.02" stroke-width="1.1"/>
<line x1="427.80" y1="140.68" x2="430.40" y2="140.68" stroke-width="1.1"/>
<line x1="692.40" y1="140.68" x2="689.80" y2="140.68" stroke-width="1.1"/>
<line x1="427.80" y1="131.33" x2="430.40" y2="131.33" stroke-width="1.1"/>
<line x1="692.40" y1="131.33" x2="689.80" y2="131.33" stroke-width="1.1"/>
<line x1="427.80" y1="121.99" x2="430.40" y2="121.99" stroke-width="1.1"/>
<line x1="692.40" y1="121.99" x2="689.80" y2="121.99" stroke-width="1.1"/>
<line x1="427.80" y1="112.64" x2="433.00" y2="112.64" stroke-width="1.1"/>
<line x1="692.40" y1="112.64" x2="687.20" y2="112.64" stroke-width="1.1"/>
<line x1="427.80" y1="103.30" x2="430.40" y2="103.30" stroke-width="1.1"/>
<line x1="692.40" y1="103.30" x2="689.80" y2="103.30" stroke-width="1.1"/>
<line x1="427.80" y1="93.95" x2="430.40" y2="93.95" stroke-width="1.1"/>
<line x1="692.40" y1="93.95" x2="689.80" y2="93.95" stroke-width="1.1"/>
<line x1="427.80" y1="84.61" x2="430.40" y2="84.61" stroke-width="1.1"/>
<line x1="692.40" y1="84.61" x2="689.80" y2="84.61" stroke-width="1.1"/>
<line x1="427.80" y1="75.26" x2="433.00" y2="75.26" stroke-width="1.1"/>
<line x1="692.40" y1="75.26" x2="687.20" y2="75.26" stroke-width="1.1"/>
<line x1="427.80" y1="65.91" x2="430.40" y2="65.91" stroke-width="1.1"/>
<line x1="692.40" y1="65.91" x2="689.80" y2="65.91" stroke-width="1.1"/>
<line x1="427.80" y1="56.57" x2="430.40" y2="56.57" stroke-width="1.1"/>
<line x1="692.40" y1="56.57" x2="689.80" y2="56.57" stroke-width="1.1"/>
<line x1="427.80" y1="47.22" x2="430.40" y2="47.22" stroke-width="1.1"/>
<line x1="692.40" y1="47.22" x2="689.80" y2="47.22" stroke-width="1.1"/>
<line x1="427.80" y1="37.88" x2="433.00" y2="37.88" stroke-width="1.1"/>
<line x1="692.40" y1="37.88" x2="687.20" y2="37.88" stroke-width="1.1"/>
<line x1="427.80" y1="28.53" x2="430.40" y2="28.53" stroke-width="1.1"/>
<line x1="692.40" y1="28.53" x2="689.80" y2="28.53" stroke-width="1.1"/>
<line x1="427.80" y1="19.19" x2="430.40" y2="19.19" stroke-width="1.1"/>
<line x1="692.40" y1="19.19" x2="689.80" y2="19.19" stroke-width="1.1"/>
<line x1="427.80" y1="9.84" x2="430.40" y2="9.84" stroke-width="1.1"/>
<line x1="692.40" y1="9.84" x2="689.80" y2="9.84" stroke-width="1.1"/>
<line x1="388.46" y1="151.30" x2="397.36" y2="151.30" stroke-width="1.05"/>
<line x1="388.14" y1="182.90" x2="397.04" y2="182.90" stroke-width="1.05"/>
<line x1="411.06" y1="204.65" x2="419.96" y2="204.65" stroke-width="1.05"/>
<line x1="455.04" y1="204.65" x2="463.94" y2="204.65" stroke-width="1.05"/>
<line x1="499.31" y1="204.65" x2="508.21" y2="204.65" stroke-width="1.05"/>
<path d="M538.70,216.10 H535.70 V231.90 H538.70" stroke-width="1.2" fill="none"/>
<path d="M580.70,216.10 H583.95 V231.90 H580.70" stroke-width="1.2" fill="none"/>
<line x1="558.80" y1="231.50" x2="567.30" y2="216.25" stroke-width="1.2"/>
<path d="M361.00,72.50 V69.60 H377.00 V72.50" stroke-width="1.2" fill="none"/>
<path d="M361.00,115.90 V118.90 H377.00 V115.90" stroke-width="1.2" fill="none"/>
<line x1="376.50" y1="101.25" x2="360.70" y2="92.45" stroke-width="1.2"/>
<rect x="67.10" y="249.20" width="264.40" height="186.90" fill="none" stroke="#000" stroke-width="1.1"/>
<line x1="78.12" y1="436.10" x2="78.12" y2="434.20" stroke-width="1.1"/>
<line x1="78.12" y1="249.20" x2="78.12" y2="251.10" stroke-width="1.1"/>
<line x1="89.13" y1="436.10" x2="89.13" y2="434.20" stroke-width="1.1"/>
<line x1="89.13" y1="249.20" x2="89.13" y2="251.10" stroke-width="1.1"/>
<line x1="100.15" y1="436.10" x2="100.15" y2="434.20" stroke-width="1.1"/>
<line x1="100.15" y1="249.20" x2="100.15" y2="251.10" stroke-width="1.1"/>
<line x1="111.17" y1="436.10" x2="111.17" y2="432.50" stroke-width="1.1"/>
<line x1="111.17" y1="249.20" x2="111.17" y2="252.80" stroke-width="1.1"/>
<line x1="122.18" y1="436.10" x2="122.18" y2="434.20" stroke-width="1.1"/>
<line x1="122.18" y1="249.20" x2="122.18" y2="251.10" stroke-width="1.1"/>
<line x1="133.20" y1="436.10" x2="133.20" y2="434.20" stroke-width="1.1"/>
<line x1="133.20" y1="249.20" x2="133.20" y2="251.10" stroke-width="1.1"/>
<line x1="144.22" y1="436.10" x2="144.22" y2="434.20" stroke-width="1.1"/>
<line x1="144.22" y1="249.20" x2="144.22" y2="251.10" stroke-width="1.1"/>
<line x1="155.23" y1="436.10" x2="155.23" y2="432.50" stroke-width="1.1"/>
<line x1="155.23" y1="249.20" x2="155.23" y2="252.80" stroke-width="1.1"/>
<line x1="166.25" y1="436.10" x2="166.25" y2="434.20" stroke-width="1.1"/>
<line x1="166.25" y1="249.20" x2="166.25" y2="251.10" stroke-width="1.1"/>
<line x1="177.27" y1="436.10" x2="177.27" y2="434.20" stroke-width="1.1"/>
<line x1="177.27" y1="249.20" x2="177.27" y2="251.10" stroke-width="1.1"/>
<line x1="188.28" y1="436.10" x2="188.28" y2="434.20" stroke-width="1.1"/>
<line x1="188.28" y1="249.20" x2="188.28" y2="251.10" stroke-width="1.1"/>
<line x1="199.30" y1="436.10" x2="199.30" y2="432.50" stroke-width="1.1"/>
<line x1="199.30" y1="249.20" x2="199.30" y2="252.80" stroke-width="1.1"/>
<line x1="210.32" y1="436.10" x2="210.32" y2="434.20" stroke-width="1.1"/>
<line x1="210.32" y1="249.20" x2="210.32" y2="251.10" stroke-width="1.1"/>
<line x1="221.33" y1="436.10" x2="221.33" y2="434.20" stroke-width="1.1"/>
<line x1="221.33" y1="249.20" x2="221.33" y2="251.10" stroke-width="1.1"/>
<line x1="232.35" y1="436.10" x2="232.35" y2="434.20" stroke-width="1.1"/>
<line x1="232.35" y1="249.20" x2="232.35" y2="251.10" stroke-width="1.1"/>
<line x1="243.37" y1="436.10" x2="243.37" y2="432.50" stroke-width="1.1"/>
<line x1="243.37" y1="249.20" x2="243.37" y2="252.80" stroke-width="1.1"/>
<line x1="254.38" y1="436.10" x2="254.38" y2="434.20" stroke-width="1.1"/>
<line x1="254.38" y1="249.20" x2="254.38" y2="251.10" stroke-width="1.1"/>
<line x1="265.40" y1="436.10" x2="265.40" y2="434.20" stroke-width="1.1"/>
<line x1="265.40" y1="249.20" x2="265.40" y2="251.10" stroke-width="1.1"/>
<line x1="276.42" y1="436.10" x2="276.42" y2="434.20" stroke-width="1.1"/>
<line x1="276.42" y1="249.20" x2="276.42" y2="251.10" stroke-width="1.1"/>
<line x1="287.43" y1="436.10" x2="287.43" y2="432.50" stroke-width="1.1"/>
<line x1="287.43" y1="249.20" x2="287.43" y2="252.80" stroke-width="1.1"/>
<line x1="298.45" y1="436.10" x2="298.45" y2="434.20" stroke-width="1.1"/>
<line x1="298.45" y1="249.20" x2="298.45" y2="251.10" stroke-width="1.1"/>
<line x1="309.47" y1="436.10" x2="309.47" y2="434.20" stroke-width="1.1"/>
<line x1="309.47" y1="249.20" x2="309.47" y2="251.10" stroke-width="1.1"/>
<line x1="320.48" y1="436.10" x2="320.48" y2="434.20" stroke-width="1.1"/>
<line x1="320.48" y1="249.20" x2="320.48" y2="251.10" stroke-width="1.1"/>
<line x1="67.10" y1="426.75" x2="69.70" y2="426.75" stroke-width="1.1"/>
<line x1="331.50" y1="426.75" x2="328.90" y2="426.75" stroke-width="1.1"/>
<line x1="67.10" y1="417.41" x2="69.70" y2="417.41" stroke-width="1.1"/>
<line x1="331.50" y1="417.41" x2="328.90" y2="417.41" stroke-width="1.1"/>
<line x1="67.10" y1="408.06" x2="69.70" y2="408.06" stroke-width="1.1"/>
<line x1="331.50" y1="408.06" x2="328.90" y2="408.06" stroke-width="1.1"/>
<line x1="67.10" y1="398.72" x2="72.30" y2="398.72" stroke-width="1.1"/>
<line x1="331.50" y1="398.72" x2="326.30" y2="398.72" stroke-width="1.1"/>
<line x1="67.10" y1="389.38" x2="69.70" y2="389.38" stroke-width="1.1"/>
<line x1="331.50" y1="389.38" x2="328.90" y2="389.38" stroke-width="1.1"/>
<line x1="67.10" y1="380.03" x2="69.70" y2="380.03" stroke-width="1.1"/>
<line x1="331.50" y1="380.03" x2="328.90" y2="380.03" stroke-width="1.1"/>
<line x1="67.10" y1="370.69" x2="69.70" y2="370.69" stroke-width="1.1"/>
<line x1="331.50" y1="370.69" x2="328.90" y2="370.69" stroke-width="1.1"/>
<line x1="67.10" y1="361.34" x2="72.30" y2="361.34" stroke-width="1.1"/>
<line x1="331.50" y1="361.34" x2="326.30" y2="361.34" stroke-width="1.1"/>
<line x1="67.10" y1="352.00" x2="69.70" y2="352.00" stroke-width="1.1"/>
<line x1="331.50" y1="352.00" x2="328.90" y2="352.00" stroke-width="1.1"/>
<line x1="67.10" y1="342.65" x2="69.70" y2="342.65" stroke-width="1.1"/>
<line x1="331.50" y1="342.65" x2="328.90" y2="342.65" stroke-width="1.1"/>
<line x1="67.10" y1="333.31" x2="69.70" y2="333.31" stroke-width="1.1"/>
<line x1="331.50" y1="333.31" x2="328.90" y2="333.31" stroke-width="1.1"/>
<line x1="67.10" y1="323.96" x2="72.30" y2="323.96" stroke-width="1.1"/>
<line x1="331.50" y1="323.96" x2="326.30" y2="323.96" stroke-width="1.1"/>
<line x1="67.10" y1="314.62" x2="69.70" y2="314.62" stroke-width="1.1"/>
<line x1="331.50" y1="314.62" x2="328.90" y2="314.62" stroke-width="1.1"/>
<line x1="67.10" y1="305.27" x2="69.70" y2="305.27" stroke-width="1.1"/>
<line x1="331.50" y1="305.27" x2="328.90" y2="305.27" stroke-width="1.1"/>
<line x1="67.10" y1="295.93" x2="69.70" y2="295.93" stroke-width="1.1"/>
<line x1="331.50" y1="295.93" x2="328.90" y2="295.93" stroke-width="1.1"/>
<line x1="67.10" y1="286.58" x2="72.30" y2="286.58" stroke-width="1.1"/>
<line x1="331.50" y1="286.58" x2="326.30" y2="286.58" stroke-width="1.1"/>
<line x1="67.10" y1="277.24" x2="69.70" y2="277.24" stroke-width="1.1"/>
<line x1="331.50" y1="277.24" x2="328.90" y2="277.24" stroke-width="1.1"/>
<line x1="67.10" y1="267.89" x2="69.70" y2="267.89" stroke-width="1.1"/>
<line x1="331.50" y1="267.89" x2="328.90" y2="267.89" stroke-width="1.1"/>
<line x1="67.10" y1="258.54" x2="69.70" y2="258.54" stroke-width="1.1"/>
<line x1="331.50" y1="258.54" x2="328.90" y2="258.54" stroke-width="1.1"/>
<line x1="27.76" y1="400.00" x2="36.66" y2="400.00" stroke-width="1.05"/>
<line x1="27.44" y1="431.60" x2="36.34" y2="431.60" stroke-width="1.05"/>
<line x1="50.36" y1="453.35" x2="59.26" y2="453.35" stroke-width="1.05"/>
<line x1="94.31" y1="453.35" x2="103.21" y2="453.35" stroke-width="1.05"/>
<line x1="138.54" y1="453.35" x2="147.44" y2="453.35" stroke-width="1.05"/>
<path d="M178.00,464.80 H175.00 V480.60 H178.00" stroke-width="1.2" fill="none"/>
<path d="M220.00,464.80 H223.25 V480.60 H220.00" stroke-width="1.2" fill="none"/>
<line x1="198.10" y1="480.20" x2="206.60" y2="464.95" stroke-width="1.2"/>
<path d="M0.30,317.95 V315.05 H16.30 V317.95" stroke-width="1.2" fill="none"/>
<path d="M0.30,368.20 V371.20 H16.30 V368.20" stroke-width="1.2" fill="none"/>
<line x1="15.80" y1="346.70" x2="0.00" y2="337.90" stroke-width="1.2"/>
<rect x="427.80" y="249.20" width="264.60" height="186.90" fill="none" stroke="#000" stroke-width="1.1"/>
<line x1="438.82" y1="436.10" x2="438.82" y2="434.20" stroke-width="1.1"/>
<line x1="438.82" y1="249.20" x2="438.82" y2="251.10" stroke-width="1.1"/>
<line x1="449.85" y1="436.10" x2="449.85" y2="434.20" stroke-width="1.1"/>
<line x1="449.85" y1="249.20" x2="449.85" y2="251.10" stroke-width="1.1"/>
<line x1="460.88" y1="436.10" x2="460.88" y2="434.20" stroke-width="1.1"/>
<line x1="460.88" y1="249.20" x2="460.88" y2="251.10" stroke-width="1.1"/>
<line x1="471.90" y1="436.10" x2="471.90" y2="432.50" stroke-width="1.1"/>
<line x1="471.90" y1="249.20" x2="471.90" y2="252.80" stroke-width="1.1"/>
<line x1="482.93" y1="436.10" x2="482.93" y2="434.20" stroke-width="1.1"/>
<line x1="482.93" y1="249.20" x2="482.93" y2="251.10" stroke-width="1.1"/>
<line x1="493.95" y1="436.10" x2="493.95" y2="434.20" stroke-width="1.1"/>
<line x1="493.95" y1="249.20" x2="493.95" y2="251.10" stroke-width="1.1"/>
<line x1="504.98" y1="436.10" x2="504.98" y2="434.20" stroke-width="1.1"/>
<line x1="504.98" y1="249.20" x2="504.98" y2="251.10" stroke-width="1.1"/>
<line x1="516.00" y1="436.10" x2="516.00" y2="432.50" stroke-width="1.1"/>
<line x1="516.00" y1="249.20" x2="516.00" y2="252.80" stroke-width="1.1"/>
<line x1="527.02" y1="436.10" x2="527.02" y2="434.20" stroke-width="1.1"/>
<line x1="527.02" y1="249.20" x2="527.02" y2="251.10" stroke-width="1.1"/>
<line x1="538.05" y1="436.10" x2="538.05" y2="434.20" stroke-width="1.1"/>
<line x1="538.05" y1="249.20" x2="538.05" y2="251.10" stroke-width="1.1"/>
<line x1="549.08" y1="436.10" x2="549.08" y2="434.20" stroke-width="1.1"/>
<line x1="549.08" y1="249.20" x2="549.08" y2="251.10" stroke-width="1.1"/>
<line x1="560.10" y1="436.10" x2="560.10" y2="432.50" stroke-width="1.1"/>
<line x1="560.10" y1="249.20" x2="560.10" y2="252.80" stroke-width="1.1"/>
<line x1="571.12" y1="436.10" x2="571.12" y2="434.20" stroke-width="1.1"/>
<line x1="571.12" y1="249.20" x2="571.12" y2="251.10" stroke-width="1.1"/>
<line x1="582.15" y1="436.10" x2="582.15" y2="434.20" stroke-width="1.1"/>
<line x1="582.15" y1="249.20" x2="582.15" y2="251.10" stroke-width="1.1"/>
<line x1="593.17" y1="436.10" x2="593.17" y2="434.20" stroke-width="1.1"/>
<line x1="593.17" y1="249.20" x2="593.17" y2="251.10" stroke-width="1.1"/>
<line x1="604.20" y1="436.10" x2="604.20" y2="432.50" stroke-width="1.1"/>
<line x1="604.20" y1="249.20" x2="604.20" y2="252.80" stroke-width="1.1"/>
<line x1="615.23" y1="436.10" x2="615.23" y2="434.20" stroke-width="1.1"/>
<line x1="615.23" y1="249.20" x2="615.23" y2="251.10" stroke-width="1.1"/>
<line x1="626.25" y1="436.10" x2="626.25" y2="434.20" stroke-width="1.1"/>
<line x1="626.25" y1="249.20" x2="626.25" y2="251.10" stroke-width="1.1"/>
<line x1="637.27" y1="436.10" x2="637.27" y2="434.20" stroke-width="1.1"/>
<line x1="637.27" y1="249.20" x2="637.27" y2="251.10" stroke-width="1.1"/>
<line x1="648.30" y1="436.10" x2="648.30" y2="432.50" stroke-width="1.1"/>
<line x1="648.30" y1="249.20" x2="648.30" y2="252.80" stroke-width="1.1"/>
<line x1="659.33" y1="436.10" x2="659.33" y2="434.20" stroke-width="1.1"/>
<line x1="659.33" y1="249.20" x2="659.33" y2="251.10" stroke-width="1.1"/>
<line x1="670.35" y1="436.10" x2="670.35" y2="434.20" stroke-width="1.1"/>
<line x1="670.35" y1="249.20" x2="670.35" y2="251.10" stroke-width="1.1"/>
<line x1="681.38" y1="436.10" x2="681.38" y2="434.20" stroke-width="1.1"/>
<line x1="681.38" y1="249.20" x2="681.38" y2="251.10" stroke-width="1.1"/>
<line x1="427.80" y1="426.75" x2="430.40" y2="426.75" stroke-width="1.1"/>
<line x1="692.40" y1="426.75" x2="689.80" y2="426.75" stroke-width="1.1"/>
<line x1="427.80" y1="417.41" x2="430.40" y2="417.41" stroke-width="1.1"/>
<line x1="692.40" y1="417.41" x2="689.80" y2="417.41" stroke-width="1.1"/>
<line x1="427.80" y1="408.06" x2="430.40" y2="408.06" stroke-width="1.1"/>
<line x1="692.40" y1="408.06" x2="689.80" y2="408.06" stroke-width="1.1"/>
<line x1="427.80" y1="398.72" x2="433.00" y2="398.72" stroke-width="1.1"/>
<line x1="692.40" y1="398.72" x2="687.20" y2="398.72" stroke-width="1.1"/>
<line x1="427.80" y1="389.38" x2="430.40" y2="389.38" stroke-width="1.1"/>
<line x1="692.40" y1="389.38" x2="689.80" y2="389.38" stroke-width="1.1"/>
<line x1="427.80" y1="380.03" x2="430.40" y2="380.03" stroke-width="1.1"/>
<line x1="692.40" y1="380.03" x2="689.80" y2="380.03" stroke-width="1.1"/>
<line x1="427.80" y1="370.69" x2="430.40" y2="370.69" stroke-width="1.1"/>
<line x1="692.40" y1="370.69" x2="689.80" y2="370.69" stroke-width="1.1"/>
<line x1="427.80" y1="361.34" x2="433.00" y2="361.34" stroke-width="1.1"/>
<line x1="692.40" y1="361.34" x2="687.20" y2="361.34" stroke-width="1.1"/>
<line x1="427.80" y1="352.00" x2="430.40" y2="352.00" stroke-width="1.1"/>
<line x1="692.40" y1="352.00" x2="689.80" y2="352.00" stroke-width="1.1"/>
<line x1="427.80" y1="342.65" x2="430.40" y2="342.65" stroke-width="1.1"/>
<line x1="692.40" y1="342.65" x2="689.80" y2="342.65" stroke-width="1.1"/>
<line x1="427.80" y1="333.31" x2="430.40" y2="333.31" stroke-width="1.1"/>
<line x1="692.40" y1="333.31" x2="689.80" y2="333.31" stroke-width="1.1"/>
<line x1="427.80" y1="323.96" x2="433.00" y2="323.96" stroke-width="1.1"/>
<line x1="692.40" y1="323.96" x2="687.20" y2="323.96" stroke-width="1.1"/>
<line x1="427.80" y1="314.62" x2="430.40" y2="314.62" stroke-width="1.1"/>
<line x1="692.40" y1="314.62" x2="689.80" y2="314.62" stroke-width="1.1"/>
<line x1="427.80" y1="305.27" x2="430.40" y2="305.27" stroke-width="1.1"/>
<line x1="692.40" y1="305.27" x2="689.80" y2="305.27" stroke-width="1.1"/>
<line x1="427.80" y1="295.93" x2="430.40" y2="295.93" stroke-width="1.1"/>
<line x1="692.40" y1="295.93" x2="689.80" y2="295.93" stroke-width="1.1"/>
<line x1="427.80" y1="286.58" x2="433.00" y2="286.58" stroke-width="1.1"/>
<line x1="692.40" y1="286.58" x2="687.20" y2="286.58" stroke-width="1.1"/>
<line x1="427.80" y1="277.24" x2="430.40" y2="277.24" stroke-width="1.1"/>
<line x1="692.40" y1="277.24" x2="689.80" y2="277.24" stroke-width="1.1"/>
<line x1="427.80" y1="267.89" x2="430.40" y2="267.89" stroke-width="1.1"/>
<line x1="692.40" y1="267.89" x2="689.80" y2="267.89" stroke-width="1.1"/>
<line x1="427.80" y1="258.54" x2="430.40" y2="258.54" stroke-width="1.1"/>
<line x1="692.40" y1="258.54" x2="689.80" y2="258.54" stroke-width="1.1"/>
<line x1="388.46" y1="400.00" x2="397.36" y2="400.00" stroke-width="1.05"/>
<line x1="388.14" y1="431.60" x2="397.04" y2="431.60" stroke-width="1.05"/>
<line x1="411.06" y1="453.35" x2="419.96" y2="453.35" stroke-width="1.05"/>
<line x1="455.04" y1="453.35" x2="463.94" y2="453.35" stroke-width="1.05"/>
<line x1="499.31" y1="453.35" x2="508.21" y2="453.35" stroke-width="1.05"/>
<path d="M538.70,464.80 H535.70 V480.60 H538.70" stroke-width="1.2" fill="none"/>
<path d="M580.70,464.80 H583.95 V480.60 H580.70" stroke-width="1.2" fill="none"/>
<line x1="558.80" y1="480.20" x2="567.30" y2="464.95" stroke-width="1.2"/>
<path d="M361.00,321.10 V318.20 H377.00 V321.10" stroke-width="1.2" fill="none"/>
<path d="M361.00,365.50 V368.50 H377.00 V365.50" stroke-width="1.2" fill="none"/>
<line x1="376.50" y1="349.85" x2="360.70" y2="341.05" stroke-width="1.2"/>
</g>
<g font-family="&quot;Liberation Sans&quot;, sans-serif" fill="#000" fill-opacity="0.85" text-rendering="geometricPrecision">
<text transform="translate(38.96,10.80) scale(0.99,1)" x="0.00 9.38 14.42" y="0" font-size="15.6">0.6</text>
<text transform="translate(38.73,44.10) scale(0.99,1)" x="0.00 9.38 14.42" y="0" font-size="15.6">0.4</text>
<text transform="translate(39.06,82.00) scale(0.99,1)" x="0.00 9.38 14.42" y="0" font-size="15.6">0.2</text>
<text transform="translate(38.88,119.30) scale(0.99,1)" x="0.00 9.38 14.42" y="0" font-size="15.6">0.0</text>
<text transform="translate(39.06,156.50) scale(0.99,1)" x="0.00 9.38 14.42" y="0" font-size="15.6">0.2</text>
<text transform="translate(38.73,188.10) scale(0.99,1)" x="0.00 9.38 14.42" y="0" font-size="15.6">0.4</text>
<text transform="translate(61.65,209.75) scale(0.99,1)" x="0.00 9.38 14.42" y="0" font-size="15.6">0.6</text>
<text transform="translate(105.61,209.75) scale(0.99,1)" x="0.00 9.38 14.42" y="0" font-size="15.6">0.4</text>
<text transform="translate(149.84,209.75) scale(0.99,1)" x="0.00 9.38 14.42" y="0" font-size="15.6">0.2</text>
<text transform="translate(187.87,209.75) scale(0.99,1)" x="0.00 9.38 14.42" y="0" font-size="15.6">0.0</text>
<text transform="translate(232.02,209.75) scale(0.99,1)" x="0.00 9.38 14.42" y="0" font-size="15.6">0.2</text>
<text transform="translate(275.92,209.75) scale(0.99,1)" x="0.00 9.38 14.42" y="0" font-size="15.6">0.4</text>
<text transform="translate(320.10,209.75) scale(0.99,1)" x="0.00 9.38 14.42" y="0" font-size="15.6">0.6</text>
<text transform="translate(179.72,227.90) scale(0.95,1)" x="0.00" y="0" font-size="15.1">F</text>
<text transform="translate(188.29,227.90) scale(0.95,1)" x="0.00" y="0" font-size="15.1">e</text>
<text transform="translate(207.62,227.90) scale(0.95,1)" x="0.00" y="0" font-size="15.1">H</text>
<text transform="translate(12.15,79.09) rotate(-90) scale(1.000,1)" font-size="15.1">e</text>
<text transform="translate(12.15,88.12) rotate(-90) scale(0.948,1)" font-size="15.1">F</text>
<text transform="translate(12.15,117.53) rotate(-90) scale(0.913,1)" font-size="15.1">N</text>
<text transform="translate(12.15,107.03) rotate(-90) scale(1.000,1)" font-size="15.1">ɑ</text>
<text transform="translate(399.66,10.80) scale(0.99,1)" x="0.00 9.38 14.42" y="0" font-size="15.6">0.6</text>
<text transform="translate(399.43,44.10) scale(0.99,1)" x="0.00 9.38 14.42" y="0" font-size="15.6">0.4</text>
<text transform="translate(399.76,82.00) scale(0.99,1)" x="0.00 9.38 14.42" y="0" font-size="15.6">0.2</text>
<text transform="translate(399.58,119.30) scale(0.99,1)" x="0.00 9.38 14.42" y="0" font-size="15.6">0.0</text>
<text transform="translate(399.76,156.50) scale(0.99,1)" x="0.00 9.38 14.42" y="0" font-size="15.6">0.2</text>
<text transform="translate(399.43,188.10) scale(0.99,1)" x="0.00 9.38 14.42" y="0" font-size="15.6">0.4</text>
<text transform="translate(422.35,209.75) scale(0.99,1)" x="0.00 9.38 14.42" y="0" font-size="15.6">0.6</text>
<text transform="translate(466.34,209.75) scale(0.99,1)" x="0.00 9.38 14.42" y="0" font-size="15.6">0.4</text>
<text transform="translate(510.60,209.75) scale(0.99,1)" x="0.00 9.38 14.42" y="0" font-size="15.6">0.2</text>
<text transform="translate(548.67,209.75) scale(0.99,1)" x="0.00 9.38 14.42" y="0" font-size="15.6">0.0</text>
<text transform="translate(592.85,209.75) scale(0.99,1)" x="0.00 9.38 14.42" y="0" font-size="15.6">0.2</text>
<text transform="translate(636.79,209.75) scale(0.99,1)" x="0.00 9.38 14.42" y="0" font-size="15.6">0.4</text>
<text transform="translate(681.00,209.75) scale(0.99,1)" x="0.00 9.38 14.42" y="0" font-size="15.6">0.6</text>
<text transform="translate(540.42,227.90) scale(0.95,1)" x="0.00" y="0" font-size="15.1">F</text>
<text transform="translate(548.99,227.90) scale(0.95,1)" x="0.00" y="0" font-size="15.1">e</text>
<text transform="translate(568.32,227.90) scale(0.95,1)" x="0.00" y="0" font-size="15.1">H</text>
<text transform="translate(372.85,82.64) rotate(-90) scale(1.000,1)" font-size="15.1">e</text>
<text transform="translate(372.85,91.67) rotate(-90) scale(0.948,1)" font-size="15.1">F</text>
<text transform="translate(372.85,113.32) rotate(-90) scale(0.780,1)" font-size="15.1">A</text>
<text transform="translate(372.85,106.22) rotate(-90) scale(1.000,1)" font-size="15.1">l</text>
<text transform="translate(38.96,259.50) scale(0.99,1)" x="0.00 9.38 14.42" y="0" font-size="15.6">0.6</text>
<text transform="translate(38.73,292.80) scale(0.99,1)" x="0.00 9.38 14.42" y="0" font-size="15.6">0.4</text>
<text transform="translate(39.06,330.70) scale(0.99,1)" x="0.00 9.38 14.42" y="0" font-size="15.6">0.2</text>
<text transform="translate(38.88,368.00) scale(0.99,1)" x="0.00 9.38 14.42" y="0" font-size="15.6">0.0</text>
<text transform="translate(39.06,405.20) scale(0.99,1)" x="0.00 9.38 14.42" y="0" font-size="15.6">0.2</text>
<text transform="translate(38.73,436.80) scale(0.99,1)" x="0.00 9.38 14.42" y="0" font-size="15.6">0.4</text>
<text transform="translate(61.65,458.45) scale(0.99,1)" x="0.00 9.38 14.42" y="0" font-size="15.6">0.6</text>
<text transform="translate(105.61,458.45) scale(0.99,1)" x="0.00 9.38 14.42" y="0" font-size="15.6">0.4</text>
<text transform="translate(149.84,458.45) scale(0.99,1)" x="0.00 9.38 14.42" y="0" font-size="15.6">0.2</text>
<text transform="translate(187.87,458.45) scale(0.99,1)" x="0.00 9.38 14.42" y="0" font-size="15.6">0.0</text>
<text transform="translate(232.02,458.45) scale(0.99,1)" x="0.00 9.38 14.42" y="0" font-size="15.6">0.2</text>
<text transform="translate(275.92,458.45) scale(0.99,1)" x="0.00 9.38 14.42" y="0" font-size="15.6">0.4</text>
<text transform="translate(320.10,458.45) scale(0.99,1)" x="0.00 9.38 14.42" y="0" font-size="15.6">0.6</text>
<text transform="translate(179.72,476.60) scale(0.95,1)" x="0.00" y="0" font-size="15.1">F</text>
<text transform="translate(188.29,476.60) scale(0.95,1)" x="0.00" y="0" font-size="15.1">e</text>
<text transform="translate(207.62,476.60) scale(0.95,1)" x="0.00" y="0" font-size="15.1">H</text>
<text transform="translate(12.15,328.09) rotate(-90) scale(1.000,1)" font-size="15.1">e</text>
<text transform="translate(12.15,337.12) rotate(-90) scale(0.948,1)" font-size="15.1">F</text>
<text transform="translate(12.15,366.95) rotate(-90) scale(0.851,1)" font-size="15.1">M</text>
<text transform="translate(12.15,355.83) rotate(-90) scale(1.000,1)" font-size="15.1">g</text>
<text transform="translate(399.66,259.50) scale(0.99,1)" x="0.00 9.38 14.42" y="0" font-size="15.6">0.6</text>
<text transform="translate(399.43,292.80) scale(0.99,1)" x="0.00 9.38 14.42" y="0" font-size="15.6">0.4</text>
<text transform="translate(399.76,330.70) scale(0.99,1)" x="0.00 9.38 14.42" y="0" font-size="15.6">0.2</text>
<text transform="translate(399.58,368.00) scale(0.99,1)" x="0.00 9.38 14.42" y="0" font-size="15.6">0.0</text>
<text transform="translate(399.76,405.20) scale(0.99,1)" x="0.00 9.38 14.42" y="0" font-size="15.6">0.2</text>
<text transform="translate(399.43,436.80) scale(0.99,1)" x="0.00 9.38 14.42" y="0" font-size="15.6">0.4</text>
<text transform="translate(422.35,458.45) scale(0.99,1)" x="0.00 9.38 14.42" y="0" font-size="15.6">0.6</text>
<text transform="translate(466.34,458.45) scale(0.99,1)" x="0.00 9.38 14.42" y="0" font-size="15.6">0.4</text>
<text transform="translate(510.60,458.45) scale(0.99,1)" x="0.00 9.38 14.42" y="0" font-size="15.6">0.2</text>
<text transform="translate(548.67,458.45) scale(0.99,1)" x="0.00 9.38 14.42" y="0" font-size="15.6">0.0</text>
<text transform="translate(592.85,458.45) scale(0.99,1)" x="0.00 9.38 14.42" y="0" font-size="15.6">0.2</text>
<text transform="translate(636.79,458.45) scale(0.99,1)" x="0.00 9.38 14.42" y="0" font-size="15.6">0.4</text>
<text transform="translate(681.00,458.45) scale(0.99,1)" x="0.00 9.38 14.42" y="0" font-size="15.6">0.6</text>
<text transform="translate(540.42,476.60) scale(0.95,1)" x="0.00" y="0" font-size="15.1">F</text>
<text transform="translate(548.99,476.60) scale(0.95,1)" x="0.00" y="0" font-size="15.1">e</text>
<text transform="translate(568.32,476.60) scale(0.95,1)" x="0.00" y="0" font-size="15.1">H</text>
<text transform="translate(372.85,331.24) rotate(-90) scale(1.000,1)" font-size="15.1">e</text>
<text transform="translate(372.85,340.27) rotate(-90) scale(0.948,1)" font-size="15.1">F</text>
<text transform="translate(372.85,364.58) rotate(-90) scale(0.989,1)" font-size="15.1">S</text>
<text transform="translate(372.85,355.61) rotate(-90) scale(1.000,1)" font-size="15.1">i</text>
</g>
</svg></body></html>
